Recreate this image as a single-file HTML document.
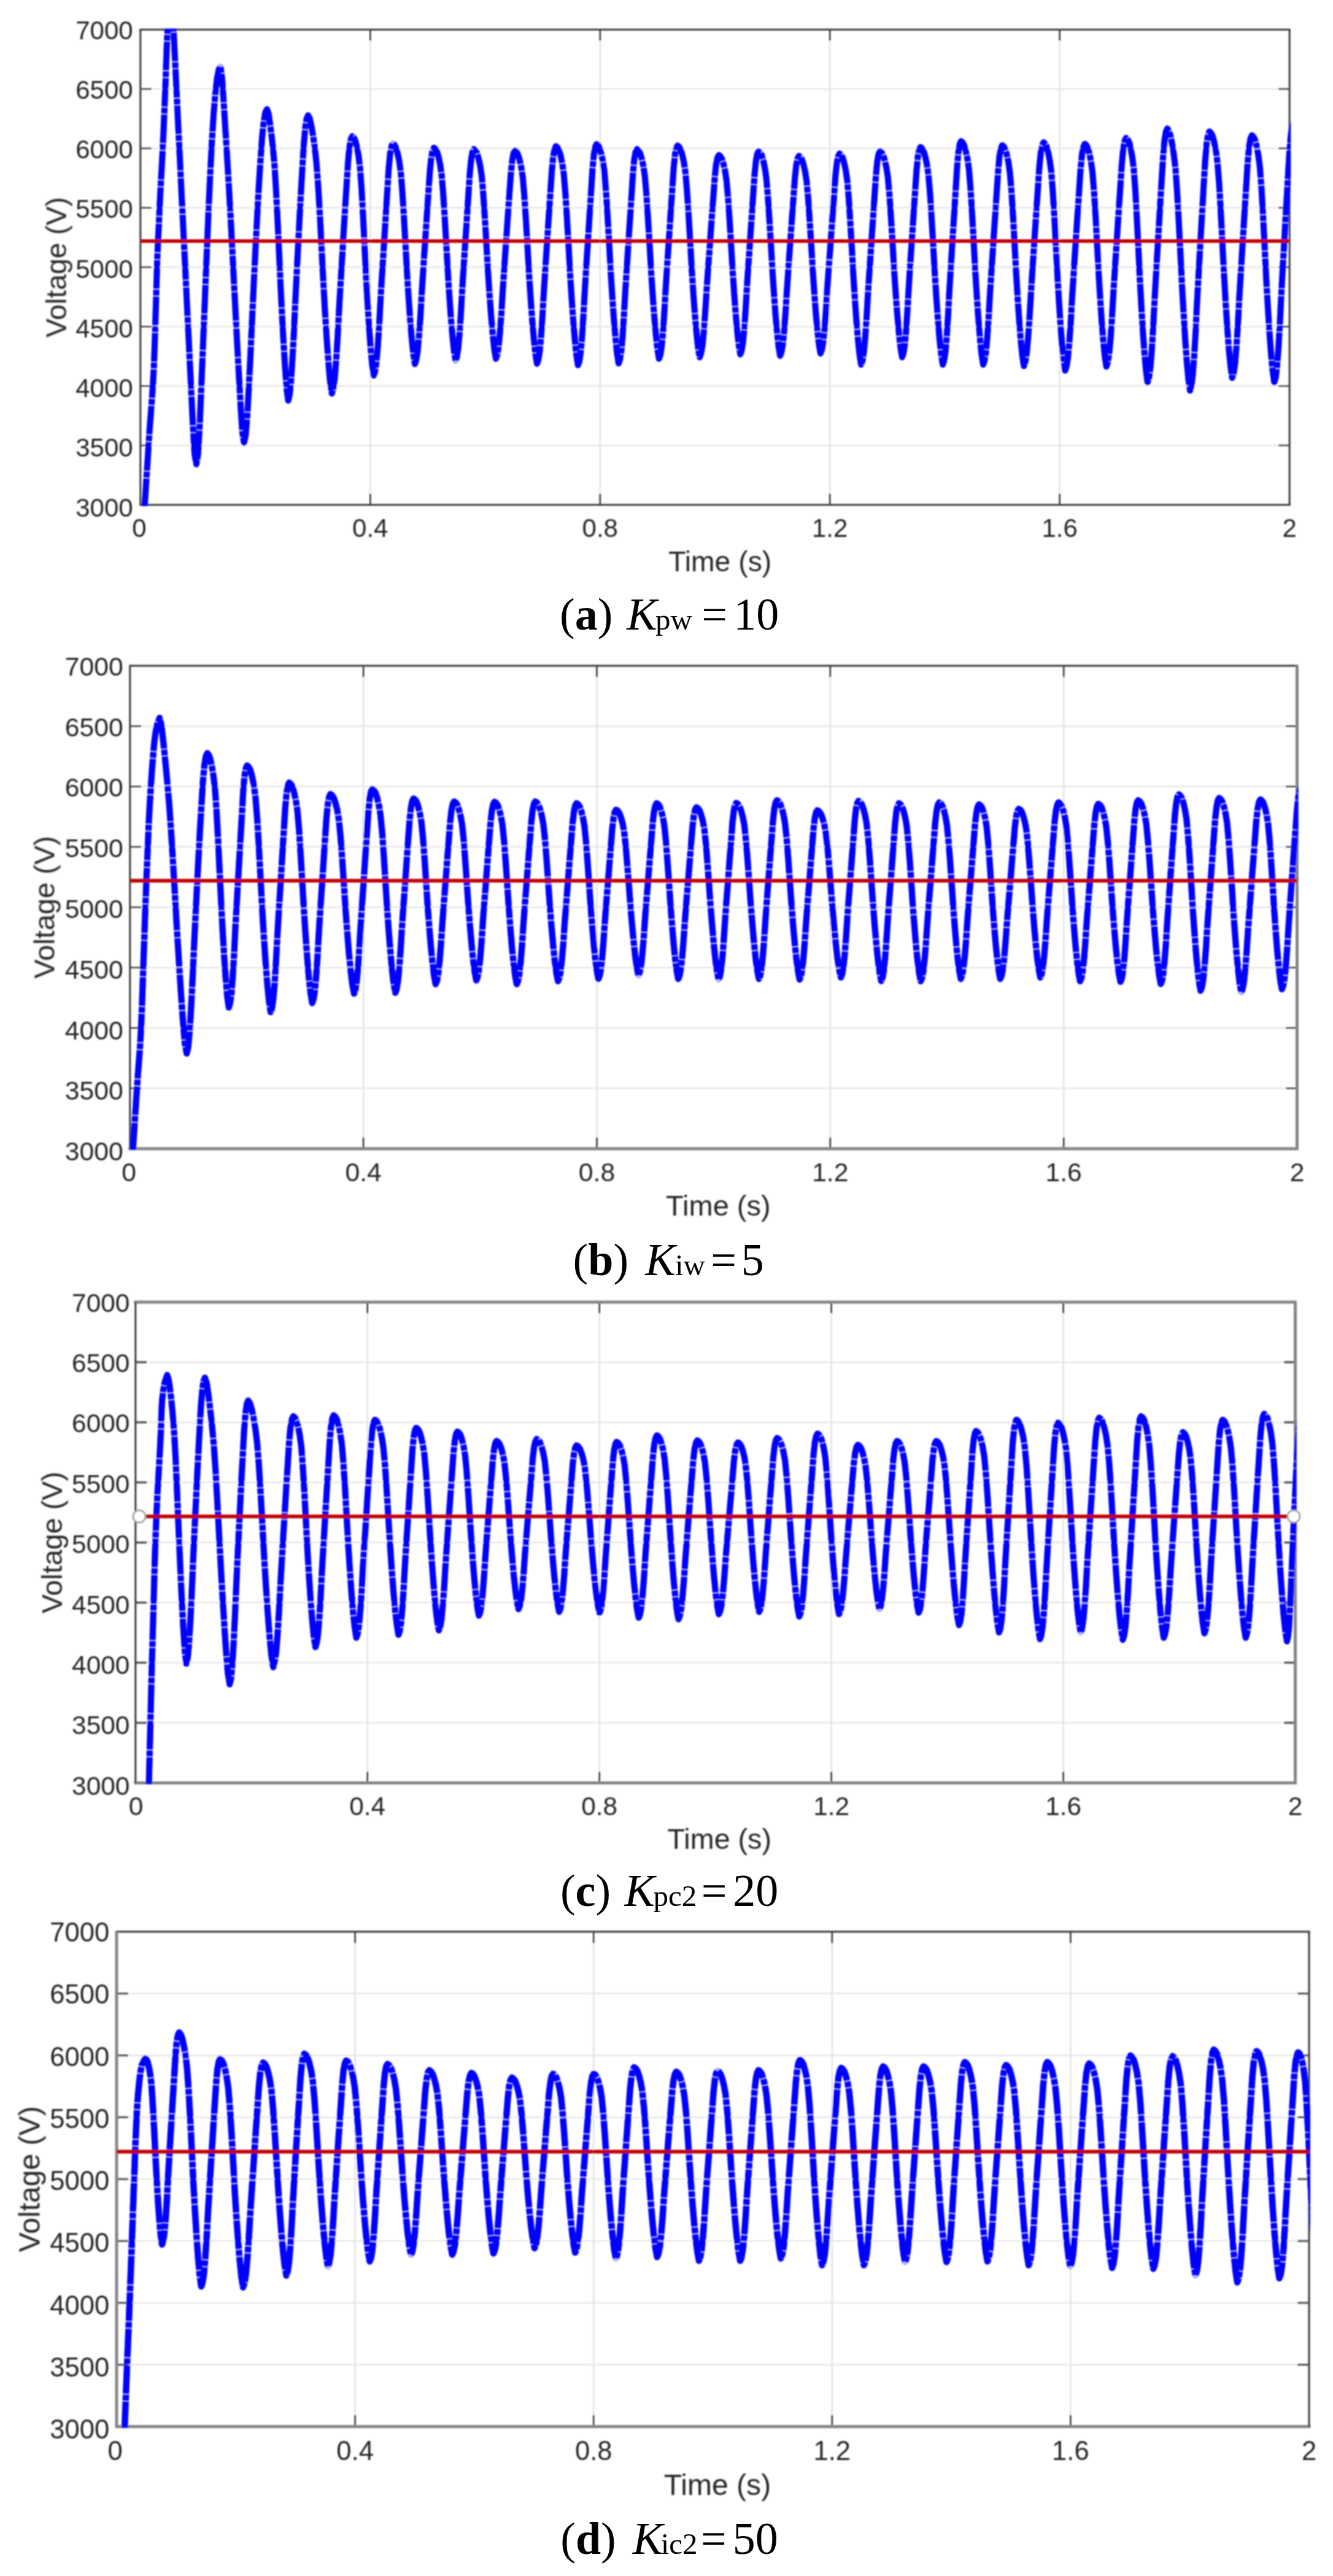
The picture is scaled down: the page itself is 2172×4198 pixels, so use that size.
<!DOCTYPE html>
<html><head><meta charset="utf-8"><title>Figure</title>
<style>
html,body{margin:0;padding:0;background:#fff;}
body{width:2172px;height:4198px;overflow:hidden;}
svg{display:block;}
.sa{font-family:"Liberation Sans",Arial,Helvetica,sans-serif;fill:#262626;}
.se{font-family:"Liberation Serif","Times New Roman",serif;fill:#000;}
</style></head><body>
<svg width="2172" height="4198" viewBox="0 0 2172 4198">
<rect width="2172" height="4198" fill="#fff"/>
<defs><filter id="bl" x="-2%" y="-2%" width="104%" height="104%"><feGaussianBlur stdDeviation="0.85"/></filter></defs>
<g filter="url(#bl)">
<line x1="603.3" y1="48.2" x2="603.3" y2="822.7" stroke="#dcdcdc" stroke-width="2"/>
<line x1="977.8" y1="48.2" x2="977.8" y2="822.7" stroke="#dcdcdc" stroke-width="2"/>
<line x1="1352.2" y1="48.2" x2="1352.2" y2="822.7" stroke="#dcdcdc" stroke-width="2"/>
<line x1="1726.7" y1="48.2" x2="1726.7" y2="822.7" stroke="#dcdcdc" stroke-width="2"/>
<line x1="228.8" y1="145.0" x2="2101.2" y2="145.0" stroke="#e6e6e6" stroke-width="2.5"/>
<line x1="228.8" y1="241.8" x2="2101.2" y2="241.8" stroke="#e6e6e6" stroke-width="2.5"/>
<line x1="228.8" y1="338.6" x2="2101.2" y2="338.6" stroke="#e6e6e6" stroke-width="2.5"/>
<line x1="228.8" y1="435.4" x2="2101.2" y2="435.4" stroke="#e6e6e6" stroke-width="2.5"/>
<line x1="228.8" y1="532.3" x2="2101.2" y2="532.3" stroke="#e6e6e6" stroke-width="2.5"/>
<line x1="228.8" y1="629.1" x2="2101.2" y2="629.1" stroke="#e6e6e6" stroke-width="2.5"/>
<line x1="228.8" y1="725.9" x2="2101.2" y2="725.9" stroke="#e6e6e6" stroke-width="2.5"/>
<line x1="603.3" y1="48.2" x2="603.3" y2="66.2" stroke="#333" stroke-width="2.5"/>
<line x1="603.3" y1="822.7" x2="603.3" y2="804.7" stroke="#333" stroke-width="2.5"/>
<line x1="977.8" y1="48.2" x2="977.8" y2="66.2" stroke="#333" stroke-width="2.5"/>
<line x1="977.8" y1="822.7" x2="977.8" y2="804.7" stroke="#333" stroke-width="2.5"/>
<line x1="1352.2" y1="48.2" x2="1352.2" y2="66.2" stroke="#333" stroke-width="2.5"/>
<line x1="1352.2" y1="822.7" x2="1352.2" y2="804.7" stroke="#333" stroke-width="2.5"/>
<line x1="1726.7" y1="48.2" x2="1726.7" y2="66.2" stroke="#333" stroke-width="2.5"/>
<line x1="1726.7" y1="822.7" x2="1726.7" y2="804.7" stroke="#333" stroke-width="2.5"/>
<line x1="228.8" y1="145.0" x2="246.8" y2="145.0" stroke="#444" stroke-width="2.5"/>
<line x1="2101.2" y1="145.0" x2="2083.2" y2="145.0" stroke="#444" stroke-width="2.5"/>
<line x1="228.8" y1="241.8" x2="246.8" y2="241.8" stroke="#444" stroke-width="2.5"/>
<line x1="2101.2" y1="241.8" x2="2083.2" y2="241.8" stroke="#444" stroke-width="2.5"/>
<line x1="228.8" y1="338.6" x2="246.8" y2="338.6" stroke="#444" stroke-width="2.5"/>
<line x1="2101.2" y1="338.6" x2="2083.2" y2="338.6" stroke="#444" stroke-width="2.5"/>
<line x1="228.8" y1="435.4" x2="246.8" y2="435.4" stroke="#444" stroke-width="2.5"/>
<line x1="2101.2" y1="435.4" x2="2083.2" y2="435.4" stroke="#444" stroke-width="2.5"/>
<line x1="228.8" y1="532.3" x2="246.8" y2="532.3" stroke="#444" stroke-width="2.5"/>
<line x1="2101.2" y1="532.3" x2="2083.2" y2="532.3" stroke="#444" stroke-width="2.5"/>
<line x1="228.8" y1="629.1" x2="246.8" y2="629.1" stroke="#444" stroke-width="2.5"/>
<line x1="2101.2" y1="629.1" x2="2083.2" y2="629.1" stroke="#444" stroke-width="2.5"/>
<line x1="228.8" y1="725.9" x2="246.8" y2="725.9" stroke="#444" stroke-width="2.5"/>
<line x1="2101.2" y1="725.9" x2="2083.2" y2="725.9" stroke="#444" stroke-width="2.5"/>
<line x1="227.3" y1="48.2" x2="2102.7" y2="48.2" stroke="#3a3a3a" stroke-width="3"/>
<line x1="227.3" y1="822.7" x2="2102.7" y2="822.7" stroke="#3a3a3a" stroke-width="3"/>
<line x1="228.8" y1="48.2" x2="228.8" y2="822.7" stroke="#3a3a3a" stroke-width="3"/>
<line x1="2101.2" y1="48.2" x2="2101.2" y2="822.7" stroke="#3a3a3a" stroke-width="3"/>
<clipPath id="cpa"><rect x="227.3" y="46.7" width="1875.8999999999999" height="778.0"/></clipPath>
<g clip-path="url(#cpa)" fill="none" stroke="#0000ff" stroke-linejoin="round" stroke-width="10.0"><path d="M235.6 826.0 L236.7 809.0 L237.8 792.1 L238.9 775.1 L240.0 758.2 L241.1 741.3 L242.2 724.3 L243.3 707.4 L244.5 690.4 L245.8 673.5 L247.1 656.5 L248.3 639.6 L249.4 622.6 L250.3 605.7 L251.1 588.7 L251.7 571.7 L252.3 554.8 L252.8 537.8 L253.3 520.8 L253.8 503.8 L254.3 486.9 L254.8 469.9 L255.3 452.9 L255.8 435.9 L256.4 418.9 L257.1 402.0 L257.9 385.0 L258.7 368.0 L259.5 351.1 L260.3 334.1 L261.1 317.1 L262.0 300.2 L262.9 283.2 L263.9 266.3 L264.8 249.3 L265.6 232.3 L266.4 215.4 L267.1 198.4 L267.8 181.4 L268.5 164.5 L269.2 147.5 L269.9 130.5 L270.4 113.5 L271.0 96.6 L271.6 79.6 L272.3 62.6 L273.1 45.7 L274.4 28.7 L276.0 11.8 L278.5 -5.0 L281.5 22.0 L284.4 82.0 L287.4 142.5 L290.3 202.9 L293.3 263.3 L296.2 323.8 L299.2 384.2 L302.2 444.6 L305.1 505.1 L308.1 565.5 L311.0 626.0 L314.0 686.4 L316.9 738.5 L319.9 756.5 L322.7 740.2 L325.5 691.4 L328.3 623.2 L331.1 554.8 L333.9 486.2 L336.7 417.7 L339.5 349.2 L342.4 285.5 L345.2 231.6 L348.0 187.4 L350.8 152.9 L353.6 128.3 L356.4 113.5 L359.2 108.6 L361.9 127.6 L364.7 169.9 L367.4 213.6 L370.2 258.1 L372.9 304.0 L375.7 353.3 L378.4 405.1 L381.1 458.0 L383.9 511.1 L386.6 562.9 L389.4 613.6 L392.1 662.9 L394.9 704.9 L397.6 721.4 L400.3 709.4 L402.9 676.9 L405.6 628.1 L408.3 574.4 L411.0 515.9 L413.6 460.3 L416.3 405.6 L419.0 353.3 L421.6 305.6 L424.3 263.1 L427.0 224.9 L429.7 198.3 L432.3 183.3 L435.0 178.0 L437.5 185.0 L439.9 200.5 L442.4 220.2 L444.9 242.8 L447.4 270.5 L449.8 310.4 L452.3 359.5 L454.8 413.0 L457.2 467.0 L459.7 516.0 L462.2 561.4 L464.7 601.4 L467.1 634.1 L469.6 652.8 L471.9 643.6 L474.2 621.2 L476.5 584.8 L478.9 541.3 L481.2 490.7 L483.5 444.4 L485.8 399.4 L488.1 355.3 L490.4 312.8 L492.7 273.0 L495.1 234.4 L497.4 207.8 L499.7 193.3 L502.0 188.0 L504.8 193.6 L507.5 205.8 L510.3 222.4 L513.1 242.2 L515.8 267.5 L518.6 305.9 L521.4 354.1 L524.1 407.0 L526.9 460.5 L529.6 508.5 L532.4 552.8 L535.2 591.3 L537.9 622.5 L540.7 641.2 L543.1 633.4 L545.5 616.0 L547.8 586.1 L550.2 548.1 L552.6 502.1 L555.0 461.0 L557.4 421.3 L559.7 382.0 L562.1 342.8 L564.5 305.1 L566.9 267.1 L569.2 241.2 L571.6 227.1 L574.0 222.0 L576.5 224.3 L579.0 229.4 L581.5 239.2 L584.0 252.5 L586.5 271.8 L589.0 305.3 L591.5 349.7 L593.9 399.1 L596.4 449.2 L598.9 493.4 L601.4 533.4 L603.9 567.1 L606.4 594.0 L608.9 612.0 L611.1 605.2 L613.3 590.6 L615.6 564.6 L617.8 530.8 L620.0 489.2 L622.2 452.2 L624.5 416.8 L626.7 381.4 L628.9 345.7 L631.1 310.9 L633.3 275.5 L635.6 251.3 L637.8 238.3 L640.0 233.5 L642.6 235.7 L645.1 240.3 L647.7 249.4 L650.3 261.6 L652.9 279.4 L655.4 310.4 L658.0 351.3 L660.6 396.8 L663.1 443.1 L665.7 483.8 L668.3 520.7 L670.9 551.8 L673.4 576.6 L676.0 593.2 L678.2 586.8 L680.4 573.2 L682.6 549.0 L684.9 517.6 L687.1 478.8 L689.3 444.4 L691.5 411.4 L693.7 378.4 L695.9 345.2 L698.1 312.8 L700.4 279.8 L702.6 257.3 L704.8 245.1 L707.0 240.7 L709.5 242.8 L712.0 247.3 L714.6 256.0 L717.1 267.8 L719.6 285.0 L722.1 314.9 L724.6 354.4 L727.2 398.4 L729.7 443.0 L732.2 482.4 L734.7 518.0 L737.3 548.0 L739.8 572.0 L742.3 588.0 L744.4 581.8 L746.5 568.5 L748.7 544.8 L750.8 514.0 L752.9 476.0 L755.0 442.4 L757.1 410.1 L759.3 377.8 L761.4 345.2 L763.5 313.6 L765.6 281.2 L767.8 259.2 L769.9 247.4 L772.0 243.0 L774.6 245.1 L777.1 249.5 L779.7 258.1 L782.3 269.7 L784.9 286.6 L787.4 316.0 L790.0 354.8 L792.6 398.1 L795.1 442.0 L797.7 480.7 L800.3 515.8 L802.9 545.3 L805.4 568.8 L808.0 584.6 L810.2 578.5 L812.4 565.4 L814.6 542.1 L816.9 511.9 L819.1 474.6 L821.3 441.5 L823.5 409.7 L825.7 378.0 L827.9 346.0 L830.1 314.9 L832.4 283.1 L834.6 261.4 L836.8 249.8 L839.0 245.5 L841.6 247.6 L844.1 252.1 L846.7 260.8 L849.3 272.6 L851.9 289.8 L854.4 319.7 L857.0 359.2 L859.6 403.2 L862.1 447.8 L864.7 487.1 L867.3 522.7 L869.9 552.7 L872.4 576.7 L875.0 592.7 L877.2 586.3 L879.4 572.6 L881.6 548.3 L883.8 516.7 L886.0 477.7 L888.2 443.1 L890.4 409.9 L892.6 376.8 L894.8 343.3 L897.0 310.8 L899.2 277.6 L901.4 254.9 L903.6 242.8 L905.8 238.3 L908.4 240.4 L910.9 245.1 L913.5 254.0 L916.1 266.2 L918.7 283.8 L921.2 314.5 L923.8 355.1 L926.4 400.3 L928.9 446.2 L931.5 486.6 L934.1 523.2 L936.7 554.0 L939.2 578.6 L941.8 595.1 L944.0 588.6 L946.1 574.7 L948.3 550.0 L950.4 517.8 L952.6 478.2 L954.7 443.1 L956.9 409.3 L959.1 375.6 L961.2 341.6 L963.4 308.6 L965.5 274.8 L967.7 251.8 L969.8 239.4 L972.0 234.9 L974.6 237.0 L977.1 241.7 L979.7 250.7 L982.3 262.8 L984.9 280.5 L987.4 311.3 L990.0 351.9 L992.6 397.2 L995.1 443.1 L997.7 483.6 L1000.3 520.3 L1002.9 551.2 L1005.4 575.8 L1008.0 592.3 L1010.1 586.0 L1012.3 572.5 L1014.4 548.5 L1016.5 517.4 L1018.6 478.9 L1020.8 444.9 L1022.9 412.1 L1025.0 379.5 L1027.2 346.5 L1029.3 314.5 L1031.4 281.7 L1033.5 259.4 L1035.7 247.4 L1037.8 243.0 L1040.4 245.1 L1042.9 249.5 L1045.5 258.1 L1048.1 269.7 L1050.7 286.6 L1053.2 316.0 L1055.8 354.8 L1058.4 398.1 L1060.9 442.0 L1063.5 480.7 L1066.1 515.8 L1068.7 545.3 L1071.2 568.8 L1073.8 584.6 L1076.0 578.3 L1078.1 564.9 L1080.3 541.1 L1082.4 510.1 L1084.6 471.9 L1086.7 438.0 L1088.9 405.5 L1091.1 373.0 L1093.2 340.2 L1095.4 308.4 L1097.5 275.8 L1099.7 253.6 L1101.8 241.7 L1104.0 237.3 L1106.6 239.4 L1109.1 243.8 L1111.7 252.5 L1114.3 264.2 L1116.9 281.3 L1119.4 311.0 L1122.0 350.2 L1124.6 393.9 L1127.1 438.2 L1129.7 477.3 L1132.3 512.7 L1134.9 542.5 L1137.4 566.3 L1140.0 582.2 L1142.2 576.3 L1144.5 563.5 L1146.7 540.9 L1148.9 511.5 L1151.2 475.3 L1153.4 443.1 L1155.7 412.3 L1157.9 381.4 L1160.1 350.3 L1162.4 320.1 L1164.6 289.2 L1166.8 268.2 L1169.1 256.9 L1171.3 252.7 L1173.8 254.7 L1176.3 258.9 L1178.8 267.0 L1181.3 278.1 L1183.8 294.1 L1186.3 322.1 L1188.8 359.0 L1191.3 400.2 L1193.8 441.9 L1196.3 478.7 L1198.8 512.0 L1201.3 540.0 L1203.8 562.4 L1206.3 577.4 L1208.4 571.4 L1210.5 558.7 L1212.7 535.9 L1214.8 506.4 L1216.9 470.0 L1219.0 437.7 L1221.2 406.7 L1223.3 375.7 L1225.4 344.5 L1227.5 314.1 L1229.6 283.1 L1231.8 261.9 L1233.9 250.6 L1236.0 246.4 L1238.5 248.4 L1241.0 252.7 L1243.5 261.1 L1246.0 272.4 L1248.5 288.9 L1251.0 317.6 L1253.5 355.5 L1256.1 397.8 L1258.6 440.6 L1261.1 478.4 L1263.6 512.6 L1266.1 541.4 L1268.6 564.4 L1271.1 579.8 L1273.3 573.9 L1275.5 561.4 L1277.7 539.0 L1279.9 509.9 L1282.1 474.1 L1284.3 442.3 L1286.4 411.8 L1288.6 381.4 L1290.8 350.6 L1293.0 320.7 L1295.2 290.2 L1297.4 269.4 L1299.6 258.2 L1301.8 254.1 L1304.3 256.0 L1306.8 260.2 L1309.3 268.3 L1311.8 279.2 L1314.3 295.2 L1316.8 322.9 L1319.3 359.5 L1321.9 400.3 L1324.4 441.6 L1326.9 478.1 L1329.4 511.1 L1331.9 539.0 L1334.4 561.2 L1336.9 576.0 L1339.1 570.1 L1341.3 557.6 L1343.6 535.2 L1345.8 506.1 L1348.0 470.3 L1350.2 438.5 L1352.5 408.0 L1354.7 377.6 L1356.9 346.8 L1359.1 316.9 L1361.3 286.4 L1363.6 265.6 L1365.8 254.4 L1368.0 250.3 L1370.5 252.4 L1373.0 256.8 L1375.5 265.5 L1378.0 277.2 L1380.5 294.2 L1383.0 323.8 L1385.5 362.9 L1388.1 406.5 L1390.6 450.7 L1393.1 489.6 L1395.6 524.9 L1398.1 554.6 L1400.6 578.3 L1403.1 594.2 L1405.3 587.9 L1407.5 574.5 L1409.7 550.6 L1411.9 519.6 L1414.1 481.3 L1416.3 447.4 L1418.5 414.8 L1420.7 382.3 L1422.9 349.5 L1425.1 317.6 L1427.3 285.0 L1429.5 262.7 L1431.7 250.8 L1433.9 246.4 L1436.5 248.4 L1439.0 252.8 L1441.6 261.2 L1444.2 272.6 L1446.8 289.2 L1449.3 318.2 L1451.9 356.3 L1454.5 398.9 L1457.0 442.0 L1459.6 480.1 L1462.2 514.5 L1464.8 543.6 L1467.3 566.7 L1469.9 582.2 L1472.0 576.0 L1474.2 562.8 L1476.3 539.3 L1478.4 508.7 L1480.6 471.0 L1482.7 437.6 L1484.8 405.6 L1487.0 373.5 L1489.1 341.2 L1491.3 309.8 L1493.4 277.7 L1495.5 255.8 L1497.7 244.0 L1499.8 239.7 L1502.4 241.8 L1505.0 246.4 L1507.6 255.3 L1510.2 267.4 L1512.8 284.9 L1515.4 315.5 L1518.0 355.7 L1520.6 400.7 L1523.2 446.2 L1525.8 486.4 L1528.4 522.8 L1531.0 553.4 L1533.6 577.9 L1536.2 594.2 L1538.3 587.6 L1540.5 573.6 L1542.6 548.6 L1544.7 516.1 L1546.8 476.0 L1549.0 440.5 L1551.1 406.4 L1553.2 372.4 L1555.4 338.0 L1557.5 304.6 L1559.6 270.5 L1561.7 247.2 L1563.9 234.7 L1566.0 230.1 L1568.6 232.3 L1571.1 237.0 L1573.7 246.2 L1576.3 258.5 L1578.9 276.5 L1581.4 307.9 L1584.0 349.3 L1586.6 395.4 L1589.1 442.2 L1591.7 483.5 L1594.3 520.8 L1596.9 552.3 L1599.4 577.4 L1602.0 594.2 L1604.2 587.8 L1606.5 574.0 L1608.7 549.4 L1610.9 517.5 L1613.1 478.2 L1615.4 443.3 L1617.6 409.9 L1619.8 376.4 L1622.1 342.7 L1624.3 309.9 L1626.5 276.4 L1628.7 253.6 L1631.0 241.3 L1633.2 236.8 L1635.7 239.0 L1638.2 243.6 L1640.7 252.7 L1643.2 264.9 L1645.7 282.7 L1648.2 313.7 L1650.8 354.6 L1653.3 400.2 L1655.8 446.4 L1658.3 487.2 L1660.8 524.1 L1663.3 555.2 L1665.8 580.0 L1668.3 596.6 L1670.6 590.0 L1672.9 576.0 L1675.2 550.9 L1677.5 518.4 L1679.8 478.3 L1682.1 442.7 L1684.3 408.6 L1686.6 374.5 L1688.9 340.0 L1691.2 306.6 L1693.5 272.4 L1695.8 249.1 L1698.1 236.6 L1700.4 232.0 L1702.9 234.2 L1705.4 239.0 L1707.9 248.4 L1710.4 261.0 L1712.9 279.4 L1715.4 311.4 L1718.0 353.7 L1720.5 400.8 L1723.0 448.6 L1725.5 490.7 L1728.0 528.9 L1730.5 561.0 L1733.0 586.7 L1735.5 603.8 L1737.8 597.1 L1740.1 582.9 L1742.4 557.5 L1744.7 524.6 L1747.0 483.9 L1749.3 447.9 L1751.5 413.3 L1753.8 378.7 L1756.1 343.9 L1758.4 310.0 L1760.7 275.4 L1763.0 251.8 L1765.3 239.1 L1767.6 234.4 L1770.1 236.6 L1772.6 241.3 L1775.1 250.4 L1777.6 262.8 L1780.1 280.7 L1782.6 312.0 L1785.2 353.3 L1787.7 399.3 L1790.2 445.9 L1792.7 487.1 L1795.2 524.3 L1797.7 555.7 L1800.2 580.8 L1802.7 597.5 L1805.0 590.8 L1807.3 576.4 L1809.6 550.8 L1811.9 517.5 L1814.2 476.5 L1816.5 440.2 L1818.8 405.3 L1821.1 370.4 L1823.4 335.2 L1825.7 301.0 L1828.0 266.1 L1830.3 242.3 L1832.6 229.5 L1834.9 224.8 L1837.4 227.2 L1839.9 232.3 L1842.4 242.4 L1844.9 255.9 L1847.4 275.6 L1849.9 309.9 L1852.4 355.2 L1854.9 405.6 L1857.4 456.8 L1859.9 501.9 L1862.4 542.8 L1864.9 577.2 L1867.4 604.6 L1869.9 623.0 L1872.2 615.4 L1874.5 598.6 L1876.8 569.4 L1879.1 532.1 L1881.4 486.7 L1883.7 446.2 L1886.0 407.2 L1888.3 368.4 L1890.6 329.6 L1892.9 292.2 L1895.2 254.4 L1897.5 228.6 L1899.8 214.6 L1902.1 209.5 L1904.7 213.4 L1907.4 222.0 L1910.0 235.2 L1912.6 251.8 L1915.3 274.3 L1917.9 310.7 L1920.5 357.7 L1923.2 409.6 L1925.8 462.2 L1928.5 509.0 L1931.1 551.8 L1933.7 588.3 L1936.4 617.7 L1939.0 636.4 L1941.3 628.5 L1943.5 610.9 L1945.8 580.5 L1948.1 542.2 L1950.3 495.9 L1952.6 454.4 L1954.8 414.4 L1957.1 374.8 L1959.4 335.4 L1961.6 297.5 L1963.9 259.5 L1966.2 233.5 L1968.4 219.4 L1970.7 214.3 L1973.3 216.8 L1976.0 222.1 L1978.6 232.4 L1981.3 246.1 L1983.9 266.1 L1986.6 300.6 L1989.2 346.2 L1991.8 397.0 L1994.5 448.4 L1997.1 493.8 L1999.8 535.0 L2002.4 569.7 L2005.1 597.3 L2007.7 615.8 L2010.0 608.7 L2012.3 593.4 L2014.6 566.3 L2016.9 531.0 L2019.2 487.5 L2021.5 448.9 L2023.8 411.9 L2026.1 374.9 L2028.4 337.6 L2030.7 301.4 L2033.0 264.3 L2035.3 239.1 L2037.6 225.5 L2039.9 220.5 L2042.5 223.0 L2045.1 228.5 L2047.7 238.9 L2050.3 252.7 L2052.9 272.8 L2055.5 307.4 L2058.1 353.0 L2060.7 403.8 L2063.3 455.4 L2065.9 500.8 L2068.5 542.0 L2071.1 576.8 L2073.7 604.5 L2076.3 623.0 L2078.6 615.1 L2080.8 597.3 L2083.1 566.9 L2085.4 528.5 L2087.6 482.1 L2089.9 440.5 L2092.2 400.4 L2094.4 360.7 L2096.7 321.2 L2098.9 283.3 L2101.2 245.2 L2103.5 219.2 L2105.7 205.1 L2108.0 200.0" stroke-opacity="0.3"/><path d="M235.6 826.0 L236.7 809.0 L237.8 792.1 L238.9 775.1 L240.0 758.2 L241.1 741.3 L242.2 724.3 L243.3 707.4 L244.5 690.4 L245.8 673.5 L247.1 656.5 L248.3 639.6 L249.4 622.6 L250.3 605.7 L251.1 588.7 L251.7 571.7 L252.3 554.8 L252.8 537.8 L253.3 520.8 L253.8 503.8 L254.3 486.9 L254.8 469.9 L255.3 452.9 L255.8 435.9 L256.4 418.9 L257.1 402.0 L257.9 385.0 L258.7 368.0 L259.5 351.1 L260.3 334.1 L261.1 317.1 L262.0 300.2 L262.9 283.2 L263.9 266.3 L264.8 249.3 L265.6 232.3 L266.4 215.4 L267.1 198.4 L267.8 181.4 L268.5 164.5 L269.2 147.5 L269.9 130.5 L270.4 113.5 L271.0 96.6 L271.6 79.6 L272.3 62.6 L273.1 45.7 L274.4 28.7 L276.0 11.8 L278.5 -5.0 L281.5 22.0 L284.4 82.0 L287.4 142.5 L290.3 202.9 L293.3 263.3 L296.2 323.8 L299.2 384.2 L302.2 444.6 L305.1 505.1 L308.1 565.5 L311.0 626.0 L314.0 686.4 L316.9 738.5 L319.9 756.5 L322.7 740.2 L325.5 691.4 L328.3 623.2 L331.1 554.8 L333.9 486.2 L336.7 417.7 L339.5 349.2 L342.4 285.5 L345.2 231.6 L348.0 187.4 L350.8 152.9 L353.6 128.3 L356.4 113.5 L359.2 108.6 L361.9 127.6 L364.7 169.9 L367.4 213.6 L370.2 258.1 L372.9 304.0 L375.7 353.3 L378.4 405.1 L381.1 458.0 L383.9 511.1 L386.6 562.9 L389.4 613.6 L392.1 662.9 L394.9 704.9 L397.6 721.4 L400.3 709.4 L402.9 676.9 L405.6 628.1 L408.3 574.4 L411.0 515.9 L413.6 460.3 L416.3 405.6 L419.0 353.3 L421.6 305.6 L424.3 263.1 L427.0 224.9 L429.7 198.3 L432.3 183.3 L435.0 178.0 L437.5 185.0 L439.9 200.5 L442.4 220.2 L444.9 242.8 L447.4 270.5 L449.8 310.4 L452.3 359.5 L454.8 413.0 L457.2 467.0 L459.7 516.0 L462.2 561.4 L464.7 601.4 L467.1 634.1 L469.6 652.8 L471.9 643.6 L474.2 621.2 L476.5 584.8 L478.9 541.3 L481.2 490.7 L483.5 444.4 L485.8 399.4 L488.1 355.3 L490.4 312.8 L492.7 273.0 L495.1 234.4 L497.4 207.8 L499.7 193.3 L502.0 188.0 L504.8 193.6 L507.5 205.8 L510.3 222.4 L513.1 242.2 L515.8 267.5 L518.6 305.9 L521.4 354.1 L524.1 407.0 L526.9 460.5 L529.6 508.5 L532.4 552.8 L535.2 591.3 L537.9 622.5 L540.7 641.2 L543.1 633.4 L545.5 616.0 L547.8 586.1 L550.2 548.1 L552.6 502.1 L555.0 461.0 L557.4 421.3 L559.7 382.0 L562.1 342.8 L564.5 305.1 L566.9 267.1 L569.2 241.2 L571.6 227.1 L574.0 222.0 L576.5 224.3 L579.0 229.4 L581.5 239.2 L584.0 252.5 L586.5 271.8 L589.0 305.3 L591.5 349.7 L593.9 399.1 L596.4 449.2 L598.9 493.4 L601.4 533.4 L603.9 567.1 L606.4 594.0 L608.9 612.0 L611.1 605.2 L613.3 590.6 L615.6 564.6 L617.8 530.8 L620.0 489.2 L622.2 452.2 L624.5 416.8 L626.7 381.4 L628.9 345.7 L631.1 310.9 L633.3 275.5 L635.6 251.3 L637.8 238.3 L640.0 233.5 L642.6 235.7 L645.1 240.3 L647.7 249.4 L650.3 261.6 L652.9 279.4 L655.4 310.4 L658.0 351.3 L660.6 396.8 L663.1 443.1 L665.7 483.8 L668.3 520.7 L670.9 551.8 L673.4 576.6 L676.0 593.2 L678.2 586.8 L680.4 573.2 L682.6 549.0 L684.9 517.6 L687.1 478.8 L689.3 444.4 L691.5 411.4 L693.7 378.4 L695.9 345.2 L698.1 312.8 L700.4 279.8 L702.6 257.3 L704.8 245.1 L707.0 240.7 L709.5 242.8 L712.0 247.3 L714.6 256.0 L717.1 267.8 L719.6 285.0 L722.1 314.9 L724.6 354.4 L727.2 398.4 L729.7 443.0 L732.2 482.4 L734.7 518.0 L737.3 548.0 L739.8 572.0 L742.3 588.0 L744.4 581.8 L746.5 568.5 L748.7 544.8 L750.8 514.0 L752.9 476.0 L755.0 442.4 L757.1 410.1 L759.3 377.8 L761.4 345.2 L763.5 313.6 L765.6 281.2 L767.8 259.2 L769.9 247.4 L772.0 243.0 L774.6 245.1 L777.1 249.5 L779.7 258.1 L782.3 269.7 L784.9 286.6 L787.4 316.0 L790.0 354.8 L792.6 398.1 L795.1 442.0 L797.7 480.7 L800.3 515.8 L802.9 545.3 L805.4 568.8 L808.0 584.6 L810.2 578.5 L812.4 565.4 L814.6 542.1 L816.9 511.9 L819.1 474.6 L821.3 441.5 L823.5 409.7 L825.7 378.0 L827.9 346.0 L830.1 314.9 L832.4 283.1 L834.6 261.4 L836.8 249.8 L839.0 245.5 L841.6 247.6 L844.1 252.1 L846.7 260.8 L849.3 272.6 L851.9 289.8 L854.4 319.7 L857.0 359.2 L859.6 403.2 L862.1 447.8 L864.7 487.1 L867.3 522.7 L869.9 552.7 L872.4 576.7 L875.0 592.7 L877.2 586.3 L879.4 572.6 L881.6 548.3 L883.8 516.7 L886.0 477.7 L888.2 443.1 L890.4 409.9 L892.6 376.8 L894.8 343.3 L897.0 310.8 L899.2 277.6 L901.4 254.9 L903.6 242.8 L905.8 238.3 L908.4 240.4 L910.9 245.1 L913.5 254.0 L916.1 266.2 L918.7 283.8 L921.2 314.5 L923.8 355.1 L926.4 400.3 L928.9 446.2 L931.5 486.6 L934.1 523.2 L936.7 554.0 L939.2 578.6 L941.8 595.1 L944.0 588.6 L946.1 574.7 L948.3 550.0 L950.4 517.8 L952.6 478.2 L954.7 443.1 L956.9 409.3 L959.1 375.6 L961.2 341.6 L963.4 308.6 L965.5 274.8 L967.7 251.8 L969.8 239.4 L972.0 234.9 L974.6 237.0 L977.1 241.7 L979.7 250.7 L982.3 262.8 L984.9 280.5 L987.4 311.3 L990.0 351.9 L992.6 397.2 L995.1 443.1 L997.7 483.6 L1000.3 520.3 L1002.9 551.2 L1005.4 575.8 L1008.0 592.3 L1010.1 586.0 L1012.3 572.5 L1014.4 548.5 L1016.5 517.4 L1018.6 478.9 L1020.8 444.9 L1022.9 412.1 L1025.0 379.5 L1027.2 346.5 L1029.3 314.5 L1031.4 281.7 L1033.5 259.4 L1035.7 247.4 L1037.8 243.0 L1040.4 245.1 L1042.9 249.5 L1045.5 258.1 L1048.1 269.7 L1050.7 286.6 L1053.2 316.0 L1055.8 354.8 L1058.4 398.1 L1060.9 442.0 L1063.5 480.7 L1066.1 515.8 L1068.7 545.3 L1071.2 568.8 L1073.8 584.6 L1076.0 578.3 L1078.1 564.9 L1080.3 541.1 L1082.4 510.1 L1084.6 471.9 L1086.7 438.0 L1088.9 405.5 L1091.1 373.0 L1093.2 340.2 L1095.4 308.4 L1097.5 275.8 L1099.7 253.6 L1101.8 241.7 L1104.0 237.3 L1106.6 239.4 L1109.1 243.8 L1111.7 252.5 L1114.3 264.2 L1116.9 281.3 L1119.4 311.0 L1122.0 350.2 L1124.6 393.9 L1127.1 438.2 L1129.7 477.3 L1132.3 512.7 L1134.9 542.5 L1137.4 566.3 L1140.0 582.2 L1142.2 576.3 L1144.5 563.5 L1146.7 540.9 L1148.9 511.5 L1151.2 475.3 L1153.4 443.1 L1155.7 412.3 L1157.9 381.4 L1160.1 350.3 L1162.4 320.1 L1164.6 289.2 L1166.8 268.2 L1169.1 256.9 L1171.3 252.7 L1173.8 254.7 L1176.3 258.9 L1178.8 267.0 L1181.3 278.1 L1183.8 294.1 L1186.3 322.1 L1188.8 359.0 L1191.3 400.2 L1193.8 441.9 L1196.3 478.7 L1198.8 512.0 L1201.3 540.0 L1203.8 562.4 L1206.3 577.4 L1208.4 571.4 L1210.5 558.7 L1212.7 535.9 L1214.8 506.4 L1216.9 470.0 L1219.0 437.7 L1221.2 406.7 L1223.3 375.7 L1225.4 344.5 L1227.5 314.1 L1229.6 283.1 L1231.8 261.9 L1233.9 250.6 L1236.0 246.4 L1238.5 248.4 L1241.0 252.7 L1243.5 261.1 L1246.0 272.4 L1248.5 288.9 L1251.0 317.6 L1253.5 355.5 L1256.1 397.8 L1258.6 440.6 L1261.1 478.4 L1263.6 512.6 L1266.1 541.4 L1268.6 564.4 L1271.1 579.8 L1273.3 573.9 L1275.5 561.4 L1277.7 539.0 L1279.9 509.9 L1282.1 474.1 L1284.3 442.3 L1286.4 411.8 L1288.6 381.4 L1290.8 350.6 L1293.0 320.7 L1295.2 290.2 L1297.4 269.4 L1299.6 258.2 L1301.8 254.1 L1304.3 256.0 L1306.8 260.2 L1309.3 268.3 L1311.8 279.2 L1314.3 295.2 L1316.8 322.9 L1319.3 359.5 L1321.9 400.3 L1324.4 441.6 L1326.9 478.1 L1329.4 511.1 L1331.9 539.0 L1334.4 561.2 L1336.9 576.0 L1339.1 570.1 L1341.3 557.6 L1343.6 535.2 L1345.8 506.1 L1348.0 470.3 L1350.2 438.5 L1352.5 408.0 L1354.7 377.6 L1356.9 346.8 L1359.1 316.9 L1361.3 286.4 L1363.6 265.6 L1365.8 254.4 L1368.0 250.3 L1370.5 252.4 L1373.0 256.8 L1375.5 265.5 L1378.0 277.2 L1380.5 294.2 L1383.0 323.8 L1385.5 362.9 L1388.1 406.5 L1390.6 450.7 L1393.1 489.6 L1395.6 524.9 L1398.1 554.6 L1400.6 578.3 L1403.1 594.2 L1405.3 587.9 L1407.5 574.5 L1409.7 550.6 L1411.9 519.6 L1414.1 481.3 L1416.3 447.4 L1418.5 414.8 L1420.7 382.3 L1422.9 349.5 L1425.1 317.6 L1427.3 285.0 L1429.5 262.7 L1431.7 250.8 L1433.9 246.4 L1436.5 248.4 L1439.0 252.8 L1441.6 261.2 L1444.2 272.6 L1446.8 289.2 L1449.3 318.2 L1451.9 356.3 L1454.5 398.9 L1457.0 442.0 L1459.6 480.1 L1462.2 514.5 L1464.8 543.6 L1467.3 566.7 L1469.9 582.2 L1472.0 576.0 L1474.2 562.8 L1476.3 539.3 L1478.4 508.7 L1480.6 471.0 L1482.7 437.6 L1484.8 405.6 L1487.0 373.5 L1489.1 341.2 L1491.3 309.8 L1493.4 277.7 L1495.5 255.8 L1497.7 244.0 L1499.8 239.7 L1502.4 241.8 L1505.0 246.4 L1507.6 255.3 L1510.2 267.4 L1512.8 284.9 L1515.4 315.5 L1518.0 355.7 L1520.6 400.7 L1523.2 446.2 L1525.8 486.4 L1528.4 522.8 L1531.0 553.4 L1533.6 577.9 L1536.2 594.2 L1538.3 587.6 L1540.5 573.6 L1542.6 548.6 L1544.7 516.1 L1546.8 476.0 L1549.0 440.5 L1551.1 406.4 L1553.2 372.4 L1555.4 338.0 L1557.5 304.6 L1559.6 270.5 L1561.7 247.2 L1563.9 234.7 L1566.0 230.1 L1568.6 232.3 L1571.1 237.0 L1573.7 246.2 L1576.3 258.5 L1578.9 276.5 L1581.4 307.9 L1584.0 349.3 L1586.6 395.4 L1589.1 442.2 L1591.7 483.5 L1594.3 520.8 L1596.9 552.3 L1599.4 577.4 L1602.0 594.2 L1604.2 587.8 L1606.5 574.0 L1608.7 549.4 L1610.9 517.5 L1613.1 478.2 L1615.4 443.3 L1617.6 409.9 L1619.8 376.4 L1622.1 342.7 L1624.3 309.9 L1626.5 276.4 L1628.7 253.6 L1631.0 241.3 L1633.2 236.8 L1635.7 239.0 L1638.2 243.6 L1640.7 252.7 L1643.2 264.9 L1645.7 282.7 L1648.2 313.7 L1650.8 354.6 L1653.3 400.2 L1655.8 446.4 L1658.3 487.2 L1660.8 524.1 L1663.3 555.2 L1665.8 580.0 L1668.3 596.6 L1670.6 590.0 L1672.9 576.0 L1675.2 550.9 L1677.5 518.4 L1679.8 478.3 L1682.1 442.7 L1684.3 408.6 L1686.6 374.5 L1688.9 340.0 L1691.2 306.6 L1693.5 272.4 L1695.8 249.1 L1698.1 236.6 L1700.4 232.0 L1702.9 234.2 L1705.4 239.0 L1707.9 248.4 L1710.4 261.0 L1712.9 279.4 L1715.4 311.4 L1718.0 353.7 L1720.5 400.8 L1723.0 448.6 L1725.5 490.7 L1728.0 528.9 L1730.5 561.0 L1733.0 586.7 L1735.5 603.8 L1737.8 597.1 L1740.1 582.9 L1742.4 557.5 L1744.7 524.6 L1747.0 483.9 L1749.3 447.9 L1751.5 413.3 L1753.8 378.7 L1756.1 343.9 L1758.4 310.0 L1760.7 275.4 L1763.0 251.8 L1765.3 239.1 L1767.6 234.4 L1770.1 236.6 L1772.6 241.3 L1775.1 250.4 L1777.6 262.8 L1780.1 280.7 L1782.6 312.0 L1785.2 353.3 L1787.7 399.3 L1790.2 445.9 L1792.7 487.1 L1795.2 524.3 L1797.7 555.7 L1800.2 580.8 L1802.7 597.5 L1805.0 590.8 L1807.3 576.4 L1809.6 550.8 L1811.9 517.5 L1814.2 476.5 L1816.5 440.2 L1818.8 405.3 L1821.1 370.4 L1823.4 335.2 L1825.7 301.0 L1828.0 266.1 L1830.3 242.3 L1832.6 229.5 L1834.9 224.8 L1837.4 227.2 L1839.9 232.3 L1842.4 242.4 L1844.9 255.9 L1847.4 275.6 L1849.9 309.9 L1852.4 355.2 L1854.9 405.6 L1857.4 456.8 L1859.9 501.9 L1862.4 542.8 L1864.9 577.2 L1867.4 604.6 L1869.9 623.0 L1872.2 615.4 L1874.5 598.6 L1876.8 569.4 L1879.1 532.1 L1881.4 486.7 L1883.7 446.2 L1886.0 407.2 L1888.3 368.4 L1890.6 329.6 L1892.9 292.2 L1895.2 254.4 L1897.5 228.6 L1899.8 214.6 L1902.1 209.5 L1904.7 213.4 L1907.4 222.0 L1910.0 235.2 L1912.6 251.8 L1915.3 274.3 L1917.9 310.7 L1920.5 357.7 L1923.2 409.6 L1925.8 462.2 L1928.5 509.0 L1931.1 551.8 L1933.7 588.3 L1936.4 617.7 L1939.0 636.4 L1941.3 628.5 L1943.5 610.9 L1945.8 580.5 L1948.1 542.2 L1950.3 495.9 L1952.6 454.4 L1954.8 414.4 L1957.1 374.8 L1959.4 335.4 L1961.6 297.5 L1963.9 259.5 L1966.2 233.5 L1968.4 219.4 L1970.7 214.3 L1973.3 216.8 L1976.0 222.1 L1978.6 232.4 L1981.3 246.1 L1983.9 266.1 L1986.6 300.6 L1989.2 346.2 L1991.8 397.0 L1994.5 448.4 L1997.1 493.8 L1999.8 535.0 L2002.4 569.7 L2005.1 597.3 L2007.7 615.8 L2010.0 608.7 L2012.3 593.4 L2014.6 566.3 L2016.9 531.0 L2019.2 487.5 L2021.5 448.9 L2023.8 411.9 L2026.1 374.9 L2028.4 337.6 L2030.7 301.4 L2033.0 264.3 L2035.3 239.1 L2037.6 225.5 L2039.9 220.5 L2042.5 223.0 L2045.1 228.5 L2047.7 238.9 L2050.3 252.7 L2052.9 272.8 L2055.5 307.4 L2058.1 353.0 L2060.7 403.8 L2063.3 455.4 L2065.9 500.8 L2068.5 542.0 L2071.1 576.8 L2073.7 604.5 L2076.3 623.0 L2078.6 615.1 L2080.8 597.3 L2083.1 566.9 L2085.4 528.5 L2087.6 482.1 L2089.9 440.5 L2092.2 400.4 L2094.4 360.7 L2096.7 321.2 L2098.9 283.3 L2101.2 245.2 L2103.5 219.2 L2105.7 205.1 L2108.0 200.0" stroke-dasharray="46 2.2 9 2.2"/></g>
<line x1="228.8" y1="392.9" x2="2101.2" y2="392.9" stroke="#c00000" stroke-width="5.8"/>
<text x="216.7" y="63.8" font-size="42.0" text-anchor="end" class="sa">7000</text>
<text x="216.7" y="161.0" font-size="42.0" text-anchor="end" class="sa">6500</text>
<text x="216.7" y="258.2" font-size="42.0" text-anchor="end" class="sa">6000</text>
<text x="216.7" y="355.4" font-size="42.0" text-anchor="end" class="sa">5500</text>
<text x="216.7" y="452.6" font-size="42.0" text-anchor="end" class="sa">5000</text>
<text x="216.7" y="549.9" font-size="42.0" text-anchor="end" class="sa">4500</text>
<text x="216.7" y="647.1" font-size="42.0" text-anchor="end" class="sa">4000</text>
<text x="216.7" y="744.3" font-size="42.0" text-anchor="end" class="sa">3500</text>
<text x="216.7" y="841.5" font-size="42.0" text-anchor="end" class="sa">3000</text>
<text x="227.0" y="874.7" font-size="42.0" text-anchor="middle" class="sa">0</text>
<text x="603.3" y="874.7" font-size="42.0" text-anchor="middle" class="sa">0.4</text>
<text x="977.8" y="874.7" font-size="42.0" text-anchor="middle" class="sa">0.8</text>
<text x="1352.2" y="874.7" font-size="42.0" text-anchor="middle" class="sa">1.2</text>
<text x="1726.7" y="874.7" font-size="42.0" text-anchor="middle" class="sa">1.6</text>
<text x="2101.2" y="874.7" font-size="42.0" text-anchor="middle" class="sa">2</text>
<text x="1173.2" y="931.3" font-size="46.3" text-anchor="middle" class="sa">Time (s)</text>
<text transform="translate(107.7 435.5) rotate(-90)" font-size="46.3" text-anchor="middle" class="sa">Voltage (V)</text>
</g>
<text y="1026.2" class="se" font-size="74"><tspan x="912">(</tspan><tspan font-weight="bold">a</tspan><tspan>)</tspan><tspan x="1021.3" font-style="italic">K</tspan><tspan x="1068" font-size="49">pw</tspan><tspan x="1143.3">=</tspan><tspan x="1195.3">10</tspan></text>
<g filter="url(#bl)">
<line x1="592.1" y1="1085" x2="592.1" y2="1872" stroke="#dcdcdc" stroke-width="2"/>
<line x1="972.5" y1="1085" x2="972.5" y2="1872" stroke="#dcdcdc" stroke-width="2"/>
<line x1="1352.8" y1="1085" x2="1352.8" y2="1872" stroke="#dcdcdc" stroke-width="2"/>
<line x1="1733.2" y1="1085" x2="1733.2" y2="1872" stroke="#dcdcdc" stroke-width="2"/>
<line x1="211.8" y1="1183.4" x2="2113.5" y2="1183.4" stroke="#e6e6e6" stroke-width="2.5"/>
<line x1="211.8" y1="1281.8" x2="2113.5" y2="1281.8" stroke="#e6e6e6" stroke-width="2.5"/>
<line x1="211.8" y1="1380.1" x2="2113.5" y2="1380.1" stroke="#e6e6e6" stroke-width="2.5"/>
<line x1="211.8" y1="1478.5" x2="2113.5" y2="1478.5" stroke="#e6e6e6" stroke-width="2.5"/>
<line x1="211.8" y1="1576.9" x2="2113.5" y2="1576.9" stroke="#e6e6e6" stroke-width="2.5"/>
<line x1="211.8" y1="1675.2" x2="2113.5" y2="1675.2" stroke="#e6e6e6" stroke-width="2.5"/>
<line x1="211.8" y1="1773.6" x2="2113.5" y2="1773.6" stroke="#e6e6e6" stroke-width="2.5"/>
<line x1="592.1" y1="1085" x2="592.1" y2="1103.3" stroke="#333" stroke-width="2.5"/>
<line x1="592.1" y1="1872" x2="592.1" y2="1853.7" stroke="#333" stroke-width="2.5"/>
<line x1="972.5" y1="1085" x2="972.5" y2="1103.3" stroke="#333" stroke-width="2.5"/>
<line x1="972.5" y1="1872" x2="972.5" y2="1853.7" stroke="#333" stroke-width="2.5"/>
<line x1="1352.8" y1="1085" x2="1352.8" y2="1103.3" stroke="#333" stroke-width="2.5"/>
<line x1="1352.8" y1="1872" x2="1352.8" y2="1853.7" stroke="#333" stroke-width="2.5"/>
<line x1="1733.2" y1="1085" x2="1733.2" y2="1103.3" stroke="#333" stroke-width="2.5"/>
<line x1="1733.2" y1="1872" x2="1733.2" y2="1853.7" stroke="#333" stroke-width="2.5"/>
<line x1="211.8" y1="1183.4" x2="230.1" y2="1183.4" stroke="#444" stroke-width="2.5"/>
<line x1="2113.5" y1="1183.4" x2="2095.2" y2="1183.4" stroke="#444" stroke-width="2.5"/>
<line x1="211.8" y1="1281.8" x2="230.1" y2="1281.8" stroke="#444" stroke-width="2.5"/>
<line x1="2113.5" y1="1281.8" x2="2095.2" y2="1281.8" stroke="#444" stroke-width="2.5"/>
<line x1="211.8" y1="1380.1" x2="230.1" y2="1380.1" stroke="#444" stroke-width="2.5"/>
<line x1="2113.5" y1="1380.1" x2="2095.2" y2="1380.1" stroke="#444" stroke-width="2.5"/>
<line x1="211.8" y1="1478.5" x2="230.1" y2="1478.5" stroke="#444" stroke-width="2.5"/>
<line x1="2113.5" y1="1478.5" x2="2095.2" y2="1478.5" stroke="#444" stroke-width="2.5"/>
<line x1="211.8" y1="1576.9" x2="230.1" y2="1576.9" stroke="#444" stroke-width="2.5"/>
<line x1="2113.5" y1="1576.9" x2="2095.2" y2="1576.9" stroke="#444" stroke-width="2.5"/>
<line x1="211.8" y1="1675.2" x2="230.1" y2="1675.2" stroke="#444" stroke-width="2.5"/>
<line x1="2113.5" y1="1675.2" x2="2095.2" y2="1675.2" stroke="#444" stroke-width="2.5"/>
<line x1="211.8" y1="1773.6" x2="230.1" y2="1773.6" stroke="#444" stroke-width="2.5"/>
<line x1="2113.5" y1="1773.6" x2="2095.2" y2="1773.6" stroke="#444" stroke-width="2.5"/>
<line x1="210.3" y1="1085" x2="2115.0" y2="1085" stroke="#3a3a3a" stroke-width="3"/>
<line x1="209.3" y1="1872" x2="2116.0" y2="1872" stroke="#858585" stroke-width="5"/>
<line x1="211.8" y1="1085" x2="211.8" y2="1872" stroke="#3a3a3a" stroke-width="3"/>
<line x1="2113.5" y1="1085" x2="2113.5" y2="1872" stroke="#858585" stroke-width="5"/>
<clipPath id="cpb"><rect x="210.3" y="1083.5" width="1905.2" height="790.5"/></clipPath>
<g clip-path="url(#cpb)" fill="none" stroke="#0000ff" stroke-linejoin="round" stroke-width="10.2"><path d="M216.5 1876.0 L217.4 1861.6 L218.3 1847.1 L219.3 1832.7 L220.2 1818.3 L221.2 1803.9 L222.1 1789.5 L223.1 1775.0 L224.1 1760.6 L225.1 1746.2 L226.2 1731.8 L227.3 1717.4 L228.3 1702.9 L229.1 1688.5 L229.9 1674.1 L230.5 1659.6 L231.1 1645.2 L231.6 1630.7 L232.1 1616.3 L232.6 1601.8 L233.1 1587.4 L233.6 1573.0 L234.1 1558.5 L234.6 1544.1 L235.1 1529.6 L235.6 1515.2 L236.1 1500.7 L236.6 1486.3 L237.1 1471.8 L237.7 1457.4 L238.2 1442.9 L238.8 1428.5 L239.4 1414.1 L240.0 1399.6 L240.6 1385.2 L241.2 1370.7 L241.8 1356.3 L242.4 1341.8 L243.1 1327.4 L243.9 1313.0 L244.7 1298.5 L245.6 1284.1 L246.6 1269.7 L247.6 1255.3 L248.7 1240.8 L249.9 1226.4 L251.2 1212.0 L252.9 1197.7 L255.2 1183.4 L260.0 1169.8 L263.2 1182.6 L266.3 1210.8 L269.5 1242.0 L272.6 1275.2 L275.8 1311.9 L278.9 1356.8 L282.1 1408.0 L285.3 1462.1 L288.4 1516.5 L291.6 1567.6 L294.7 1616.2 L297.9 1661.3 L301.0 1698.8 L304.2 1716.8 L306.6 1706.7 L309.0 1681.4 L311.4 1641.3 L313.8 1594.7 L316.2 1541.6 L318.6 1492.4 L321.0 1444.5 L323.4 1397.9 L325.8 1353.6 L328.2 1312.9 L330.6 1274.2 L333.0 1247.5 L335.4 1232.7 L337.8 1227.4 L340.3 1230.6 L342.8 1237.5 L345.3 1249.3 L347.8 1264.5 L350.3 1285.7 L352.8 1321.2 L355.3 1367.5 L357.8 1418.9 L360.3 1471.0 L362.8 1517.1 L365.3 1559.1 L367.8 1594.8 L370.3 1623.3 L372.8 1641.9 L374.9 1634.8 L377.1 1619.6 L379.2 1592.5 L381.3 1557.3 L383.4 1513.9 L385.6 1475.4 L387.7 1438.5 L389.8 1401.6 L392.0 1364.4 L394.1 1328.2 L396.2 1291.2 L398.3 1266.0 L400.5 1252.5 L402.6 1247.5 L405.3 1250.0 L408.1 1255.4 L410.8 1265.7 L413.6 1279.5 L416.3 1299.5 L419.1 1334.1 L421.8 1379.7 L424.5 1430.5 L427.3 1482.0 L430.0 1527.4 L432.8 1568.6 L435.5 1603.3 L438.3 1631.0 L441.0 1649.5 L443.2 1642.8 L445.3 1628.3 L447.5 1602.6 L449.6 1569.2 L451.8 1528.1 L453.9 1491.6 L456.1 1456.6 L458.3 1421.6 L460.4 1386.3 L462.6 1351.9 L464.7 1316.9 L466.9 1293.0 L469.0 1280.1 L471.2 1275.4 L473.9 1277.6 L476.6 1282.2 L479.2 1291.3 L481.9 1303.5 L484.6 1321.2 L487.3 1352.2 L489.9 1393.0 L492.6 1438.6 L495.3 1484.7 L498.0 1525.4 L500.7 1562.3 L503.3 1593.4 L506.0 1618.1 L508.7 1634.7 L510.8 1628.6 L512.9 1615.4 L515.1 1592.0 L517.2 1561.6 L519.3 1524.2 L521.4 1490.9 L523.5 1459.0 L525.7 1427.2 L527.8 1395.0 L529.9 1363.8 L532.0 1331.9 L534.2 1310.1 L536.3 1298.4 L538.4 1294.1 L541.1 1296.1 L543.9 1300.3 L546.6 1308.4 L549.4 1319.5 L552.1 1335.6 L554.9 1363.6 L557.6 1400.6 L560.4 1441.8 L563.1 1483.6 L565.9 1520.4 L568.6 1553.8 L571.4 1581.9 L574.1 1604.3 L576.9 1619.3 L579.0 1613.3 L581.1 1600.4 L583.3 1577.5 L585.4 1547.8 L587.5 1511.1 L589.6 1478.6 L591.8 1447.3 L593.9 1416.2 L596.0 1384.7 L598.1 1354.1 L600.2 1322.9 L602.4 1301.6 L604.5 1290.1 L606.6 1285.9 L609.3 1287.9 L612.0 1292.2 L614.6 1300.5 L617.3 1311.8 L620.0 1328.3 L622.7 1356.8 L625.4 1394.6 L628.0 1436.7 L630.7 1479.3 L633.4 1516.9 L636.1 1551.0 L638.7 1579.7 L641.4 1602.6 L644.1 1617.9 L646.2 1612.2 L648.3 1600.0 L650.5 1578.2 L652.6 1550.0 L654.7 1515.2 L656.8 1484.3 L659.0 1454.6 L661.1 1425.0 L663.2 1395.1 L665.3 1366.1 L667.4 1336.4 L669.6 1316.2 L671.7 1305.3 L673.8 1301.3 L676.4 1303.1 L678.9 1307.0 L681.5 1314.7 L684.1 1324.9 L686.7 1339.9 L689.2 1366.0 L691.8 1400.4 L694.4 1438.7 L696.9 1477.6 L699.5 1511.9 L702.1 1542.9 L704.7 1569.1 L707.2 1589.9 L709.8 1603.9 L712.0 1598.5 L714.1 1587.0 L716.3 1566.6 L718.4 1540.0 L720.6 1507.3 L722.7 1478.2 L724.9 1450.3 L727.1 1422.5 L729.2 1394.3 L731.4 1367.0 L733.5 1339.1 L735.7 1320.1 L737.8 1309.9 L740.0 1306.1 L742.6 1307.9 L745.2 1311.6 L747.7 1319.0 L750.3 1328.9 L752.9 1343.3 L755.5 1368.4 L758.0 1401.6 L760.6 1438.5 L763.2 1476.0 L765.8 1509.0 L768.4 1538.9 L770.9 1564.1 L773.5 1584.3 L776.1 1597.7 L778.2 1592.5 L780.3 1581.2 L782.5 1561.2 L784.6 1535.3 L786.7 1503.2 L788.8 1474.8 L791.0 1447.6 L793.1 1420.3 L795.2 1392.9 L797.3 1366.2 L799.4 1338.9 L801.6 1320.3 L803.7 1310.3 L805.8 1306.6 L808.4 1308.4 L811.0 1312.2 L813.6 1319.7 L816.1 1329.8 L818.7 1344.5 L821.3 1370.1 L823.9 1403.9 L826.5 1441.6 L829.1 1479.8 L831.7 1513.5 L834.2 1544.0 L836.8 1569.7 L839.4 1590.2 L842.0 1603.9 L844.2 1598.5 L846.3 1587.0 L848.5 1566.6 L850.6 1540.0 L852.8 1507.3 L854.9 1478.2 L857.1 1450.3 L859.3 1422.5 L861.4 1394.3 L863.6 1367.0 L865.7 1339.1 L867.9 1320.1 L870.0 1309.9 L872.2 1306.1 L874.8 1307.9 L877.5 1311.7 L880.1 1319.0 L882.8 1329.0 L885.4 1343.5 L888.1 1368.7 L890.7 1402.0 L893.3 1439.2 L896.0 1476.8 L898.6 1510.0 L901.3 1540.1 L903.9 1565.4 L906.6 1585.6 L909.2 1599.1 L911.4 1593.9 L913.5 1582.7 L915.7 1562.8 L917.9 1536.9 L920.0 1505.0 L922.2 1476.7 L924.4 1449.5 L926.5 1422.3 L928.7 1395.0 L930.8 1368.3 L933.0 1341.2 L935.2 1322.6 L937.3 1312.7 L939.5 1309.0 L942.0 1310.7 L944.6 1314.4 L947.1 1321.6 L949.6 1331.4 L952.2 1345.5 L954.7 1370.2 L957.2 1402.7 L959.8 1439.0 L962.3 1475.8 L964.9 1508.2 L967.4 1537.6 L969.9 1562.4 L972.5 1582.1 L975.0 1595.3 L977.1 1590.3 L979.1 1579.7 L981.2 1560.8 L983.2 1536.2 L985.3 1505.8 L987.3 1478.9 L989.4 1453.1 L991.5 1427.3 L993.5 1401.3 L995.6 1376.0 L997.6 1350.2 L999.7 1332.6 L1001.7 1323.1 L1003.8 1319.6 L1006.4 1321.2 L1009.0 1324.7 L1011.6 1331.5 L1014.2 1340.7 L1016.8 1354.0 L1019.4 1377.3 L1022.0 1408.0 L1024.7 1442.2 L1027.3 1476.8 L1029.9 1507.4 L1032.5 1535.1 L1035.1 1558.4 L1037.7 1577.1 L1040.3 1589.5 L1042.4 1584.4 L1044.5 1573.6 L1046.7 1554.4 L1048.8 1529.3 L1050.9 1498.5 L1053.0 1471.1 L1055.2 1444.8 L1057.3 1418.6 L1059.4 1392.1 L1061.5 1366.4 L1063.6 1340.1 L1065.8 1322.2 L1067.9 1312.5 L1070.0 1309.0 L1072.5 1310.7 L1075.0 1314.4 L1077.5 1321.6 L1080.0 1331.4 L1082.5 1345.5 L1085.0 1370.2 L1087.5 1402.7 L1090.1 1439.0 L1092.6 1475.8 L1095.1 1508.2 L1097.6 1537.6 L1100.1 1562.4 L1102.6 1582.1 L1105.1 1595.3 L1107.2 1590.3 L1109.3 1579.5 L1111.5 1560.3 L1113.6 1535.3 L1115.7 1504.6 L1117.8 1477.3 L1119.9 1451.1 L1122.1 1424.9 L1124.2 1398.6 L1126.3 1372.9 L1128.4 1346.7 L1130.6 1328.8 L1132.7 1319.2 L1134.8 1315.7 L1137.4 1317.4 L1140.0 1321.0 L1142.5 1328.1 L1145.1 1337.6 L1147.7 1351.5 L1150.3 1375.7 L1152.8 1407.6 L1155.4 1443.1 L1158.0 1479.2 L1160.6 1511.0 L1163.2 1539.8 L1165.7 1564.0 L1168.3 1583.4 L1170.9 1596.3 L1173.0 1591.1 L1175.0 1580.0 L1177.1 1560.2 L1179.1 1534.6 L1181.2 1502.9 L1183.2 1474.8 L1185.3 1447.9 L1187.4 1420.9 L1189.4 1393.8 L1191.5 1367.4 L1193.5 1340.4 L1195.6 1322.0 L1197.6 1312.1 L1199.7 1308.5 L1202.3 1310.2 L1205.0 1313.9 L1207.6 1321.2 L1210.2 1330.9 L1212.9 1345.1 L1215.5 1369.8 L1218.2 1402.4 L1220.8 1438.7 L1223.4 1475.6 L1226.1 1508.1 L1228.7 1537.5 L1231.3 1562.3 L1234.0 1582.1 L1236.6 1595.3 L1238.7 1590.1 L1240.8 1578.8 L1242.9 1558.8 L1245.0 1532.9 L1247.1 1500.8 L1249.2 1472.4 L1251.2 1445.2 L1253.3 1417.9 L1255.4 1390.5 L1257.5 1363.8 L1259.6 1336.5 L1261.7 1317.9 L1263.8 1307.9 L1265.9 1304.2 L1268.5 1306.0 L1271.2 1309.7 L1273.8 1317.1 L1276.5 1327.0 L1279.1 1341.5 L1281.8 1366.6 L1284.4 1399.8 L1287.0 1436.8 L1289.7 1474.4 L1292.3 1507.5 L1295.0 1537.4 L1297.6 1562.7 L1300.3 1582.8 L1302.9 1596.3 L1305.0 1591.3 L1307.0 1580.7 L1309.1 1561.8 L1311.1 1537.1 L1313.2 1506.8 L1315.2 1479.9 L1317.3 1454.1 L1319.4 1428.3 L1321.4 1402.2 L1323.5 1376.9 L1325.5 1351.1 L1327.6 1333.5 L1329.6 1324.0 L1331.7 1320.5 L1334.4 1322.1 L1337.2 1325.7 L1339.9 1332.5 L1342.7 1341.8 L1345.4 1355.2 L1348.2 1378.7 L1350.9 1409.7 L1353.6 1444.2 L1356.4 1479.2 L1359.1 1510.1 L1361.9 1538.0 L1364.6 1561.6 L1367.4 1580.3 L1370.1 1592.9 L1372.2 1587.7 L1374.2 1576.6 L1376.3 1556.9 L1378.3 1531.2 L1380.4 1499.5 L1382.4 1471.5 L1384.5 1444.5 L1386.6 1417.6 L1388.6 1390.5 L1390.7 1364.1 L1392.7 1337.1 L1394.8 1318.7 L1396.8 1308.8 L1398.9 1305.2 L1401.5 1307.0 L1404.2 1310.8 L1406.8 1318.1 L1409.5 1328.1 L1412.1 1342.6 L1414.8 1367.9 L1417.4 1401.3 L1420.0 1438.5 L1422.7 1476.2 L1425.3 1509.4 L1428.0 1539.6 L1430.6 1564.9 L1433.3 1585.2 L1435.9 1598.7 L1438.0 1593.5 L1440.0 1582.3 L1442.1 1562.4 L1444.1 1536.6 L1446.2 1504.7 L1448.2 1476.4 L1450.3 1449.3 L1452.4 1422.2 L1454.4 1394.8 L1456.5 1368.3 L1458.5 1341.1 L1460.6 1322.6 L1462.6 1312.7 L1464.7 1309.0 L1467.2 1310.7 L1469.8 1314.5 L1472.3 1321.8 L1474.8 1331.7 L1477.4 1346.0 L1479.9 1371.0 L1482.5 1404.0 L1485.0 1440.7 L1487.5 1478.0 L1490.1 1510.9 L1492.6 1540.6 L1495.1 1565.7 L1497.7 1585.7 L1500.2 1599.1 L1502.4 1593.8 L1504.5 1582.6 L1506.7 1562.6 L1508.8 1536.6 L1511.0 1504.5 L1513.1 1476.1 L1515.3 1448.8 L1517.5 1421.5 L1519.6 1394.0 L1521.8 1367.2 L1523.9 1339.9 L1526.1 1321.3 L1528.2 1311.3 L1530.4 1307.6 L1532.9 1309.3 L1535.4 1313.1 L1537.9 1320.3 L1540.4 1330.1 L1542.9 1344.3 L1545.4 1369.1 L1548.0 1401.8 L1550.5 1438.3 L1553.0 1475.2 L1555.5 1507.8 L1558.0 1537.3 L1560.5 1562.2 L1563.0 1582.0 L1565.5 1595.3 L1567.6 1590.2 L1569.7 1579.2 L1571.9 1559.7 L1574.0 1534.3 L1576.1 1503.0 L1578.2 1475.3 L1580.3 1448.6 L1582.5 1422.0 L1584.6 1395.2 L1586.7 1369.1 L1588.8 1342.4 L1591.0 1324.3 L1593.1 1314.5 L1595.2 1310.9 L1597.7 1312.6 L1600.1 1316.3 L1602.6 1323.4 L1605.1 1333.1 L1607.6 1347.2 L1610.0 1371.7 L1612.5 1404.0 L1615.0 1440.1 L1617.4 1476.6 L1619.9 1508.8 L1622.4 1538.0 L1624.9 1562.6 L1627.3 1582.2 L1629.8 1595.3 L1632.0 1590.3 L1634.1 1579.6 L1636.3 1560.6 L1638.4 1535.8 L1640.6 1505.3 L1642.7 1478.3 L1644.9 1452.3 L1647.1 1426.4 L1649.2 1400.2 L1651.4 1374.8 L1653.5 1348.8 L1655.7 1331.1 L1657.8 1321.6 L1660.0 1318.1 L1662.5 1319.8 L1665.0 1323.3 L1667.5 1330.2 L1670.0 1339.6 L1672.5 1353.2 L1675.0 1376.8 L1677.5 1408.1 L1680.1 1442.9 L1682.6 1478.2 L1685.1 1509.3 L1687.6 1537.5 L1690.1 1561.3 L1692.6 1580.2 L1695.1 1592.9 L1697.2 1587.8 L1699.3 1576.7 L1701.5 1557.2 L1703.6 1531.7 L1705.7 1500.3 L1707.8 1472.5 L1709.9 1445.8 L1712.1 1419.1 L1714.2 1392.1 L1716.3 1366.0 L1718.4 1339.2 L1720.6 1321.0 L1722.7 1311.2 L1724.8 1307.6 L1727.3 1309.4 L1729.8 1313.1 L1732.3 1320.5 L1734.8 1330.4 L1737.3 1344.8 L1739.8 1369.9 L1742.3 1403.0 L1744.9 1440.0 L1747.4 1477.4 L1749.9 1510.5 L1752.4 1540.4 L1754.9 1565.6 L1757.4 1585.7 L1759.9 1599.1 L1762.0 1593.9 L1764.1 1582.7 L1766.3 1562.9 L1768.4 1537.1 L1770.5 1505.3 L1772.6 1477.1 L1774.8 1450.0 L1776.9 1423.0 L1779.0 1395.7 L1781.1 1369.1 L1783.2 1342.0 L1785.4 1323.6 L1787.5 1313.6 L1789.6 1310.0 L1792.2 1311.7 L1794.8 1315.5 L1797.3 1322.8 L1799.9 1332.7 L1802.5 1347.0 L1805.1 1372.0 L1807.7 1405.0 L1810.2 1441.7 L1812.8 1479.0 L1815.4 1511.9 L1818.0 1541.6 L1820.5 1566.7 L1823.1 1586.7 L1825.7 1600.1 L1827.8 1594.8 L1829.8 1583.3 L1831.9 1563.0 L1833.9 1536.6 L1836.0 1504.1 L1838.0 1475.2 L1840.1 1447.5 L1842.2 1419.8 L1844.2 1391.9 L1846.3 1364.7 L1848.3 1337.0 L1850.4 1318.1 L1852.4 1307.9 L1854.5 1304.2 L1857.1 1306.0 L1859.8 1309.9 L1862.4 1317.4 L1865.0 1327.6 L1867.7 1342.4 L1870.3 1368.2 L1873.0 1402.2 L1875.6 1440.1 L1878.2 1478.6 L1880.9 1512.5 L1883.5 1543.2 L1886.1 1569.1 L1888.8 1589.7 L1891.4 1603.5 L1893.5 1597.9 L1895.6 1586.0 L1897.7 1564.8 L1899.8 1537.2 L1901.9 1503.3 L1904.0 1473.1 L1906.1 1444.2 L1908.1 1415.3 L1910.2 1386.1 L1912.3 1357.8 L1914.4 1328.8 L1916.5 1309.1 L1918.6 1298.5 L1920.7 1294.6 L1923.2 1296.5 L1925.8 1300.7 L1928.3 1308.7 L1930.8 1319.6 L1933.4 1335.4 L1935.9 1363.0 L1938.5 1399.3 L1941.0 1439.9 L1943.5 1481.0 L1946.1 1517.2 L1948.6 1550.0 L1951.1 1577.7 L1953.7 1599.7 L1956.2 1614.5 L1958.4 1608.8 L1960.5 1596.7 L1962.7 1575.2 L1964.9 1547.1 L1967.0 1512.6 L1969.2 1481.9 L1971.3 1452.5 L1973.5 1423.1 L1975.7 1393.5 L1977.8 1364.7 L1980.0 1335.2 L1982.2 1315.2 L1984.3 1304.4 L1986.5 1300.4 L1989.1 1302.3 L1991.6 1306.4 L1994.2 1314.4 L1996.8 1325.1 L1999.4 1340.8 L2001.9 1368.0 L2004.5 1404.0 L2007.1 1444.1 L2009.6 1484.8 L2012.2 1520.7 L2014.8 1553.1 L2017.4 1580.5 L2019.9 1602.3 L2022.5 1616.9 L2024.7 1611.2 L2027.0 1599.1 L2029.2 1577.6 L2031.4 1549.5 L2033.6 1515.0 L2035.9 1484.3 L2038.1 1454.9 L2040.3 1425.5 L2042.6 1395.9 L2044.8 1367.1 L2047.0 1337.6 L2049.2 1317.6 L2051.5 1306.8 L2053.7 1302.8 L2056.2 1304.7 L2058.7 1308.7 L2061.2 1316.4 L2063.7 1327.0 L2066.2 1342.3 L2068.7 1368.9 L2071.2 1404.1 L2073.7 1443.3 L2076.2 1483.0 L2078.7 1518.0 L2081.2 1549.8 L2083.7 1576.5 L2086.2 1597.8 L2088.7 1612.1 L2090.9 1606.2 L2093.2 1593.5 L2095.4 1570.9 L2097.6 1541.5 L2099.9 1505.3 L2102.1 1473.2 L2104.3 1442.4 L2106.6 1411.6 L2108.8 1380.5 L2111.1 1350.3 L2113.3 1319.5 L2115.5 1298.5 L2117.8 1287.1 L2120.0 1283.0" stroke-opacity="0.3"/><path d="M216.5 1876.0 L217.4 1861.6 L218.3 1847.1 L219.3 1832.7 L220.2 1818.3 L221.2 1803.9 L222.1 1789.5 L223.1 1775.0 L224.1 1760.6 L225.1 1746.2 L226.2 1731.8 L227.3 1717.4 L228.3 1702.9 L229.1 1688.5 L229.9 1674.1 L230.5 1659.6 L231.1 1645.2 L231.6 1630.7 L232.1 1616.3 L232.6 1601.8 L233.1 1587.4 L233.6 1573.0 L234.1 1558.5 L234.6 1544.1 L235.1 1529.6 L235.6 1515.2 L236.1 1500.7 L236.6 1486.3 L237.1 1471.8 L237.7 1457.4 L238.2 1442.9 L238.8 1428.5 L239.4 1414.1 L240.0 1399.6 L240.6 1385.2 L241.2 1370.7 L241.8 1356.3 L242.4 1341.8 L243.1 1327.4 L243.9 1313.0 L244.7 1298.5 L245.6 1284.1 L246.6 1269.7 L247.6 1255.3 L248.7 1240.8 L249.9 1226.4 L251.2 1212.0 L252.9 1197.7 L255.2 1183.4 L260.0 1169.8 L263.2 1182.6 L266.3 1210.8 L269.5 1242.0 L272.6 1275.2 L275.8 1311.9 L278.9 1356.8 L282.1 1408.0 L285.3 1462.1 L288.4 1516.5 L291.6 1567.6 L294.7 1616.2 L297.9 1661.3 L301.0 1698.8 L304.2 1716.8 L306.6 1706.7 L309.0 1681.4 L311.4 1641.3 L313.8 1594.7 L316.2 1541.6 L318.6 1492.4 L321.0 1444.5 L323.4 1397.9 L325.8 1353.6 L328.2 1312.9 L330.6 1274.2 L333.0 1247.5 L335.4 1232.7 L337.8 1227.4 L340.3 1230.6 L342.8 1237.5 L345.3 1249.3 L347.8 1264.5 L350.3 1285.7 L352.8 1321.2 L355.3 1367.5 L357.8 1418.9 L360.3 1471.0 L362.8 1517.1 L365.3 1559.1 L367.8 1594.8 L370.3 1623.3 L372.8 1641.9 L374.9 1634.8 L377.1 1619.6 L379.2 1592.5 L381.3 1557.3 L383.4 1513.9 L385.6 1475.4 L387.7 1438.5 L389.8 1401.6 L392.0 1364.4 L394.1 1328.2 L396.2 1291.2 L398.3 1266.0 L400.5 1252.5 L402.6 1247.5 L405.3 1250.0 L408.1 1255.4 L410.8 1265.7 L413.6 1279.5 L416.3 1299.5 L419.1 1334.1 L421.8 1379.7 L424.5 1430.5 L427.3 1482.0 L430.0 1527.4 L432.8 1568.6 L435.5 1603.3 L438.3 1631.0 L441.0 1649.5 L443.2 1642.8 L445.3 1628.3 L447.5 1602.6 L449.6 1569.2 L451.8 1528.1 L453.9 1491.6 L456.1 1456.6 L458.3 1421.6 L460.4 1386.3 L462.6 1351.9 L464.7 1316.9 L466.9 1293.0 L469.0 1280.1 L471.2 1275.4 L473.9 1277.6 L476.6 1282.2 L479.2 1291.3 L481.9 1303.5 L484.6 1321.2 L487.3 1352.2 L489.9 1393.0 L492.6 1438.6 L495.3 1484.7 L498.0 1525.4 L500.7 1562.3 L503.3 1593.4 L506.0 1618.1 L508.7 1634.7 L510.8 1628.6 L512.9 1615.4 L515.1 1592.0 L517.2 1561.6 L519.3 1524.2 L521.4 1490.9 L523.5 1459.0 L525.7 1427.2 L527.8 1395.0 L529.9 1363.8 L532.0 1331.9 L534.2 1310.1 L536.3 1298.4 L538.4 1294.1 L541.1 1296.1 L543.9 1300.3 L546.6 1308.4 L549.4 1319.5 L552.1 1335.6 L554.9 1363.6 L557.6 1400.6 L560.4 1441.8 L563.1 1483.6 L565.9 1520.4 L568.6 1553.8 L571.4 1581.9 L574.1 1604.3 L576.9 1619.3 L579.0 1613.3 L581.1 1600.4 L583.3 1577.5 L585.4 1547.8 L587.5 1511.1 L589.6 1478.6 L591.8 1447.3 L593.9 1416.2 L596.0 1384.7 L598.1 1354.1 L600.2 1322.9 L602.4 1301.6 L604.5 1290.1 L606.6 1285.9 L609.3 1287.9 L612.0 1292.2 L614.6 1300.5 L617.3 1311.8 L620.0 1328.3 L622.7 1356.8 L625.4 1394.6 L628.0 1436.7 L630.7 1479.3 L633.4 1516.9 L636.1 1551.0 L638.7 1579.7 L641.4 1602.6 L644.1 1617.9 L646.2 1612.2 L648.3 1600.0 L650.5 1578.2 L652.6 1550.0 L654.7 1515.2 L656.8 1484.3 L659.0 1454.6 L661.1 1425.0 L663.2 1395.1 L665.3 1366.1 L667.4 1336.4 L669.6 1316.2 L671.7 1305.3 L673.8 1301.3 L676.4 1303.1 L678.9 1307.0 L681.5 1314.7 L684.1 1324.9 L686.7 1339.9 L689.2 1366.0 L691.8 1400.4 L694.4 1438.7 L696.9 1477.6 L699.5 1511.9 L702.1 1542.9 L704.7 1569.1 L707.2 1589.9 L709.8 1603.9 L712.0 1598.5 L714.1 1587.0 L716.3 1566.6 L718.4 1540.0 L720.6 1507.3 L722.7 1478.2 L724.9 1450.3 L727.1 1422.5 L729.2 1394.3 L731.4 1367.0 L733.5 1339.1 L735.7 1320.1 L737.8 1309.9 L740.0 1306.1 L742.6 1307.9 L745.2 1311.6 L747.7 1319.0 L750.3 1328.9 L752.9 1343.3 L755.5 1368.4 L758.0 1401.6 L760.6 1438.5 L763.2 1476.0 L765.8 1509.0 L768.4 1538.9 L770.9 1564.1 L773.5 1584.3 L776.1 1597.7 L778.2 1592.5 L780.3 1581.2 L782.5 1561.2 L784.6 1535.3 L786.7 1503.2 L788.8 1474.8 L791.0 1447.6 L793.1 1420.3 L795.2 1392.9 L797.3 1366.2 L799.4 1338.9 L801.6 1320.3 L803.7 1310.3 L805.8 1306.6 L808.4 1308.4 L811.0 1312.2 L813.6 1319.7 L816.1 1329.8 L818.7 1344.5 L821.3 1370.1 L823.9 1403.9 L826.5 1441.6 L829.1 1479.8 L831.7 1513.5 L834.2 1544.0 L836.8 1569.7 L839.4 1590.2 L842.0 1603.9 L844.2 1598.5 L846.3 1587.0 L848.5 1566.6 L850.6 1540.0 L852.8 1507.3 L854.9 1478.2 L857.1 1450.3 L859.3 1422.5 L861.4 1394.3 L863.6 1367.0 L865.7 1339.1 L867.9 1320.1 L870.0 1309.9 L872.2 1306.1 L874.8 1307.9 L877.5 1311.7 L880.1 1319.0 L882.8 1329.0 L885.4 1343.5 L888.1 1368.7 L890.7 1402.0 L893.3 1439.2 L896.0 1476.8 L898.6 1510.0 L901.3 1540.1 L903.9 1565.4 L906.6 1585.6 L909.2 1599.1 L911.4 1593.9 L913.5 1582.7 L915.7 1562.8 L917.9 1536.9 L920.0 1505.0 L922.2 1476.7 L924.4 1449.5 L926.5 1422.3 L928.7 1395.0 L930.8 1368.3 L933.0 1341.2 L935.2 1322.6 L937.3 1312.7 L939.5 1309.0 L942.0 1310.7 L944.6 1314.4 L947.1 1321.6 L949.6 1331.4 L952.2 1345.5 L954.7 1370.2 L957.2 1402.7 L959.8 1439.0 L962.3 1475.8 L964.9 1508.2 L967.4 1537.6 L969.9 1562.4 L972.5 1582.1 L975.0 1595.3 L977.1 1590.3 L979.1 1579.7 L981.2 1560.8 L983.2 1536.2 L985.3 1505.8 L987.3 1478.9 L989.4 1453.1 L991.5 1427.3 L993.5 1401.3 L995.6 1376.0 L997.6 1350.2 L999.7 1332.6 L1001.7 1323.1 L1003.8 1319.6 L1006.4 1321.2 L1009.0 1324.7 L1011.6 1331.5 L1014.2 1340.7 L1016.8 1354.0 L1019.4 1377.3 L1022.0 1408.0 L1024.7 1442.2 L1027.3 1476.8 L1029.9 1507.4 L1032.5 1535.1 L1035.1 1558.4 L1037.7 1577.1 L1040.3 1589.5 L1042.4 1584.4 L1044.5 1573.6 L1046.7 1554.4 L1048.8 1529.3 L1050.9 1498.5 L1053.0 1471.1 L1055.2 1444.8 L1057.3 1418.6 L1059.4 1392.1 L1061.5 1366.4 L1063.6 1340.1 L1065.8 1322.2 L1067.9 1312.5 L1070.0 1309.0 L1072.5 1310.7 L1075.0 1314.4 L1077.5 1321.6 L1080.0 1331.4 L1082.5 1345.5 L1085.0 1370.2 L1087.5 1402.7 L1090.1 1439.0 L1092.6 1475.8 L1095.1 1508.2 L1097.6 1537.6 L1100.1 1562.4 L1102.6 1582.1 L1105.1 1595.3 L1107.2 1590.3 L1109.3 1579.5 L1111.5 1560.3 L1113.6 1535.3 L1115.7 1504.6 L1117.8 1477.3 L1119.9 1451.1 L1122.1 1424.9 L1124.2 1398.6 L1126.3 1372.9 L1128.4 1346.7 L1130.6 1328.8 L1132.7 1319.2 L1134.8 1315.7 L1137.4 1317.4 L1140.0 1321.0 L1142.5 1328.1 L1145.1 1337.6 L1147.7 1351.5 L1150.3 1375.7 L1152.8 1407.6 L1155.4 1443.1 L1158.0 1479.2 L1160.6 1511.0 L1163.2 1539.8 L1165.7 1564.0 L1168.3 1583.4 L1170.9 1596.3 L1173.0 1591.1 L1175.0 1580.0 L1177.1 1560.2 L1179.1 1534.6 L1181.2 1502.9 L1183.2 1474.8 L1185.3 1447.9 L1187.4 1420.9 L1189.4 1393.8 L1191.5 1367.4 L1193.5 1340.4 L1195.6 1322.0 L1197.6 1312.1 L1199.7 1308.5 L1202.3 1310.2 L1205.0 1313.9 L1207.6 1321.2 L1210.2 1330.9 L1212.9 1345.1 L1215.5 1369.8 L1218.2 1402.4 L1220.8 1438.7 L1223.4 1475.6 L1226.1 1508.1 L1228.7 1537.5 L1231.3 1562.3 L1234.0 1582.1 L1236.6 1595.3 L1238.7 1590.1 L1240.8 1578.8 L1242.9 1558.8 L1245.0 1532.9 L1247.1 1500.8 L1249.2 1472.4 L1251.2 1445.2 L1253.3 1417.9 L1255.4 1390.5 L1257.5 1363.8 L1259.6 1336.5 L1261.7 1317.9 L1263.8 1307.9 L1265.9 1304.2 L1268.5 1306.0 L1271.2 1309.7 L1273.8 1317.1 L1276.5 1327.0 L1279.1 1341.5 L1281.8 1366.6 L1284.4 1399.8 L1287.0 1436.8 L1289.7 1474.4 L1292.3 1507.5 L1295.0 1537.4 L1297.6 1562.7 L1300.3 1582.8 L1302.9 1596.3 L1305.0 1591.3 L1307.0 1580.7 L1309.1 1561.8 L1311.1 1537.1 L1313.2 1506.8 L1315.2 1479.9 L1317.3 1454.1 L1319.4 1428.3 L1321.4 1402.2 L1323.5 1376.9 L1325.5 1351.1 L1327.6 1333.5 L1329.6 1324.0 L1331.7 1320.5 L1334.4 1322.1 L1337.2 1325.7 L1339.9 1332.5 L1342.7 1341.8 L1345.4 1355.2 L1348.2 1378.7 L1350.9 1409.7 L1353.6 1444.2 L1356.4 1479.2 L1359.1 1510.1 L1361.9 1538.0 L1364.6 1561.6 L1367.4 1580.3 L1370.1 1592.9 L1372.2 1587.7 L1374.2 1576.6 L1376.3 1556.9 L1378.3 1531.2 L1380.4 1499.5 L1382.4 1471.5 L1384.5 1444.5 L1386.6 1417.6 L1388.6 1390.5 L1390.7 1364.1 L1392.7 1337.1 L1394.8 1318.7 L1396.8 1308.8 L1398.9 1305.2 L1401.5 1307.0 L1404.2 1310.8 L1406.8 1318.1 L1409.5 1328.1 L1412.1 1342.6 L1414.8 1367.9 L1417.4 1401.3 L1420.0 1438.5 L1422.7 1476.2 L1425.3 1509.4 L1428.0 1539.6 L1430.6 1564.9 L1433.3 1585.2 L1435.9 1598.7 L1438.0 1593.5 L1440.0 1582.3 L1442.1 1562.4 L1444.1 1536.6 L1446.2 1504.7 L1448.2 1476.4 L1450.3 1449.3 L1452.4 1422.2 L1454.4 1394.8 L1456.5 1368.3 L1458.5 1341.1 L1460.6 1322.6 L1462.6 1312.7 L1464.7 1309.0 L1467.2 1310.7 L1469.8 1314.5 L1472.3 1321.8 L1474.8 1331.7 L1477.4 1346.0 L1479.9 1371.0 L1482.5 1404.0 L1485.0 1440.7 L1487.5 1478.0 L1490.1 1510.9 L1492.6 1540.6 L1495.1 1565.7 L1497.7 1585.7 L1500.2 1599.1 L1502.4 1593.8 L1504.5 1582.6 L1506.7 1562.6 L1508.8 1536.6 L1511.0 1504.5 L1513.1 1476.1 L1515.3 1448.8 L1517.5 1421.5 L1519.6 1394.0 L1521.8 1367.2 L1523.9 1339.9 L1526.1 1321.3 L1528.2 1311.3 L1530.4 1307.6 L1532.9 1309.3 L1535.4 1313.1 L1537.9 1320.3 L1540.4 1330.1 L1542.9 1344.3 L1545.4 1369.1 L1548.0 1401.8 L1550.5 1438.3 L1553.0 1475.2 L1555.5 1507.8 L1558.0 1537.3 L1560.5 1562.2 L1563.0 1582.0 L1565.5 1595.3 L1567.6 1590.2 L1569.7 1579.2 L1571.9 1559.7 L1574.0 1534.3 L1576.1 1503.0 L1578.2 1475.3 L1580.3 1448.6 L1582.5 1422.0 L1584.6 1395.2 L1586.7 1369.1 L1588.8 1342.4 L1591.0 1324.3 L1593.1 1314.5 L1595.2 1310.9 L1597.7 1312.6 L1600.1 1316.3 L1602.6 1323.4 L1605.1 1333.1 L1607.6 1347.2 L1610.0 1371.7 L1612.5 1404.0 L1615.0 1440.1 L1617.4 1476.6 L1619.9 1508.8 L1622.4 1538.0 L1624.9 1562.6 L1627.3 1582.2 L1629.8 1595.3 L1632.0 1590.3 L1634.1 1579.6 L1636.3 1560.6 L1638.4 1535.8 L1640.6 1505.3 L1642.7 1478.3 L1644.9 1452.3 L1647.1 1426.4 L1649.2 1400.2 L1651.4 1374.8 L1653.5 1348.8 L1655.7 1331.1 L1657.8 1321.6 L1660.0 1318.1 L1662.5 1319.8 L1665.0 1323.3 L1667.5 1330.2 L1670.0 1339.6 L1672.5 1353.2 L1675.0 1376.8 L1677.5 1408.1 L1680.1 1442.9 L1682.6 1478.2 L1685.1 1509.3 L1687.6 1537.5 L1690.1 1561.3 L1692.6 1580.2 L1695.1 1592.9 L1697.2 1587.8 L1699.3 1576.7 L1701.5 1557.2 L1703.6 1531.7 L1705.7 1500.3 L1707.8 1472.5 L1709.9 1445.8 L1712.1 1419.1 L1714.2 1392.1 L1716.3 1366.0 L1718.4 1339.2 L1720.6 1321.0 L1722.7 1311.2 L1724.8 1307.6 L1727.3 1309.4 L1729.8 1313.1 L1732.3 1320.5 L1734.8 1330.4 L1737.3 1344.8 L1739.8 1369.9 L1742.3 1403.0 L1744.9 1440.0 L1747.4 1477.4 L1749.9 1510.5 L1752.4 1540.4 L1754.9 1565.6 L1757.4 1585.7 L1759.9 1599.1 L1762.0 1593.9 L1764.1 1582.7 L1766.3 1562.9 L1768.4 1537.1 L1770.5 1505.3 L1772.6 1477.1 L1774.8 1450.0 L1776.9 1423.0 L1779.0 1395.7 L1781.1 1369.1 L1783.2 1342.0 L1785.4 1323.6 L1787.5 1313.6 L1789.6 1310.0 L1792.2 1311.7 L1794.8 1315.5 L1797.3 1322.8 L1799.9 1332.7 L1802.5 1347.0 L1805.1 1372.0 L1807.7 1405.0 L1810.2 1441.7 L1812.8 1479.0 L1815.4 1511.9 L1818.0 1541.6 L1820.5 1566.7 L1823.1 1586.7 L1825.7 1600.1 L1827.8 1594.8 L1829.8 1583.3 L1831.9 1563.0 L1833.9 1536.6 L1836.0 1504.1 L1838.0 1475.2 L1840.1 1447.5 L1842.2 1419.8 L1844.2 1391.9 L1846.3 1364.7 L1848.3 1337.0 L1850.4 1318.1 L1852.4 1307.9 L1854.5 1304.2 L1857.1 1306.0 L1859.8 1309.9 L1862.4 1317.4 L1865.0 1327.6 L1867.7 1342.4 L1870.3 1368.2 L1873.0 1402.2 L1875.6 1440.1 L1878.2 1478.6 L1880.9 1512.5 L1883.5 1543.2 L1886.1 1569.1 L1888.8 1589.7 L1891.4 1603.5 L1893.5 1597.9 L1895.6 1586.0 L1897.7 1564.8 L1899.8 1537.2 L1901.9 1503.3 L1904.0 1473.1 L1906.1 1444.2 L1908.1 1415.3 L1910.2 1386.1 L1912.3 1357.8 L1914.4 1328.8 L1916.5 1309.1 L1918.6 1298.5 L1920.7 1294.6 L1923.2 1296.5 L1925.8 1300.7 L1928.3 1308.7 L1930.8 1319.6 L1933.4 1335.4 L1935.9 1363.0 L1938.5 1399.3 L1941.0 1439.9 L1943.5 1481.0 L1946.1 1517.2 L1948.6 1550.0 L1951.1 1577.7 L1953.7 1599.7 L1956.2 1614.5 L1958.4 1608.8 L1960.5 1596.7 L1962.7 1575.2 L1964.9 1547.1 L1967.0 1512.6 L1969.2 1481.9 L1971.3 1452.5 L1973.5 1423.1 L1975.7 1393.5 L1977.8 1364.7 L1980.0 1335.2 L1982.2 1315.2 L1984.3 1304.4 L1986.5 1300.4 L1989.1 1302.3 L1991.6 1306.4 L1994.2 1314.4 L1996.8 1325.1 L1999.4 1340.8 L2001.9 1368.0 L2004.5 1404.0 L2007.1 1444.1 L2009.6 1484.8 L2012.2 1520.7 L2014.8 1553.1 L2017.4 1580.5 L2019.9 1602.3 L2022.5 1616.9 L2024.7 1611.2 L2027.0 1599.1 L2029.2 1577.6 L2031.4 1549.5 L2033.6 1515.0 L2035.9 1484.3 L2038.1 1454.9 L2040.3 1425.5 L2042.6 1395.9 L2044.8 1367.1 L2047.0 1337.6 L2049.2 1317.6 L2051.5 1306.8 L2053.7 1302.8 L2056.2 1304.7 L2058.7 1308.7 L2061.2 1316.4 L2063.7 1327.0 L2066.2 1342.3 L2068.7 1368.9 L2071.2 1404.1 L2073.7 1443.3 L2076.2 1483.0 L2078.7 1518.0 L2081.2 1549.8 L2083.7 1576.5 L2086.2 1597.8 L2088.7 1612.1 L2090.9 1606.2 L2093.2 1593.5 L2095.4 1570.9 L2097.6 1541.5 L2099.9 1505.3 L2102.1 1473.2 L2104.3 1442.4 L2106.6 1411.6 L2108.8 1380.5 L2111.1 1350.3 L2113.3 1319.5 L2115.5 1298.5 L2117.8 1287.1 L2120.0 1283.0" stroke-dasharray="46 2.2 9 2.2"/></g>
<line x1="211.8" y1="1435.3" x2="2113.5" y2="1435.3" stroke="#c00000" stroke-width="5.9"/>
<text x="200.7" y="1100.8" font-size="42.7" text-anchor="end" class="sa">7000</text>
<text x="200.7" y="1199.6" font-size="42.7" text-anchor="end" class="sa">6500</text>
<text x="200.7" y="1298.4" font-size="42.7" text-anchor="end" class="sa">6000</text>
<text x="200.7" y="1397.2" font-size="42.7" text-anchor="end" class="sa">5500</text>
<text x="200.7" y="1496.0" font-size="42.7" text-anchor="end" class="sa">5000</text>
<text x="200.7" y="1594.8" font-size="42.7" text-anchor="end" class="sa">4500</text>
<text x="200.7" y="1693.5" font-size="42.7" text-anchor="end" class="sa">4000</text>
<text x="200.7" y="1792.3" font-size="42.7" text-anchor="end" class="sa">3500</text>
<text x="200.7" y="1891.1" font-size="42.7" text-anchor="end" class="sa">3000</text>
<text x="210.0" y="1924.8" font-size="42.7" text-anchor="middle" class="sa">0</text>
<text x="592.1" y="1924.8" font-size="42.7" text-anchor="middle" class="sa">0.4</text>
<text x="972.5" y="1924.8" font-size="42.7" text-anchor="middle" class="sa">0.8</text>
<text x="1352.8" y="1924.8" font-size="42.7" text-anchor="middle" class="sa">1.2</text>
<text x="1733.2" y="1924.8" font-size="42.7" text-anchor="middle" class="sa">1.6</text>
<text x="2113.5" y="1924.8" font-size="42.7" text-anchor="middle" class="sa">2</text>
<text x="1170.4" y="1981.3" font-size="47.0" text-anchor="middle" class="sa">Time (s)</text>
<text transform="translate(88.5 1478.5) rotate(-90)" font-size="47.0" text-anchor="middle" class="sa">Voltage (V)</text>
</g>
<text y="2078" class="se" font-size="74"><tspan x="933.6">(</tspan><tspan font-weight="bold">b</tspan><tspan>)</tspan><tspan x="1051.3" font-style="italic">K</tspan><tspan x="1100" font-size="49">iw</tspan><tspan x="1158.2">=</tspan><tspan x="1207.7">5</tspan></text>
<g filter="url(#bl)">
<line x1="598.7" y1="2122" x2="598.7" y2="2905.5" stroke="#dcdcdc" stroke-width="2"/>
<line x1="976.7" y1="2122" x2="976.7" y2="2905.5" stroke="#dcdcdc" stroke-width="2"/>
<line x1="1354.6" y1="2122" x2="1354.6" y2="2905.5" stroke="#dcdcdc" stroke-width="2"/>
<line x1="1732.6" y1="2122" x2="1732.6" y2="2905.5" stroke="#dcdcdc" stroke-width="2"/>
<line x1="220.8" y1="2219.9" x2="2110.5" y2="2219.9" stroke="#e6e6e6" stroke-width="2.5"/>
<line x1="220.8" y1="2317.9" x2="2110.5" y2="2317.9" stroke="#e6e6e6" stroke-width="2.5"/>
<line x1="220.8" y1="2415.8" x2="2110.5" y2="2415.8" stroke="#e6e6e6" stroke-width="2.5"/>
<line x1="220.8" y1="2513.8" x2="2110.5" y2="2513.8" stroke="#e6e6e6" stroke-width="2.5"/>
<line x1="220.8" y1="2611.7" x2="2110.5" y2="2611.7" stroke="#e6e6e6" stroke-width="2.5"/>
<line x1="220.8" y1="2709.6" x2="2110.5" y2="2709.6" stroke="#e6e6e6" stroke-width="2.5"/>
<line x1="220.8" y1="2807.6" x2="2110.5" y2="2807.6" stroke="#e6e6e6" stroke-width="2.5"/>
<line x1="598.7" y1="2122" x2="598.7" y2="2140.2" stroke="#333" stroke-width="2.5"/>
<line x1="598.7" y1="2905.5" x2="598.7" y2="2887.3" stroke="#333" stroke-width="2.5"/>
<line x1="976.7" y1="2122" x2="976.7" y2="2140.2" stroke="#333" stroke-width="2.5"/>
<line x1="976.7" y1="2905.5" x2="976.7" y2="2887.3" stroke="#333" stroke-width="2.5"/>
<line x1="1354.6" y1="2122" x2="1354.6" y2="2140.2" stroke="#333" stroke-width="2.5"/>
<line x1="1354.6" y1="2905.5" x2="1354.6" y2="2887.3" stroke="#333" stroke-width="2.5"/>
<line x1="1732.6" y1="2122" x2="1732.6" y2="2140.2" stroke="#333" stroke-width="2.5"/>
<line x1="1732.6" y1="2905.5" x2="1732.6" y2="2887.3" stroke="#333" stroke-width="2.5"/>
<line x1="220.8" y1="2219.9" x2="239.0" y2="2219.9" stroke="#5c5c5c" stroke-width="3.6"/>
<line x1="2110.5" y1="2219.9" x2="2092.3" y2="2219.9" stroke="#5c5c5c" stroke-width="3.6"/>
<line x1="220.8" y1="2317.9" x2="239.0" y2="2317.9" stroke="#5c5c5c" stroke-width="3.6"/>
<line x1="2110.5" y1="2317.9" x2="2092.3" y2="2317.9" stroke="#5c5c5c" stroke-width="3.6"/>
<line x1="220.8" y1="2415.8" x2="239.0" y2="2415.8" stroke="#5c5c5c" stroke-width="3.6"/>
<line x1="2110.5" y1="2415.8" x2="2092.3" y2="2415.8" stroke="#5c5c5c" stroke-width="3.6"/>
<line x1="220.8" y1="2513.8" x2="239.0" y2="2513.8" stroke="#5c5c5c" stroke-width="3.6"/>
<line x1="2110.5" y1="2513.8" x2="2092.3" y2="2513.8" stroke="#5c5c5c" stroke-width="3.6"/>
<line x1="220.8" y1="2611.7" x2="239.0" y2="2611.7" stroke="#5c5c5c" stroke-width="3.6"/>
<line x1="2110.5" y1="2611.7" x2="2092.3" y2="2611.7" stroke="#5c5c5c" stroke-width="3.6"/>
<line x1="220.8" y1="2709.6" x2="239.0" y2="2709.6" stroke="#5c5c5c" stroke-width="3.6"/>
<line x1="2110.5" y1="2709.6" x2="2092.3" y2="2709.6" stroke="#5c5c5c" stroke-width="3.6"/>
<line x1="220.8" y1="2807.6" x2="239.0" y2="2807.6" stroke="#5c5c5c" stroke-width="3.6"/>
<line x1="2110.5" y1="2807.6" x2="2092.3" y2="2807.6" stroke="#5c5c5c" stroke-width="3.6"/>
<line x1="218.3" y1="2122" x2="2113.0" y2="2122" stroke="#858585" stroke-width="5"/>
<line x1="218.3" y1="2905.5" x2="2113.0" y2="2905.5" stroke="#858585" stroke-width="5"/>
<line x1="220.8" y1="2122" x2="220.8" y2="2905.5" stroke="#3a3a3a" stroke-width="3"/>
<line x1="2110.5" y1="2122" x2="2110.5" y2="2905.5" stroke="#858585" stroke-width="5"/>
<clipPath id="cpc"><rect x="219.3" y="2120.5" width="1893.2" height="787.0"/></clipPath>
<g clip-path="url(#cpc)" fill="none" stroke="#0000ff" stroke-linejoin="round" stroke-width="10.1"><path d="M242.6 2910.0 L242.9 2896.3 L243.2 2882.6 L243.6 2869.0 L243.9 2855.3 L244.2 2841.6 L244.6 2827.9 L244.9 2814.2 L245.2 2800.5 L245.6 2786.9 L245.9 2773.2 L246.3 2759.5 L246.6 2745.8 L247.0 2732.1 L247.3 2718.5 L247.7 2704.8 L248.1 2691.1 L248.5 2677.4 L248.8 2663.7 L249.2 2650.1 L249.6 2636.4 L250.0 2622.7 L250.4 2609.0 L250.8 2595.3 L251.1 2581.7 L251.5 2568.0 L251.9 2554.3 L252.3 2540.6 L252.7 2526.9 L253.2 2513.3 L253.7 2499.6 L254.2 2485.9 L254.8 2472.2 L255.4 2458.6 L256.1 2444.9 L256.7 2431.2 L257.5 2417.5 L258.3 2403.9 L259.1 2390.2 L259.9 2376.6 L260.6 2362.9 L261.3 2349.2 L262.0 2335.6 L262.5 2321.9 L262.9 2308.2 L263.4 2294.5 L264.3 2280.9 L265.8 2267.2 L268.1 2253.8 L272.4 2240.8 L274.6 2247.5 L276.9 2262.3 L279.1 2281.4 L281.3 2303.4 L283.5 2330.6 L285.8 2370.2 L288.0 2419.1 L290.2 2472.5 L292.5 2526.4 L294.7 2575.2 L296.9 2620.4 L299.1 2660.1 L301.4 2692.5 L303.6 2711.2 L305.8 2701.9 L307.9 2679.4 L310.1 2642.8 L312.3 2599.2 L314.4 2548.4 L316.6 2501.9 L318.8 2456.8 L320.9 2412.6 L323.1 2370.0 L325.2 2330.1 L327.4 2291.5 L329.6 2264.9 L331.7 2250.4 L333.9 2245.1 L336.8 2254.0 L339.7 2273.6 L342.5 2296.9 L345.4 2323.0 L348.3 2353.6 L351.2 2395.3 L354.0 2445.3 L356.9 2499.2 L359.8 2553.6 L362.7 2603.5 L365.6 2650.1 L368.4 2691.9 L371.3 2726.2 L374.2 2744.8 L376.4 2735.6 L378.5 2713.5 L380.7 2677.5 L382.8 2634.4 L385.0 2584.0 L387.1 2537.9 L389.3 2493.2 L391.5 2449.5 L393.6 2407.1 L395.8 2367.4 L397.9 2328.8 L400.1 2302.3 L402.2 2287.7 L404.4 2282.5 L407.3 2286.9 L410.2 2296.4 L413.1 2310.6 L416.1 2328.1 L419.0 2351.4 L421.9 2388.4 L424.8 2435.7 L427.7 2487.9 L430.6 2540.8 L433.5 2588.0 L436.5 2631.2 L439.4 2668.3 L442.3 2698.2 L445.2 2716.9 L447.5 2709.4 L449.9 2693.1 L452.2 2664.5 L454.5 2627.8 L456.9 2582.8 L459.2 2542.8 L461.5 2504.3 L463.9 2466.0 L466.2 2427.6 L468.6 2390.4 L470.9 2352.7 L473.2 2327.0 L475.6 2313.1 L477.9 2308.0 L480.5 2310.3 L483.0 2315.1 L485.6 2324.6 L488.2 2337.4 L490.8 2356.0 L493.3 2388.4 L495.9 2431.2 L498.5 2478.9 L501.0 2527.2 L503.6 2569.9 L506.2 2608.5 L508.8 2641.0 L511.3 2666.9 L513.9 2684.3 L516.0 2677.5 L518.2 2662.9 L520.3 2637.0 L522.4 2603.3 L524.5 2561.7 L526.7 2524.8 L528.8 2489.4 L530.9 2454.1 L533.1 2418.5 L535.2 2383.8 L537.3 2348.4 L539.4 2324.2 L541.6 2311.3 L543.7 2306.5 L546.3 2308.7 L549.0 2313.4 L551.6 2322.5 L554.2 2334.8 L556.9 2352.7 L559.5 2383.9 L562.2 2425.1 L564.8 2471.1 L567.4 2517.6 L570.1 2558.7 L572.7 2595.9 L575.3 2627.2 L578.0 2652.2 L580.6 2668.9 L582.8 2662.5 L584.9 2648.8 L587.1 2624.4 L589.3 2592.7 L591.4 2553.6 L593.6 2519.0 L595.8 2485.7 L597.9 2452.5 L600.1 2419.0 L602.2 2386.4 L604.4 2353.1 L606.6 2330.4 L608.7 2318.2 L610.9 2313.7 L613.6 2315.8 L616.4 2320.3 L619.1 2329.2 L621.9 2341.1 L624.6 2358.4 L627.4 2388.6 L630.1 2428.4 L632.8 2472.8 L635.6 2517.8 L638.3 2557.5 L641.1 2593.5 L643.8 2623.8 L646.6 2647.9 L649.3 2664.1 L651.4 2658.0 L653.4 2645.0 L655.5 2621.8 L657.5 2591.7 L659.6 2554.6 L661.6 2521.7 L663.7 2490.1 L665.8 2458.5 L667.8 2426.7 L669.9 2395.7 L671.9 2364.1 L674.0 2342.6 L676.0 2331.0 L678.1 2326.7 L680.7 2328.7 L683.4 2333.0 L686.0 2341.3 L688.6 2352.5 L691.3 2368.8 L693.9 2397.3 L696.5 2434.8 L699.2 2476.7 L701.8 2519.1 L704.5 2556.5 L707.1 2590.4 L709.7 2618.9 L712.4 2641.7 L715.0 2656.9 L717.2 2651.1 L719.3 2638.6 L721.5 2616.3 L723.7 2587.4 L725.8 2551.8 L728.0 2520.2 L730.1 2489.8 L732.3 2459.5 L734.5 2429.0 L736.6 2399.3 L738.8 2368.9 L741.0 2348.2 L743.1 2337.1 L745.3 2333.0 L747.8 2334.8 L750.3 2338.7 L752.8 2346.2 L755.3 2356.4 L757.8 2371.3 L760.3 2397.1 L762.8 2431.2 L765.3 2469.2 L767.8 2507.7 L770.3 2541.7 L772.8 2572.5 L775.3 2598.4 L777.8 2619.1 L780.3 2632.9 L782.4 2627.8 L784.4 2616.8 L786.5 2597.2 L788.5 2571.8 L790.6 2540.5 L792.6 2512.8 L794.7 2486.1 L796.8 2459.5 L798.8 2432.6 L800.9 2406.5 L802.9 2379.9 L805.0 2361.7 L807.0 2351.9 L809.1 2348.3 L811.6 2349.9 L814.2 2353.5 L816.8 2360.4 L819.3 2369.7 L821.9 2383.3 L824.4 2406.9 L827.0 2438.0 L829.5 2472.7 L832.0 2507.9 L834.6 2539.0 L837.1 2567.1 L839.7 2590.8 L842.2 2609.7 L844.8 2622.3 L846.9 2617.3 L849.1 2606.6 L851.2 2587.6 L853.3 2562.8 L855.4 2532.3 L857.6 2505.3 L859.7 2479.3 L861.8 2453.3 L864.0 2427.2 L866.1 2401.7 L868.2 2375.7 L870.3 2358.0 L872.5 2348.5 L874.6 2345.0 L877.2 2346.7 L879.8 2350.3 L882.4 2357.4 L885.0 2367.0 L887.6 2380.9 L890.2 2405.2 L892.9 2437.2 L895.5 2472.9 L898.1 2509.1 L900.7 2541.0 L903.3 2569.9 L905.9 2594.3 L908.5 2613.7 L911.1 2626.7 L913.1 2621.8 L915.1 2611.3 L917.2 2592.7 L919.2 2568.5 L921.2 2538.7 L923.2 2512.2 L925.2 2486.8 L927.3 2461.5 L929.3 2435.9 L931.3 2411.0 L933.3 2385.6 L935.4 2368.2 L937.4 2358.9 L939.4 2355.5 L942.1 2357.1 L944.7 2360.7 L947.4 2367.5 L950.1 2376.8 L952.8 2390.3 L955.4 2413.8 L958.1 2444.7 L960.8 2479.3 L963.4 2514.3 L966.1 2545.2 L968.8 2573.2 L971.5 2596.7 L974.1 2615.5 L976.8 2628.1 L978.8 2623.1 L980.8 2612.3 L982.8 2593.2 L984.8 2568.4 L986.8 2537.8 L988.8 2510.6 L990.8 2484.6 L992.7 2458.5 L994.7 2432.3 L996.7 2406.7 L998.7 2380.7 L1000.7 2362.9 L1002.7 2353.3 L1004.7 2349.8 L1007.3 2351.5 L1009.8 2355.2 L1012.4 2362.4 L1015.0 2372.2 L1017.6 2386.3 L1020.1 2411.0 L1022.7 2443.6 L1025.3 2479.9 L1027.8 2516.7 L1030.4 2549.2 L1033.0 2578.6 L1035.6 2603.3 L1038.1 2623.1 L1040.7 2636.3 L1042.8 2630.9 L1044.9 2619.5 L1047.1 2599.1 L1049.2 2572.6 L1051.3 2539.9 L1053.4 2510.9 L1055.6 2483.1 L1057.7 2455.3 L1059.8 2427.2 L1061.9 2400.0 L1064.0 2372.1 L1066.2 2353.2 L1068.3 2342.9 L1070.4 2339.2 L1072.9 2341.0 L1075.4 2344.9 L1077.9 2352.4 L1080.4 2362.6 L1082.9 2377.4 L1085.4 2403.2 L1088.0 2437.2 L1090.5 2475.2 L1093.0 2513.7 L1095.5 2547.6 L1098.0 2578.3 L1100.5 2604.2 L1103.0 2624.9 L1105.5 2638.7 L1107.7 2633.4 L1109.9 2622.2 L1112.1 2602.2 L1114.3 2576.2 L1116.5 2544.2 L1118.7 2515.7 L1120.8 2488.5 L1123.0 2461.2 L1125.2 2433.7 L1127.4 2407.0 L1129.6 2379.7 L1131.8 2361.1 L1134.0 2351.1 L1136.2 2347.4 L1138.7 2349.1 L1141.2 2352.8 L1143.7 2359.9 L1146.2 2369.5 L1148.7 2383.5 L1151.2 2407.9 L1153.8 2440.1 L1156.3 2476.0 L1158.8 2512.3 L1161.3 2544.4 L1163.8 2573.5 L1166.3 2597.9 L1168.8 2617.4 L1171.3 2630.5 L1173.5 2625.5 L1175.8 2614.7 L1178.0 2595.4 L1180.2 2570.5 L1182.4 2539.7 L1184.7 2512.4 L1186.9 2486.2 L1189.1 2460.0 L1191.4 2433.6 L1193.6 2407.9 L1195.8 2381.7 L1198.0 2363.8 L1200.3 2354.2 L1202.5 2350.7 L1205.0 2352.4 L1207.4 2355.9 L1209.9 2362.9 L1212.4 2372.3 L1214.8 2385.9 L1217.3 2409.7 L1219.8 2441.1 L1222.2 2476.0 L1224.7 2511.5 L1227.1 2542.8 L1229.6 2571.1 L1232.1 2594.9 L1234.5 2614.0 L1237.0 2626.7 L1239.1 2621.6 L1241.2 2610.7 L1243.3 2591.2 L1245.4 2565.9 L1247.5 2534.8 L1249.6 2507.2 L1251.7 2480.6 L1253.7 2454.1 L1255.8 2427.4 L1257.9 2401.4 L1260.0 2374.9 L1262.1 2356.8 L1264.2 2347.1 L1266.3 2343.5 L1268.9 2345.2 L1271.4 2349.0 L1274.0 2356.3 L1276.6 2366.2 L1279.2 2380.6 L1281.7 2405.6 L1284.3 2438.7 L1286.9 2475.6 L1289.4 2512.9 L1292.0 2545.9 L1294.6 2575.7 L1297.2 2600.8 L1299.7 2620.9 L1302.3 2634.3 L1304.4 2628.9 L1306.6 2617.4 L1308.7 2597.0 L1310.8 2570.4 L1312.9 2537.6 L1315.1 2508.5 L1317.2 2480.6 L1319.3 2452.7 L1321.5 2424.6 L1323.6 2397.3 L1325.7 2369.3 L1327.8 2350.3 L1330.0 2340.1 L1332.1 2336.3 L1334.6 2338.1 L1337.1 2341.9 L1339.6 2349.3 L1342.1 2359.3 L1344.6 2373.8 L1347.1 2399.2 L1349.6 2432.6 L1352.1 2469.9 L1354.6 2507.7 L1357.1 2541.0 L1359.6 2571.2 L1362.1 2596.6 L1364.6 2616.9 L1367.1 2630.5 L1369.3 2625.5 L1371.5 2614.9 L1373.7 2595.9 L1375.9 2571.3 L1378.1 2541.0 L1380.3 2514.0 L1382.4 2488.2 L1384.6 2462.4 L1386.8 2436.4 L1389.0 2411.0 L1391.2 2385.2 L1393.4 2367.6 L1395.6 2358.1 L1397.8 2354.6 L1400.3 2356.2 L1402.8 2359.7 L1405.3 2366.4 L1407.8 2375.5 L1410.3 2388.7 L1412.8 2411.8 L1415.3 2442.2 L1417.9 2476.2 L1420.4 2510.6 L1422.9 2540.9 L1425.4 2568.4 L1427.9 2591.5 L1430.4 2610.0 L1432.9 2622.3 L1435.0 2617.4 L1437.0 2606.8 L1439.1 2588.0 L1441.1 2563.5 L1443.2 2533.4 L1445.2 2506.6 L1447.3 2481.0 L1449.4 2455.4 L1451.4 2429.5 L1453.5 2404.4 L1455.5 2378.7 L1457.6 2361.2 L1459.6 2351.8 L1461.7 2348.3 L1464.2 2350.0 L1466.7 2353.6 L1469.2 2360.6 L1471.7 2370.2 L1474.2 2384.0 L1476.7 2408.1 L1479.2 2439.9 L1481.8 2475.4 L1484.3 2511.3 L1486.8 2543.0 L1489.3 2571.7 L1491.8 2595.9 L1494.3 2615.2 L1496.8 2628.1 L1498.9 2623.1 L1500.9 2612.3 L1503.0 2593.0 L1505.0 2568.1 L1507.1 2537.3 L1509.1 2510.0 L1511.2 2483.8 L1513.3 2457.6 L1515.3 2431.2 L1517.4 2405.5 L1519.4 2379.3 L1521.5 2361.4 L1523.5 2351.8 L1525.6 2348.3 L1528.2 2350.1 L1530.9 2354.0 L1533.5 2361.5 L1536.2 2371.7 L1538.8 2386.6 L1541.5 2412.4 L1544.1 2446.5 L1546.7 2484.5 L1549.4 2523.1 L1552.0 2557.1 L1554.7 2587.8 L1557.3 2613.8 L1560.0 2634.5 L1562.6 2648.3 L1564.6 2642.6 L1566.6 2630.4 L1568.6 2608.7 L1570.5 2580.4 L1572.5 2545.7 L1574.5 2514.8 L1576.5 2485.2 L1578.5 2455.6 L1580.5 2425.7 L1582.5 2396.7 L1584.4 2367.1 L1586.4 2346.9 L1588.4 2336.0 L1590.4 2332.0 L1593.1 2334.0 L1595.8 2338.2 L1598.4 2346.5 L1601.1 2357.6 L1603.8 2373.9 L1606.5 2402.2 L1609.2 2439.5 L1611.8 2481.1 L1614.5 2523.3 L1617.2 2560.5 L1619.9 2594.1 L1622.5 2622.5 L1625.2 2645.2 L1627.9 2660.3 L1629.9 2654.1 L1631.9 2640.7 L1634.0 2616.9 L1636.0 2585.9 L1638.0 2547.8 L1640.0 2514.0 L1642.1 2481.5 L1644.1 2449.1 L1646.1 2416.4 L1648.1 2384.6 L1650.1 2352.1 L1652.2 2330.0 L1654.2 2318.1 L1656.2 2313.7 L1658.9 2315.8 L1661.7 2320.5 L1664.4 2329.5 L1667.2 2341.6 L1669.9 2359.3 L1672.7 2390.1 L1675.4 2430.8 L1678.1 2476.1 L1680.9 2522.0 L1683.6 2562.6 L1686.4 2599.2 L1689.1 2630.1 L1691.9 2654.8 L1694.6 2671.3 L1696.7 2664.9 L1698.8 2651.3 L1700.9 2627.1 L1703.0 2595.6 L1705.1 2556.8 L1707.2 2522.4 L1709.2 2489.3 L1711.3 2456.3 L1713.4 2423.0 L1715.5 2390.7 L1717.6 2357.6 L1719.7 2335.1 L1721.8 2322.9 L1723.9 2318.5 L1726.5 2320.6 L1729.2 2325.0 L1731.8 2333.6 L1734.4 2345.2 L1737.1 2362.1 L1739.7 2391.5 L1742.3 2430.4 L1745.0 2473.7 L1747.6 2517.6 L1750.3 2556.4 L1752.9 2591.4 L1755.5 2621.0 L1758.2 2644.5 L1760.8 2660.3 L1763.0 2654.0 L1765.1 2640.5 L1767.3 2616.5 L1769.5 2585.2 L1771.6 2546.7 L1773.8 2512.6 L1775.9 2479.8 L1778.1 2447.1 L1780.3 2414.1 L1782.4 2382.0 L1784.6 2349.2 L1786.8 2326.8 L1788.9 2314.8 L1791.1 2310.4 L1793.8 2312.6 L1796.6 2317.3 L1799.3 2326.4 L1802.1 2338.7 L1804.8 2356.6 L1807.6 2387.7 L1810.3 2428.9 L1813.0 2474.7 L1815.8 2521.2 L1818.5 2562.2 L1821.3 2599.4 L1824.0 2630.7 L1826.8 2655.6 L1829.5 2672.3 L1831.6 2665.7 L1833.8 2651.7 L1835.9 2626.7 L1838.0 2594.2 L1840.1 2554.1 L1842.3 2518.5 L1844.4 2484.4 L1846.5 2450.3 L1848.7 2416.0 L1850.8 2382.5 L1852.9 2348.4 L1855.0 2325.1 L1857.2 2312.6 L1859.3 2308.0 L1861.9 2310.2 L1864.6 2314.8 L1867.2 2323.9 L1869.8 2336.2 L1872.5 2354.0 L1875.1 2385.1 L1877.8 2426.1 L1880.4 2471.9 L1883.0 2518.3 L1885.7 2559.1 L1888.3 2596.2 L1890.9 2627.4 L1893.6 2652.3 L1896.2 2668.9 L1898.4 2662.9 L1900.7 2649.9 L1902.9 2626.9 L1905.1 2597.0 L1907.3 2560.2 L1909.6 2527.5 L1911.8 2496.1 L1914.0 2464.8 L1916.3 2433.2 L1918.5 2402.4 L1920.7 2371.0 L1922.9 2349.6 L1925.2 2338.1 L1927.4 2333.9 L1929.9 2335.9 L1932.4 2340.1 L1934.9 2348.4 L1937.4 2359.5 L1939.9 2375.7 L1942.4 2403.9 L1945.0 2441.2 L1947.5 2482.8 L1950.0 2524.9 L1952.5 2562.0 L1955.0 2595.6 L1957.5 2624.0 L1960.0 2646.6 L1962.5 2661.7 L1964.6 2655.4 L1966.7 2642.0 L1968.9 2618.1 L1971.0 2587.0 L1973.1 2548.8 L1975.2 2514.8 L1977.3 2482.2 L1979.5 2449.7 L1981.6 2416.8 L1983.7 2384.9 L1985.8 2352.3 L1988.0 2330.0 L1990.1 2318.1 L1992.2 2313.7 L1994.9 2315.8 L1997.6 2320.4 L2000.2 2329.4 L2002.9 2341.4 L2005.6 2359.0 L2008.3 2389.6 L2011.0 2430.0 L2013.6 2475.0 L2016.3 2520.6 L2019.0 2560.9 L2021.7 2597.3 L2024.3 2628.0 L2027.0 2652.5 L2029.7 2668.9 L2031.9 2662.3 L2034.0 2648.2 L2036.2 2623.2 L2038.3 2590.6 L2040.5 2550.5 L2042.6 2514.9 L2044.8 2480.8 L2047.0 2446.6 L2049.1 2412.2 L2051.3 2378.7 L2053.4 2344.5 L2055.6 2321.2 L2057.7 2308.7 L2059.9 2304.1 L2062.5 2306.3 L2065.2 2311.1 L2067.8 2320.5 L2070.5 2333.0 L2073.1 2351.4 L2075.8 2383.3 L2078.4 2425.4 L2081.0 2472.4 L2083.7 2520.0 L2086.3 2562.0 L2089.0 2600.0 L2091.6 2632.1 L2094.3 2657.6 L2096.9 2674.7 L2098.5 2668.1 L2100.1 2654.1 L2101.6 2629.0 L2103.2 2596.5 L2104.8 2556.3 L2106.4 2520.8 L2107.9 2486.6 L2109.5 2452.5 L2111.1 2418.1 L2112.7 2384.6 L2114.3 2350.4 L2115.8 2327.1 L2117.4 2314.6 L2119.0 2310.0" stroke-opacity="0.3"/><path d="M242.6 2910.0 L242.9 2896.3 L243.2 2882.6 L243.6 2869.0 L243.9 2855.3 L244.2 2841.6 L244.6 2827.9 L244.9 2814.2 L245.2 2800.5 L245.6 2786.9 L245.9 2773.2 L246.3 2759.5 L246.6 2745.8 L247.0 2732.1 L247.3 2718.5 L247.7 2704.8 L248.1 2691.1 L248.5 2677.4 L248.8 2663.7 L249.2 2650.1 L249.6 2636.4 L250.0 2622.7 L250.4 2609.0 L250.8 2595.3 L251.1 2581.7 L251.5 2568.0 L251.9 2554.3 L252.3 2540.6 L252.7 2526.9 L253.2 2513.3 L253.7 2499.6 L254.2 2485.9 L254.8 2472.2 L255.4 2458.6 L256.1 2444.9 L256.7 2431.2 L257.5 2417.5 L258.3 2403.9 L259.1 2390.2 L259.9 2376.6 L260.6 2362.9 L261.3 2349.2 L262.0 2335.6 L262.5 2321.9 L262.9 2308.2 L263.4 2294.5 L264.3 2280.9 L265.8 2267.2 L268.1 2253.8 L272.4 2240.8 L274.6 2247.5 L276.9 2262.3 L279.1 2281.4 L281.3 2303.4 L283.5 2330.6 L285.8 2370.2 L288.0 2419.1 L290.2 2472.5 L292.5 2526.4 L294.7 2575.2 L296.9 2620.4 L299.1 2660.1 L301.4 2692.5 L303.6 2711.2 L305.8 2701.9 L307.9 2679.4 L310.1 2642.8 L312.3 2599.2 L314.4 2548.4 L316.6 2501.9 L318.8 2456.8 L320.9 2412.6 L323.1 2370.0 L325.2 2330.1 L327.4 2291.5 L329.6 2264.9 L331.7 2250.4 L333.9 2245.1 L336.8 2254.0 L339.7 2273.6 L342.5 2296.9 L345.4 2323.0 L348.3 2353.6 L351.2 2395.3 L354.0 2445.3 L356.9 2499.2 L359.8 2553.6 L362.7 2603.5 L365.6 2650.1 L368.4 2691.9 L371.3 2726.2 L374.2 2744.8 L376.4 2735.6 L378.5 2713.5 L380.7 2677.5 L382.8 2634.4 L385.0 2584.0 L387.1 2537.9 L389.3 2493.2 L391.5 2449.5 L393.6 2407.1 L395.8 2367.4 L397.9 2328.8 L400.1 2302.3 L402.2 2287.7 L404.4 2282.5 L407.3 2286.9 L410.2 2296.4 L413.1 2310.6 L416.1 2328.1 L419.0 2351.4 L421.9 2388.4 L424.8 2435.7 L427.7 2487.9 L430.6 2540.8 L433.5 2588.0 L436.5 2631.2 L439.4 2668.3 L442.3 2698.2 L445.2 2716.9 L447.5 2709.4 L449.9 2693.1 L452.2 2664.5 L454.5 2627.8 L456.9 2582.8 L459.2 2542.8 L461.5 2504.3 L463.9 2466.0 L466.2 2427.6 L468.6 2390.4 L470.9 2352.7 L473.2 2327.0 L475.6 2313.1 L477.9 2308.0 L480.5 2310.3 L483.0 2315.1 L485.6 2324.6 L488.2 2337.4 L490.8 2356.0 L493.3 2388.4 L495.9 2431.2 L498.5 2478.9 L501.0 2527.2 L503.6 2569.9 L506.2 2608.5 L508.8 2641.0 L511.3 2666.9 L513.9 2684.3 L516.0 2677.5 L518.2 2662.9 L520.3 2637.0 L522.4 2603.3 L524.5 2561.7 L526.7 2524.8 L528.8 2489.4 L530.9 2454.1 L533.1 2418.5 L535.2 2383.8 L537.3 2348.4 L539.4 2324.2 L541.6 2311.3 L543.7 2306.5 L546.3 2308.7 L549.0 2313.4 L551.6 2322.5 L554.2 2334.8 L556.9 2352.7 L559.5 2383.9 L562.2 2425.1 L564.8 2471.1 L567.4 2517.6 L570.1 2558.7 L572.7 2595.9 L575.3 2627.2 L578.0 2652.2 L580.6 2668.9 L582.8 2662.5 L584.9 2648.8 L587.1 2624.4 L589.3 2592.7 L591.4 2553.6 L593.6 2519.0 L595.8 2485.7 L597.9 2452.5 L600.1 2419.0 L602.2 2386.4 L604.4 2353.1 L606.6 2330.4 L608.7 2318.2 L610.9 2313.7 L613.6 2315.8 L616.4 2320.3 L619.1 2329.2 L621.9 2341.1 L624.6 2358.4 L627.4 2388.6 L630.1 2428.4 L632.8 2472.8 L635.6 2517.8 L638.3 2557.5 L641.1 2593.5 L643.8 2623.8 L646.6 2647.9 L649.3 2664.1 L651.4 2658.0 L653.4 2645.0 L655.5 2621.8 L657.5 2591.7 L659.6 2554.6 L661.6 2521.7 L663.7 2490.1 L665.8 2458.5 L667.8 2426.7 L669.9 2395.7 L671.9 2364.1 L674.0 2342.6 L676.0 2331.0 L678.1 2326.7 L680.7 2328.7 L683.4 2333.0 L686.0 2341.3 L688.6 2352.5 L691.3 2368.8 L693.9 2397.3 L696.5 2434.8 L699.2 2476.7 L701.8 2519.1 L704.5 2556.5 L707.1 2590.4 L709.7 2618.9 L712.4 2641.7 L715.0 2656.9 L717.2 2651.1 L719.3 2638.6 L721.5 2616.3 L723.7 2587.4 L725.8 2551.8 L728.0 2520.2 L730.1 2489.8 L732.3 2459.5 L734.5 2429.0 L736.6 2399.3 L738.8 2368.9 L741.0 2348.2 L743.1 2337.1 L745.3 2333.0 L747.8 2334.8 L750.3 2338.7 L752.8 2346.2 L755.3 2356.4 L757.8 2371.3 L760.3 2397.1 L762.8 2431.2 L765.3 2469.2 L767.8 2507.7 L770.3 2541.7 L772.8 2572.5 L775.3 2598.4 L777.8 2619.1 L780.3 2632.9 L782.4 2627.8 L784.4 2616.8 L786.5 2597.2 L788.5 2571.8 L790.6 2540.5 L792.6 2512.8 L794.7 2486.1 L796.8 2459.5 L798.8 2432.6 L800.9 2406.5 L802.9 2379.9 L805.0 2361.7 L807.0 2351.9 L809.1 2348.3 L811.6 2349.9 L814.2 2353.5 L816.8 2360.4 L819.3 2369.7 L821.9 2383.3 L824.4 2406.9 L827.0 2438.0 L829.5 2472.7 L832.0 2507.9 L834.6 2539.0 L837.1 2567.1 L839.7 2590.8 L842.2 2609.7 L844.8 2622.3 L846.9 2617.3 L849.1 2606.6 L851.2 2587.6 L853.3 2562.8 L855.4 2532.3 L857.6 2505.3 L859.7 2479.3 L861.8 2453.3 L864.0 2427.2 L866.1 2401.7 L868.2 2375.7 L870.3 2358.0 L872.5 2348.5 L874.6 2345.0 L877.2 2346.7 L879.8 2350.3 L882.4 2357.4 L885.0 2367.0 L887.6 2380.9 L890.2 2405.2 L892.9 2437.2 L895.5 2472.9 L898.1 2509.1 L900.7 2541.0 L903.3 2569.9 L905.9 2594.3 L908.5 2613.7 L911.1 2626.7 L913.1 2621.8 L915.1 2611.3 L917.2 2592.7 L919.2 2568.5 L921.2 2538.7 L923.2 2512.2 L925.2 2486.8 L927.3 2461.5 L929.3 2435.9 L931.3 2411.0 L933.3 2385.6 L935.4 2368.2 L937.4 2358.9 L939.4 2355.5 L942.1 2357.1 L944.7 2360.7 L947.4 2367.5 L950.1 2376.8 L952.8 2390.3 L955.4 2413.8 L958.1 2444.7 L960.8 2479.3 L963.4 2514.3 L966.1 2545.2 L968.8 2573.2 L971.5 2596.7 L974.1 2615.5 L976.8 2628.1 L978.8 2623.1 L980.8 2612.3 L982.8 2593.2 L984.8 2568.4 L986.8 2537.8 L988.8 2510.6 L990.8 2484.6 L992.7 2458.5 L994.7 2432.3 L996.7 2406.7 L998.7 2380.7 L1000.7 2362.9 L1002.7 2353.3 L1004.7 2349.8 L1007.3 2351.5 L1009.8 2355.2 L1012.4 2362.4 L1015.0 2372.2 L1017.6 2386.3 L1020.1 2411.0 L1022.7 2443.6 L1025.3 2479.9 L1027.8 2516.7 L1030.4 2549.2 L1033.0 2578.6 L1035.6 2603.3 L1038.1 2623.1 L1040.7 2636.3 L1042.8 2630.9 L1044.9 2619.5 L1047.1 2599.1 L1049.2 2572.6 L1051.3 2539.9 L1053.4 2510.9 L1055.6 2483.1 L1057.7 2455.3 L1059.8 2427.2 L1061.9 2400.0 L1064.0 2372.1 L1066.2 2353.2 L1068.3 2342.9 L1070.4 2339.2 L1072.9 2341.0 L1075.4 2344.9 L1077.9 2352.4 L1080.4 2362.6 L1082.9 2377.4 L1085.4 2403.2 L1088.0 2437.2 L1090.5 2475.2 L1093.0 2513.7 L1095.5 2547.6 L1098.0 2578.3 L1100.5 2604.2 L1103.0 2624.9 L1105.5 2638.7 L1107.7 2633.4 L1109.9 2622.2 L1112.1 2602.2 L1114.3 2576.2 L1116.5 2544.2 L1118.7 2515.7 L1120.8 2488.5 L1123.0 2461.2 L1125.2 2433.7 L1127.4 2407.0 L1129.6 2379.7 L1131.8 2361.1 L1134.0 2351.1 L1136.2 2347.4 L1138.7 2349.1 L1141.2 2352.8 L1143.7 2359.9 L1146.2 2369.5 L1148.7 2383.5 L1151.2 2407.9 L1153.8 2440.1 L1156.3 2476.0 L1158.8 2512.3 L1161.3 2544.4 L1163.8 2573.5 L1166.3 2597.9 L1168.8 2617.4 L1171.3 2630.5 L1173.5 2625.5 L1175.8 2614.7 L1178.0 2595.4 L1180.2 2570.5 L1182.4 2539.7 L1184.7 2512.4 L1186.9 2486.2 L1189.1 2460.0 L1191.4 2433.6 L1193.6 2407.9 L1195.8 2381.7 L1198.0 2363.8 L1200.3 2354.2 L1202.5 2350.7 L1205.0 2352.4 L1207.4 2355.9 L1209.9 2362.9 L1212.4 2372.3 L1214.8 2385.9 L1217.3 2409.7 L1219.8 2441.1 L1222.2 2476.0 L1224.7 2511.5 L1227.1 2542.8 L1229.6 2571.1 L1232.1 2594.9 L1234.5 2614.0 L1237.0 2626.7 L1239.1 2621.6 L1241.2 2610.7 L1243.3 2591.2 L1245.4 2565.9 L1247.5 2534.8 L1249.6 2507.2 L1251.7 2480.6 L1253.7 2454.1 L1255.8 2427.4 L1257.9 2401.4 L1260.0 2374.9 L1262.1 2356.8 L1264.2 2347.1 L1266.3 2343.5 L1268.9 2345.2 L1271.4 2349.0 L1274.0 2356.3 L1276.6 2366.2 L1279.2 2380.6 L1281.7 2405.6 L1284.3 2438.7 L1286.9 2475.6 L1289.4 2512.9 L1292.0 2545.9 L1294.6 2575.7 L1297.2 2600.8 L1299.7 2620.9 L1302.3 2634.3 L1304.4 2628.9 L1306.6 2617.4 L1308.7 2597.0 L1310.8 2570.4 L1312.9 2537.6 L1315.1 2508.5 L1317.2 2480.6 L1319.3 2452.7 L1321.5 2424.6 L1323.6 2397.3 L1325.7 2369.3 L1327.8 2350.3 L1330.0 2340.1 L1332.1 2336.3 L1334.6 2338.1 L1337.1 2341.9 L1339.6 2349.3 L1342.1 2359.3 L1344.6 2373.8 L1347.1 2399.2 L1349.6 2432.6 L1352.1 2469.9 L1354.6 2507.7 L1357.1 2541.0 L1359.6 2571.2 L1362.1 2596.6 L1364.6 2616.9 L1367.1 2630.5 L1369.3 2625.5 L1371.5 2614.9 L1373.7 2595.9 L1375.9 2571.3 L1378.1 2541.0 L1380.3 2514.0 L1382.4 2488.2 L1384.6 2462.4 L1386.8 2436.4 L1389.0 2411.0 L1391.2 2385.2 L1393.4 2367.6 L1395.6 2358.1 L1397.8 2354.6 L1400.3 2356.2 L1402.8 2359.7 L1405.3 2366.4 L1407.8 2375.5 L1410.3 2388.7 L1412.8 2411.8 L1415.3 2442.2 L1417.9 2476.2 L1420.4 2510.6 L1422.9 2540.9 L1425.4 2568.4 L1427.9 2591.5 L1430.4 2610.0 L1432.9 2622.3 L1435.0 2617.4 L1437.0 2606.8 L1439.1 2588.0 L1441.1 2563.5 L1443.2 2533.4 L1445.2 2506.6 L1447.3 2481.0 L1449.4 2455.4 L1451.4 2429.5 L1453.5 2404.4 L1455.5 2378.7 L1457.6 2361.2 L1459.6 2351.8 L1461.7 2348.3 L1464.2 2350.0 L1466.7 2353.6 L1469.2 2360.6 L1471.7 2370.2 L1474.2 2384.0 L1476.7 2408.1 L1479.2 2439.9 L1481.8 2475.4 L1484.3 2511.3 L1486.8 2543.0 L1489.3 2571.7 L1491.8 2595.9 L1494.3 2615.2 L1496.8 2628.1 L1498.9 2623.1 L1500.9 2612.3 L1503.0 2593.0 L1505.0 2568.1 L1507.1 2537.3 L1509.1 2510.0 L1511.2 2483.8 L1513.3 2457.6 L1515.3 2431.2 L1517.4 2405.5 L1519.4 2379.3 L1521.5 2361.4 L1523.5 2351.8 L1525.6 2348.3 L1528.2 2350.1 L1530.9 2354.0 L1533.5 2361.5 L1536.2 2371.7 L1538.8 2386.6 L1541.5 2412.4 L1544.1 2446.5 L1546.7 2484.5 L1549.4 2523.1 L1552.0 2557.1 L1554.7 2587.8 L1557.3 2613.8 L1560.0 2634.5 L1562.6 2648.3 L1564.6 2642.6 L1566.6 2630.4 L1568.6 2608.7 L1570.5 2580.4 L1572.5 2545.7 L1574.5 2514.8 L1576.5 2485.2 L1578.5 2455.6 L1580.5 2425.7 L1582.5 2396.7 L1584.4 2367.1 L1586.4 2346.9 L1588.4 2336.0 L1590.4 2332.0 L1593.1 2334.0 L1595.8 2338.2 L1598.4 2346.5 L1601.1 2357.6 L1603.8 2373.9 L1606.5 2402.2 L1609.2 2439.5 L1611.8 2481.1 L1614.5 2523.3 L1617.2 2560.5 L1619.9 2594.1 L1622.5 2622.5 L1625.2 2645.2 L1627.9 2660.3 L1629.9 2654.1 L1631.9 2640.7 L1634.0 2616.9 L1636.0 2585.9 L1638.0 2547.8 L1640.0 2514.0 L1642.1 2481.5 L1644.1 2449.1 L1646.1 2416.4 L1648.1 2384.6 L1650.1 2352.1 L1652.2 2330.0 L1654.2 2318.1 L1656.2 2313.7 L1658.9 2315.8 L1661.7 2320.5 L1664.4 2329.5 L1667.2 2341.6 L1669.9 2359.3 L1672.7 2390.1 L1675.4 2430.8 L1678.1 2476.1 L1680.9 2522.0 L1683.6 2562.6 L1686.4 2599.2 L1689.1 2630.1 L1691.9 2654.8 L1694.6 2671.3 L1696.7 2664.9 L1698.8 2651.3 L1700.9 2627.1 L1703.0 2595.6 L1705.1 2556.8 L1707.2 2522.4 L1709.2 2489.3 L1711.3 2456.3 L1713.4 2423.0 L1715.5 2390.7 L1717.6 2357.6 L1719.7 2335.1 L1721.8 2322.9 L1723.9 2318.5 L1726.5 2320.6 L1729.2 2325.0 L1731.8 2333.6 L1734.4 2345.2 L1737.1 2362.1 L1739.7 2391.5 L1742.3 2430.4 L1745.0 2473.7 L1747.6 2517.6 L1750.3 2556.4 L1752.9 2591.4 L1755.5 2621.0 L1758.2 2644.5 L1760.8 2660.3 L1763.0 2654.0 L1765.1 2640.5 L1767.3 2616.5 L1769.5 2585.2 L1771.6 2546.7 L1773.8 2512.6 L1775.9 2479.8 L1778.1 2447.1 L1780.3 2414.1 L1782.4 2382.0 L1784.6 2349.2 L1786.8 2326.8 L1788.9 2314.8 L1791.1 2310.4 L1793.8 2312.6 L1796.6 2317.3 L1799.3 2326.4 L1802.1 2338.7 L1804.8 2356.6 L1807.6 2387.7 L1810.3 2428.9 L1813.0 2474.7 L1815.8 2521.2 L1818.5 2562.2 L1821.3 2599.4 L1824.0 2630.7 L1826.8 2655.6 L1829.5 2672.3 L1831.6 2665.7 L1833.8 2651.7 L1835.9 2626.7 L1838.0 2594.2 L1840.1 2554.1 L1842.3 2518.5 L1844.4 2484.4 L1846.5 2450.3 L1848.7 2416.0 L1850.8 2382.5 L1852.9 2348.4 L1855.0 2325.1 L1857.2 2312.6 L1859.3 2308.0 L1861.9 2310.2 L1864.6 2314.8 L1867.2 2323.9 L1869.8 2336.2 L1872.5 2354.0 L1875.1 2385.1 L1877.8 2426.1 L1880.4 2471.9 L1883.0 2518.3 L1885.7 2559.1 L1888.3 2596.2 L1890.9 2627.4 L1893.6 2652.3 L1896.2 2668.9 L1898.4 2662.9 L1900.7 2649.9 L1902.9 2626.9 L1905.1 2597.0 L1907.3 2560.2 L1909.6 2527.5 L1911.8 2496.1 L1914.0 2464.8 L1916.3 2433.2 L1918.5 2402.4 L1920.7 2371.0 L1922.9 2349.6 L1925.2 2338.1 L1927.4 2333.9 L1929.9 2335.9 L1932.4 2340.1 L1934.9 2348.4 L1937.4 2359.5 L1939.9 2375.7 L1942.4 2403.9 L1945.0 2441.2 L1947.5 2482.8 L1950.0 2524.9 L1952.5 2562.0 L1955.0 2595.6 L1957.5 2624.0 L1960.0 2646.6 L1962.5 2661.7 L1964.6 2655.4 L1966.7 2642.0 L1968.9 2618.1 L1971.0 2587.0 L1973.1 2548.8 L1975.2 2514.8 L1977.3 2482.2 L1979.5 2449.7 L1981.6 2416.8 L1983.7 2384.9 L1985.8 2352.3 L1988.0 2330.0 L1990.1 2318.1 L1992.2 2313.7 L1994.9 2315.8 L1997.6 2320.4 L2000.2 2329.4 L2002.9 2341.4 L2005.6 2359.0 L2008.3 2389.6 L2011.0 2430.0 L2013.6 2475.0 L2016.3 2520.6 L2019.0 2560.9 L2021.7 2597.3 L2024.3 2628.0 L2027.0 2652.5 L2029.7 2668.9 L2031.9 2662.3 L2034.0 2648.2 L2036.2 2623.2 L2038.3 2590.6 L2040.5 2550.5 L2042.6 2514.9 L2044.8 2480.8 L2047.0 2446.6 L2049.1 2412.2 L2051.3 2378.7 L2053.4 2344.5 L2055.6 2321.2 L2057.7 2308.7 L2059.9 2304.1 L2062.5 2306.3 L2065.2 2311.1 L2067.8 2320.5 L2070.5 2333.0 L2073.1 2351.4 L2075.8 2383.3 L2078.4 2425.4 L2081.0 2472.4 L2083.7 2520.0 L2086.3 2562.0 L2089.0 2600.0 L2091.6 2632.1 L2094.3 2657.6 L2096.9 2674.7 L2098.5 2668.1 L2100.1 2654.1 L2101.6 2629.0 L2103.2 2596.5 L2104.8 2556.3 L2106.4 2520.8 L2107.9 2486.6 L2109.5 2452.5 L2111.1 2418.1 L2112.7 2384.6 L2114.3 2350.4 L2115.8 2327.1 L2117.4 2314.6 L2119.0 2310.0" stroke-dasharray="46 2.2 9 2.2"/></g>
<line x1="236" y1="2471.2" x2="2099" y2="2471.2" stroke="#c00000" stroke-width="5.9"/>
<circle cx="226.8" cy="2471.2" r="10" fill="#fff" stroke="#9a9a9a" stroke-width="2.5"/>
<circle cx="2108" cy="2471.2" r="10" fill="#fff" stroke="#9a9a9a" stroke-width="2.5"/>
<text x="211.4" y="2137.7" font-size="42.4" text-anchor="end" class="sa">7000</text>
<text x="211.4" y="2236.1" font-size="42.4" text-anchor="end" class="sa">6500</text>
<text x="211.4" y="2334.4" font-size="42.4" text-anchor="end" class="sa">6000</text>
<text x="211.4" y="2432.8" font-size="42.4" text-anchor="end" class="sa">5500</text>
<text x="211.4" y="2531.1" font-size="42.4" text-anchor="end" class="sa">5000</text>
<text x="211.4" y="2629.5" font-size="42.4" text-anchor="end" class="sa">4500</text>
<text x="211.4" y="2727.8" font-size="42.4" text-anchor="end" class="sa">4000</text>
<text x="211.4" y="2826.1" font-size="42.4" text-anchor="end" class="sa">3500</text>
<text x="211.4" y="2924.5" font-size="42.4" text-anchor="end" class="sa">3000</text>
<text x="221.5" y="2958.0" font-size="42.4" text-anchor="middle" class="sa">0</text>
<text x="598.7" y="2958.0" font-size="42.4" text-anchor="middle" class="sa">0.4</text>
<text x="976.7" y="2958.0" font-size="42.4" text-anchor="middle" class="sa">0.8</text>
<text x="1354.6" y="2958.0" font-size="42.4" text-anchor="middle" class="sa">1.2</text>
<text x="1732.6" y="2958.0" font-size="42.4" text-anchor="middle" class="sa">1.6</text>
<text x="2110.5" y="2958.0" font-size="42.4" text-anchor="middle" class="sa">2</text>
<text x="1172.3" y="3013.1" font-size="46.7" text-anchor="middle" class="sa">Time (s)</text>
<text transform="translate(100.9 2513.8) rotate(-90)" font-size="46.7" text-anchor="middle" class="sa">Voltage (V)</text>
</g>
<text y="3106.2" class="se" font-size="74"><tspan x="912.9">(</tspan><tspan font-weight="bold">c</tspan><tspan>)</tspan><tspan x="1017.5" font-style="italic">K</tspan><tspan x="1064.4" font-size="49">pc2</tspan><tspan x="1142.8">=</tspan><tspan x="1194.2">20</tspan></text>
<g filter="url(#bl)">
<line x1="578.6" y1="3148" x2="578.6" y2="3954.5" stroke="#dcdcdc" stroke-width="2"/>
<line x1="967.2" y1="3148" x2="967.2" y2="3954.5" stroke="#dcdcdc" stroke-width="2"/>
<line x1="1355.8" y1="3148" x2="1355.8" y2="3954.5" stroke="#dcdcdc" stroke-width="2"/>
<line x1="1744.4" y1="3148" x2="1744.4" y2="3954.5" stroke="#dcdcdc" stroke-width="2"/>
<line x1="190" y1="3248.8" x2="2133" y2="3248.8" stroke="#e6e6e6" stroke-width="2.5"/>
<line x1="190" y1="3349.6" x2="2133" y2="3349.6" stroke="#e6e6e6" stroke-width="2.5"/>
<line x1="190" y1="3450.4" x2="2133" y2="3450.4" stroke="#e6e6e6" stroke-width="2.5"/>
<line x1="190" y1="3551.2" x2="2133" y2="3551.2" stroke="#e6e6e6" stroke-width="2.5"/>
<line x1="190" y1="3652.1" x2="2133" y2="3652.1" stroke="#e6e6e6" stroke-width="2.5"/>
<line x1="190" y1="3752.9" x2="2133" y2="3752.9" stroke="#e6e6e6" stroke-width="2.5"/>
<line x1="190" y1="3853.7" x2="2133" y2="3853.7" stroke="#e6e6e6" stroke-width="2.5"/>
<line x1="578.6" y1="3148" x2="578.6" y2="3166.7" stroke="#333" stroke-width="2.5"/>
<line x1="578.6" y1="3954.5" x2="578.6" y2="3935.8" stroke="#333" stroke-width="2.5"/>
<line x1="967.2" y1="3148" x2="967.2" y2="3166.7" stroke="#333" stroke-width="2.5"/>
<line x1="967.2" y1="3954.5" x2="967.2" y2="3935.8" stroke="#333" stroke-width="2.5"/>
<line x1="1355.8" y1="3148" x2="1355.8" y2="3166.7" stroke="#333" stroke-width="2.5"/>
<line x1="1355.8" y1="3954.5" x2="1355.8" y2="3935.8" stroke="#333" stroke-width="2.5"/>
<line x1="1744.4" y1="3148" x2="1744.4" y2="3166.7" stroke="#333" stroke-width="2.5"/>
<line x1="1744.4" y1="3954.5" x2="1744.4" y2="3935.8" stroke="#333" stroke-width="2.5"/>
<line x1="190" y1="3248.8" x2="208.7" y2="3248.8" stroke="#5c5c5c" stroke-width="3.2"/>
<line x1="2133" y1="3248.8" x2="2114.3" y2="3248.8" stroke="#5c5c5c" stroke-width="3.2"/>
<line x1="190" y1="3349.6" x2="208.7" y2="3349.6" stroke="#5c5c5c" stroke-width="3.2"/>
<line x1="2133" y1="3349.6" x2="2114.3" y2="3349.6" stroke="#5c5c5c" stroke-width="3.2"/>
<line x1="190" y1="3450.4" x2="208.7" y2="3450.4" stroke="#5c5c5c" stroke-width="3.2"/>
<line x1="2133" y1="3450.4" x2="2114.3" y2="3450.4" stroke="#5c5c5c" stroke-width="3.2"/>
<line x1="190" y1="3551.2" x2="208.7" y2="3551.2" stroke="#5c5c5c" stroke-width="3.2"/>
<line x1="2133" y1="3551.2" x2="2114.3" y2="3551.2" stroke="#5c5c5c" stroke-width="3.2"/>
<line x1="190" y1="3652.1" x2="208.7" y2="3652.1" stroke="#5c5c5c" stroke-width="3.2"/>
<line x1="2133" y1="3652.1" x2="2114.3" y2="3652.1" stroke="#5c5c5c" stroke-width="3.2"/>
<line x1="190" y1="3752.9" x2="208.7" y2="3752.9" stroke="#5c5c5c" stroke-width="3.2"/>
<line x1="2133" y1="3752.9" x2="2114.3" y2="3752.9" stroke="#5c5c5c" stroke-width="3.2"/>
<line x1="190" y1="3853.7" x2="208.7" y2="3853.7" stroke="#5c5c5c" stroke-width="3.2"/>
<line x1="2133" y1="3853.7" x2="2114.3" y2="3853.7" stroke="#5c5c5c" stroke-width="3.2"/>
<line x1="188.5" y1="3148" x2="2134.5" y2="3148" stroke="#3a3a3a" stroke-width="3"/>
<line x1="187.5" y1="3954.5" x2="2135.5" y2="3954.5" stroke="#858585" stroke-width="5"/>
<line x1="190" y1="3148" x2="190" y2="3954.5" stroke="#858585" stroke-width="5"/>
<line x1="2133" y1="3148" x2="2133" y2="3954.5" stroke="#3a3a3a" stroke-width="3"/>
<clipPath id="cpd"><rect x="188.5" y="3146.5" width="1946.5" height="810.0"/></clipPath>
<g clip-path="url(#cpd)" fill="none" stroke="#0000ff" stroke-linejoin="round" stroke-width="10.4"><path d="M203.0 3960.0 L203.5 3947.6 L203.9 3935.2 L204.4 3922.8 L204.9 3910.4 L205.3 3898.0 L205.8 3885.6 L206.3 3873.2 L206.8 3860.8 L207.3 3848.4 L207.8 3836.0 L208.3 3823.6 L208.8 3811.2 L209.3 3798.9 L209.8 3786.5 L210.3 3774.1 L210.8 3761.7 L211.3 3749.3 L211.8 3736.9 L212.2 3724.5 L212.7 3712.1 L213.2 3699.7 L213.6 3687.3 L214.1 3674.9 L214.5 3662.5 L215.0 3650.1 L215.4 3637.7 L215.9 3625.3 L216.3 3612.9 L216.7 3600.5 L217.2 3588.1 L217.6 3575.7 L218.1 3563.3 L218.6 3550.9 L219.0 3538.5 L219.5 3526.1 L219.9 3513.7 L220.4 3501.3 L220.9 3488.9 L221.4 3476.5 L222.0 3464.1 L222.5 3451.7 L223.1 3439.4 L223.9 3427.0 L224.8 3414.6 L226.0 3402.3 L227.2 3389.9 L228.8 3377.6 L231.0 3365.4 L236.6 3354.6 L238.6 3356.4 L240.5 3360.3 L242.5 3368.0 L244.4 3378.3 L246.4 3393.3 L248.3 3419.4 L250.3 3453.9 L252.3 3492.3 L254.2 3531.3 L256.2 3565.7 L258.1 3596.8 L260.1 3623.0 L262.0 3643.9 L264.0 3657.9 L266.0 3651.7 L268.0 3638.3 L270.0 3614.6 L272.0 3583.8 L274.0 3545.7 L276.0 3512.0 L277.9 3479.7 L279.9 3447.3 L281.9 3414.7 L283.9 3383.0 L285.9 3350.6 L287.9 3328.5 L289.9 3316.7 L291.9 3312.3 L294.5 3315.5 L297.0 3322.3 L299.6 3334.0 L302.2 3349.1 L304.8 3370.2 L307.3 3405.7 L309.9 3452.0 L312.5 3503.3 L315.0 3555.4 L317.6 3601.5 L320.2 3643.4 L322.8 3679.0 L325.3 3707.5 L327.9 3726.1 L330.1 3719.4 L332.3 3705.1 L334.5 3679.7 L336.7 3646.6 L338.9 3605.8 L341.1 3569.7 L343.2 3535.0 L345.4 3500.3 L347.6 3465.3 L349.8 3431.3 L352.0 3396.6 L354.2 3372.9 L356.4 3360.2 L358.6 3355.5 L361.3 3357.7 L363.9 3362.6 L366.6 3371.9 L369.3 3384.6 L372.0 3403.0 L374.6 3435.0 L377.3 3477.3 L380.0 3524.4 L382.6 3572.2 L385.3 3614.4 L388.0 3652.5 L390.7 3684.7 L393.3 3710.3 L396.0 3727.5 L398.3 3720.9 L400.7 3706.8 L403.0 3681.6 L405.3 3648.9 L407.7 3608.7 L410.0 3572.9 L412.4 3538.6 L414.7 3504.4 L417.0 3469.8 L419.4 3436.2 L421.7 3401.9 L424.0 3378.5 L426.4 3365.9 L428.7 3361.3 L431.4 3363.4 L434.1 3367.9 L436.8 3376.6 L439.5 3388.4 L442.2 3405.6 L444.9 3435.4 L447.6 3474.9 L450.4 3518.9 L453.1 3563.5 L455.8 3602.8 L458.5 3638.4 L461.2 3668.4 L463.9 3692.3 L466.6 3708.3 L468.7 3701.8 L470.8 3687.8 L472.9 3663.0 L475.0 3630.8 L477.1 3591.0 L479.2 3555.8 L481.2 3521.9 L483.3 3488.1 L485.4 3454.0 L487.5 3420.8 L489.6 3387.0 L491.7 3363.9 L493.8 3351.5 L495.9 3346.9 L498.6 3349.0 L501.4 3353.5 L504.1 3362.2 L506.9 3374.0 L509.6 3391.1 L512.4 3421.0 L515.1 3460.4 L517.8 3504.3 L520.6 3548.8 L523.3 3588.1 L526.1 3623.7 L528.8 3653.6 L531.6 3677.5 L534.3 3693.5 L536.4 3687.5 L538.6 3674.5 L540.7 3651.5 L542.8 3621.5 L544.9 3584.6 L547.1 3551.9 L549.2 3520.5 L551.3 3489.1 L553.5 3457.4 L555.6 3426.6 L557.7 3395.2 L559.8 3373.8 L562.0 3362.2 L564.1 3358.0 L566.8 3360.0 L569.6 3364.2 L572.3 3372.4 L575.1 3383.6 L577.8 3399.8 L580.6 3427.9 L583.3 3465.1 L586.0 3506.6 L588.8 3548.7 L591.5 3585.8 L594.3 3619.3 L597.0 3647.6 L599.8 3670.2 L602.5 3685.3 L604.6 3679.5 L606.6 3667.1 L608.7 3645.0 L610.7 3616.3 L612.8 3580.9 L614.8 3549.6 L616.9 3519.4 L619.0 3489.4 L621.0 3459.0 L623.1 3429.5 L625.1 3399.4 L627.2 3378.8 L629.2 3367.8 L631.3 3363.7 L634.0 3365.6 L636.8 3369.6 L639.5 3377.4 L642.3 3388.0 L645.0 3403.4 L647.8 3430.2 L650.5 3465.5 L653.2 3504.9 L656.0 3544.9 L658.7 3580.1 L661.5 3612.0 L664.2 3638.9 L667.0 3660.4 L669.7 3674.7 L671.8 3669.3 L673.9 3657.7 L676.1 3637.0 L678.2 3610.2 L680.3 3577.0 L682.4 3547.7 L684.5 3519.5 L686.7 3491.4 L688.8 3463.0 L690.9 3435.4 L693.0 3407.2 L695.2 3387.9 L697.3 3377.6 L699.4 3373.8 L702.1 3375.6 L704.8 3379.5 L707.4 3387.1 L710.1 3397.3 L712.8 3412.1 L715.5 3438.0 L718.1 3472.2 L720.8 3510.3 L723.5 3548.9 L726.2 3582.9 L728.9 3613.7 L731.5 3639.7 L734.2 3660.4 L736.9 3674.3 L739.1 3669.0 L741.4 3657.5 L743.6 3637.2 L745.8 3610.8 L748.0 3578.2 L750.3 3549.3 L752.5 3521.5 L754.7 3493.8 L757.0 3465.9 L759.2 3438.7 L761.4 3410.9 L763.6 3392.0 L765.9 3381.8 L768.1 3378.1 L770.7 3379.9 L773.2 3383.7 L775.8 3391.1 L778.4 3401.1 L781.0 3415.6 L783.5 3441.0 L786.1 3474.4 L788.7 3511.7 L791.2 3549.5 L793.8 3582.8 L796.4 3613.0 L799.0 3638.4 L801.5 3658.7 L804.1 3672.3 L806.2 3667.1 L808.4 3656.1 L810.5 3636.4 L812.6 3610.8 L814.8 3579.3 L816.9 3551.4 L819.0 3524.5 L821.2 3497.7 L823.3 3470.7 L825.5 3444.4 L827.6 3417.6 L829.7 3399.3 L831.9 3389.4 L834.0 3385.8 L836.6 3387.5 L839.3 3391.1 L841.9 3398.1 L844.6 3407.5 L847.2 3421.3 L849.9 3445.2 L852.5 3476.8 L855.1 3512.0 L857.8 3547.7 L860.4 3579.2 L863.1 3607.7 L865.7 3631.7 L868.4 3650.9 L871.0 3663.7 L873.2 3658.6 L875.3 3647.6 L877.5 3628.1 L879.6 3602.8 L881.8 3571.5 L883.9 3543.8 L886.1 3517.2 L888.3 3490.6 L890.4 3463.8 L892.6 3437.7 L894.7 3411.1 L896.9 3392.9 L899.0 3383.2 L901.2 3379.6 L903.8 3381.4 L906.3 3385.1 L908.9 3392.5 L911.5 3402.3 L914.1 3416.8 L916.6 3441.8 L919.2 3475.0 L921.8 3511.9 L924.3 3549.3 L926.9 3582.3 L929.5 3612.2 L932.1 3637.4 L934.6 3657.5 L937.2 3670.9 L939.4 3665.6 L941.5 3654.4 L943.7 3634.4 L945.9 3608.4 L948.0 3576.4 L950.2 3547.9 L952.4 3520.7 L954.5 3493.4 L956.7 3465.9 L958.8 3439.2 L961.0 3411.9 L963.2 3393.3 L965.3 3383.3 L967.5 3379.6 L970.1 3381.4 L972.6 3385.3 L975.2 3392.9 L977.8 3403.1 L980.4 3418.0 L982.9 3443.9 L985.5 3478.1 L988.1 3516.2 L990.6 3554.9 L993.2 3589.0 L995.8 3619.9 L998.4 3645.9 L1000.9 3666.6 L1003.5 3680.5 L1005.6 3674.9 L1007.7 3662.9 L1009.9 3641.5 L1012.0 3613.7 L1014.1 3579.4 L1016.2 3549.0 L1018.4 3519.8 L1020.5 3490.7 L1022.6 3461.3 L1024.7 3432.7 L1026.8 3403.5 L1029.0 3383.6 L1031.1 3372.9 L1033.2 3369.0 L1035.9 3370.9 L1038.6 3374.9 L1041.2 3382.6 L1043.9 3393.1 L1046.6 3408.4 L1049.3 3435.1 L1052.0 3470.2 L1054.6 3509.4 L1057.3 3549.1 L1060.0 3584.1 L1062.7 3615.8 L1065.3 3642.5 L1068.0 3663.8 L1070.7 3678.1 L1072.9 3672.7 L1075.2 3661.0 L1077.4 3640.3 L1079.6 3613.3 L1081.8 3580.1 L1084.1 3550.7 L1086.3 3522.4 L1088.5 3494.2 L1090.8 3465.7 L1093.0 3438.0 L1095.2 3409.7 L1097.4 3390.4 L1099.7 3380.0 L1101.9 3376.2 L1104.5 3378.1 L1107.2 3382.0 L1109.8 3389.8 L1112.5 3400.3 L1115.1 3415.5 L1117.8 3442.0 L1120.4 3477.1 L1123.0 3516.1 L1125.7 3555.7 L1128.3 3590.6 L1131.0 3622.2 L1133.6 3648.8 L1136.3 3670.1 L1138.9 3684.3 L1141.1 3678.7 L1143.2 3666.8 L1145.4 3645.5 L1147.5 3617.9 L1149.7 3583.9 L1151.8 3553.7 L1154.0 3524.7 L1156.2 3495.7 L1158.3 3466.5 L1160.5 3438.1 L1162.6 3409.1 L1164.8 3389.3 L1166.9 3378.7 L1169.1 3374.8 L1171.7 3376.7 L1174.4 3380.7 L1177.0 3388.5 L1179.7 3399.0 L1182.3 3414.3 L1185.0 3440.9 L1187.6 3476.1 L1190.2 3515.3 L1192.9 3555.1 L1195.5 3590.2 L1198.2 3621.9 L1200.8 3648.7 L1203.5 3670.0 L1206.1 3684.3 L1208.2 3678.7 L1210.3 3666.7 L1212.5 3645.4 L1214.6 3617.7 L1216.7 3583.5 L1218.8 3553.2 L1220.9 3524.2 L1223.1 3495.1 L1225.2 3465.8 L1227.3 3437.3 L1229.4 3408.2 L1231.6 3388.4 L1233.7 3377.7 L1235.8 3373.8 L1238.4 3375.6 L1241.0 3379.6 L1243.6 3387.3 L1246.2 3397.8 L1248.8 3412.9 L1251.4 3439.3 L1254.0 3474.2 L1256.7 3513.1 L1259.3 3552.5 L1261.9 3587.2 L1264.5 3618.7 L1267.1 3645.2 L1269.7 3666.4 L1272.3 3680.5 L1274.5 3674.7 L1276.8 3662.2 L1279.0 3640.0 L1281.2 3611.1 L1283.4 3575.5 L1285.7 3544.0 L1287.9 3513.7 L1290.1 3483.4 L1292.4 3452.9 L1294.6 3423.2 L1296.8 3392.9 L1299.0 3372.2 L1301.3 3361.1 L1303.5 3357.0 L1306.1 3359.0 L1308.6 3363.3 L1311.2 3371.8 L1313.8 3383.1 L1316.4 3399.7 L1318.9 3428.5 L1321.5 3466.5 L1324.1 3508.9 L1326.6 3551.9 L1329.2 3589.8 L1331.8 3624.1 L1334.4 3653.0 L1336.9 3676.1 L1339.5 3691.5 L1341.7 3685.7 L1344.0 3673.3 L1346.2 3651.2 L1348.4 3622.5 L1350.6 3587.2 L1352.9 3555.8 L1355.1 3525.7 L1357.3 3495.6 L1359.6 3465.3 L1361.8 3435.8 L1364.0 3405.6 L1366.2 3385.1 L1368.5 3374.1 L1370.7 3370.0 L1373.3 3371.9 L1376.0 3376.1 L1378.6 3384.2 L1381.3 3395.1 L1383.9 3411.0 L1386.6 3438.7 L1389.2 3475.2 L1391.8 3516.0 L1394.5 3557.3 L1397.1 3593.7 L1399.8 3626.7 L1402.4 3654.5 L1405.1 3676.7 L1407.7 3691.5 L1409.9 3685.7 L1412.2 3673.2 L1414.4 3650.9 L1416.6 3622.0 L1418.8 3586.4 L1421.1 3554.8 L1423.3 3524.4 L1425.5 3494.1 L1427.8 3463.6 L1430.0 3433.9 L1432.2 3403.5 L1434.4 3382.8 L1436.7 3371.7 L1438.9 3367.6 L1441.5 3369.5 L1444.0 3373.6 L1446.5 3381.7 L1449.1 3392.5 L1451.7 3408.3 L1454.2 3435.7 L1456.8 3471.9 L1459.3 3512.3 L1461.8 3553.3 L1464.4 3589.4 L1467.0 3622.1 L1469.5 3649.6 L1472.0 3671.6 L1474.6 3686.3 L1476.8 3680.6 L1478.9 3668.3 L1481.1 3646.4 L1483.2 3617.9 L1485.4 3582.9 L1487.5 3551.8 L1489.7 3521.9 L1491.9 3492.1 L1494.0 3462.0 L1496.2 3432.8 L1498.3 3402.9 L1500.5 3382.6 L1502.6 3371.6 L1504.8 3367.6 L1507.5 3369.5 L1510.2 3373.6 L1512.8 3381.7 L1515.5 3392.5 L1518.2 3408.3 L1520.9 3435.7 L1523.5 3471.9 L1526.2 3512.3 L1528.9 3553.3 L1531.6 3589.4 L1534.3 3622.1 L1536.9 3649.6 L1539.6 3671.6 L1542.3 3686.3 L1544.4 3680.4 L1546.5 3667.8 L1548.7 3645.5 L1550.8 3616.4 L1552.9 3580.5 L1555.0 3548.7 L1557.2 3518.2 L1559.3 3487.7 L1561.4 3457.0 L1563.5 3427.1 L1565.6 3396.5 L1567.8 3375.7 L1569.9 3364.5 L1572.0 3360.4 L1574.6 3362.4 L1577.3 3366.6 L1579.9 3374.7 L1582.6 3385.8 L1585.2 3401.8 L1587.9 3429.8 L1590.5 3466.8 L1593.1 3507.9 L1595.8 3549.7 L1598.4 3586.5 L1601.1 3619.8 L1603.7 3647.9 L1606.4 3670.3 L1609.0 3685.3 L1611.2 3679.5 L1613.3 3667.2 L1615.5 3645.2 L1617.6 3616.6 L1619.8 3581.4 L1621.9 3550.2 L1624.1 3520.2 L1626.3 3490.3 L1628.4 3460.1 L1630.6 3430.7 L1632.7 3400.7 L1634.9 3380.2 L1637.0 3369.2 L1639.2 3365.2 L1641.8 3367.2 L1644.5 3371.4 L1647.1 3379.6 L1649.8 3390.7 L1652.4 3406.8 L1655.1 3434.9 L1657.7 3472.0 L1660.3 3513.4 L1663.0 3555.3 L1665.6 3592.3 L1668.3 3625.7 L1670.9 3654.0 L1673.6 3676.5 L1676.2 3691.5 L1678.4 3685.5 L1680.5 3672.8 L1682.7 3650.0 L1684.8 3620.5 L1687.0 3584.0 L1689.1 3551.7 L1691.3 3520.7 L1693.5 3489.8 L1695.6 3458.5 L1697.8 3428.1 L1699.9 3397.1 L1702.1 3376.0 L1704.2 3364.6 L1706.4 3360.4 L1709.1 3362.4 L1711.8 3366.7 L1714.4 3375.1 L1717.1 3386.4 L1719.8 3402.9 L1722.5 3431.6 L1725.2 3469.4 L1727.8 3511.7 L1730.5 3554.5 L1733.2 3592.2 L1735.9 3626.4 L1738.5 3655.2 L1741.2 3678.1 L1743.9 3693.5 L1746.1 3687.5 L1748.3 3674.8 L1750.5 3652.1 L1752.7 3622.6 L1754.9 3586.2 L1757.1 3553.9 L1759.2 3522.9 L1761.4 3492.0 L1763.6 3460.8 L1765.8 3430.5 L1768.0 3399.5 L1770.2 3378.3 L1772.4 3367.0 L1774.6 3362.8 L1777.3 3364.8 L1780.0 3369.1 L1782.6 3377.5 L1785.3 3388.8 L1788.0 3405.3 L1790.7 3434.0 L1793.3 3471.8 L1796.0 3514.1 L1798.7 3556.9 L1801.4 3594.6 L1804.1 3628.8 L1806.7 3657.6 L1809.4 3680.5 L1812.1 3695.9 L1814.2 3689.7 L1816.3 3676.3 L1818.5 3652.5 L1820.6 3621.7 L1822.7 3583.6 L1824.8 3549.8 L1826.9 3517.4 L1829.1 3485.0 L1831.2 3452.4 L1833.3 3420.6 L1835.4 3388.2 L1837.6 3366.1 L1839.7 3354.2 L1841.8 3349.8 L1844.5 3351.9 L1847.2 3356.4 L1849.8 3365.1 L1852.5 3376.9 L1855.2 3394.1 L1857.9 3424.1 L1860.5 3463.6 L1863.2 3507.6 L1865.9 3552.3 L1868.6 3591.6 L1871.3 3627.3 L1873.9 3657.3 L1876.6 3681.3 L1879.3 3697.3 L1881.5 3691.1 L1883.8 3677.7 L1886.0 3653.9 L1888.2 3623.0 L1890.4 3584.9 L1892.7 3551.0 L1894.9 3518.6 L1897.1 3486.2 L1899.4 3453.5 L1901.6 3421.7 L1903.8 3389.2 L1906.0 3367.1 L1908.3 3355.2 L1910.5 3350.8 L1913.2 3352.9 L1915.8 3357.6 L1918.5 3366.6 L1921.2 3378.7 L1923.9 3396.4 L1926.5 3427.2 L1929.2 3467.8 L1931.9 3513.1 L1934.5 3559.1 L1937.2 3599.6 L1939.9 3636.3 L1942.6 3667.2 L1945.2 3691.8 L1947.9 3708.3 L1950.0 3701.7 L1952.2 3687.5 L1954.3 3662.2 L1956.4 3629.3 L1958.5 3588.8 L1960.7 3552.9 L1962.8 3518.4 L1964.9 3484.0 L1967.1 3449.3 L1969.2 3415.5 L1971.3 3381.0 L1973.4 3357.5 L1975.6 3344.8 L1977.7 3340.2 L1980.4 3342.5 L1983.2 3347.4 L1985.9 3356.9 L1988.7 3369.8 L1991.4 3388.6 L1994.2 3421.3 L1996.9 3464.4 L1999.6 3512.4 L2002.4 3561.2 L2005.1 3604.2 L2007.9 3643.1 L2010.6 3675.9 L2013.4 3702.0 L2016.1 3719.5 L2018.3 3712.7 L2020.6 3698.2 L2022.8 3672.3 L2025.0 3638.6 L2027.2 3597.2 L2029.5 3560.4 L2031.7 3525.1 L2033.9 3489.9 L2036.2 3454.3 L2038.4 3419.7 L2040.6 3384.4 L2042.8 3360.3 L2045.1 3347.4 L2047.3 3342.6 L2050.0 3344.8 L2052.6 3349.6 L2055.3 3358.9 L2058.0 3371.5 L2060.6 3389.8 L2063.3 3421.7 L2065.9 3463.8 L2068.6 3510.7 L2071.3 3558.2 L2073.9 3600.2 L2076.6 3638.1 L2079.3 3670.1 L2081.9 3695.6 L2084.6 3712.7 L2086.8 3706.1 L2089.0 3691.9 L2091.2 3666.6 L2093.3 3633.7 L2095.5 3593.2 L2097.7 3557.3 L2099.9 3522.8 L2102.1 3488.4 L2104.3 3453.7 L2106.5 3419.9 L2108.6 3385.4 L2110.8 3361.9 L2113.0 3349.2 L2115.2 3344.6 L2117.5 3346.8 L2119.7 3351.6 L2122.0 3360.9 L2124.3 3373.5 L2126.6 3391.9 L2128.8 3423.7 L2131.1 3465.9 L2133.4 3512.8 L2135.6 3560.4 L2137.9 3602.4 L2140.2 3640.4 L2142.5 3672.4 L2144.7 3697.9 L2147.0 3715.0" stroke-opacity="0.3"/><path d="M203.0 3960.0 L203.5 3947.6 L203.9 3935.2 L204.4 3922.8 L204.9 3910.4 L205.3 3898.0 L205.8 3885.6 L206.3 3873.2 L206.8 3860.8 L207.3 3848.4 L207.8 3836.0 L208.3 3823.6 L208.8 3811.2 L209.3 3798.9 L209.8 3786.5 L210.3 3774.1 L210.8 3761.7 L211.3 3749.3 L211.8 3736.9 L212.2 3724.5 L212.7 3712.1 L213.2 3699.7 L213.6 3687.3 L214.1 3674.9 L214.5 3662.5 L215.0 3650.1 L215.4 3637.7 L215.9 3625.3 L216.3 3612.9 L216.7 3600.5 L217.2 3588.1 L217.6 3575.7 L218.1 3563.3 L218.6 3550.9 L219.0 3538.5 L219.5 3526.1 L219.9 3513.7 L220.4 3501.3 L220.9 3488.9 L221.4 3476.5 L222.0 3464.1 L222.5 3451.7 L223.1 3439.4 L223.9 3427.0 L224.8 3414.6 L226.0 3402.3 L227.2 3389.9 L228.8 3377.6 L231.0 3365.4 L236.6 3354.6 L238.6 3356.4 L240.5 3360.3 L242.5 3368.0 L244.4 3378.3 L246.4 3393.3 L248.3 3419.4 L250.3 3453.9 L252.3 3492.3 L254.2 3531.3 L256.2 3565.7 L258.1 3596.8 L260.1 3623.0 L262.0 3643.9 L264.0 3657.9 L266.0 3651.7 L268.0 3638.3 L270.0 3614.6 L272.0 3583.8 L274.0 3545.7 L276.0 3512.0 L277.9 3479.7 L279.9 3447.3 L281.9 3414.7 L283.9 3383.0 L285.9 3350.6 L287.9 3328.5 L289.9 3316.7 L291.9 3312.3 L294.5 3315.5 L297.0 3322.3 L299.6 3334.0 L302.2 3349.1 L304.8 3370.2 L307.3 3405.7 L309.9 3452.0 L312.5 3503.3 L315.0 3555.4 L317.6 3601.5 L320.2 3643.4 L322.8 3679.0 L325.3 3707.5 L327.9 3726.1 L330.1 3719.4 L332.3 3705.1 L334.5 3679.7 L336.7 3646.6 L338.9 3605.8 L341.1 3569.7 L343.2 3535.0 L345.4 3500.3 L347.6 3465.3 L349.8 3431.3 L352.0 3396.6 L354.2 3372.9 L356.4 3360.2 L358.6 3355.5 L361.3 3357.7 L363.9 3362.6 L366.6 3371.9 L369.3 3384.6 L372.0 3403.0 L374.6 3435.0 L377.3 3477.3 L380.0 3524.4 L382.6 3572.2 L385.3 3614.4 L388.0 3652.5 L390.7 3684.7 L393.3 3710.3 L396.0 3727.5 L398.3 3720.9 L400.7 3706.8 L403.0 3681.6 L405.3 3648.9 L407.7 3608.7 L410.0 3572.9 L412.4 3538.6 L414.7 3504.4 L417.0 3469.8 L419.4 3436.2 L421.7 3401.9 L424.0 3378.5 L426.4 3365.9 L428.7 3361.3 L431.4 3363.4 L434.1 3367.9 L436.8 3376.6 L439.5 3388.4 L442.2 3405.6 L444.9 3435.4 L447.6 3474.9 L450.4 3518.9 L453.1 3563.5 L455.8 3602.8 L458.5 3638.4 L461.2 3668.4 L463.9 3692.3 L466.6 3708.3 L468.7 3701.8 L470.8 3687.8 L472.9 3663.0 L475.0 3630.8 L477.1 3591.0 L479.2 3555.8 L481.2 3521.9 L483.3 3488.1 L485.4 3454.0 L487.5 3420.8 L489.6 3387.0 L491.7 3363.9 L493.8 3351.5 L495.9 3346.9 L498.6 3349.0 L501.4 3353.5 L504.1 3362.2 L506.9 3374.0 L509.6 3391.1 L512.4 3421.0 L515.1 3460.4 L517.8 3504.3 L520.6 3548.8 L523.3 3588.1 L526.1 3623.7 L528.8 3653.6 L531.6 3677.5 L534.3 3693.5 L536.4 3687.5 L538.6 3674.5 L540.7 3651.5 L542.8 3621.5 L544.9 3584.6 L547.1 3551.9 L549.2 3520.5 L551.3 3489.1 L553.5 3457.4 L555.6 3426.6 L557.7 3395.2 L559.8 3373.8 L562.0 3362.2 L564.1 3358.0 L566.8 3360.0 L569.6 3364.2 L572.3 3372.4 L575.1 3383.6 L577.8 3399.8 L580.6 3427.9 L583.3 3465.1 L586.0 3506.6 L588.8 3548.7 L591.5 3585.8 L594.3 3619.3 L597.0 3647.6 L599.8 3670.2 L602.5 3685.3 L604.6 3679.5 L606.6 3667.1 L608.7 3645.0 L610.7 3616.3 L612.8 3580.9 L614.8 3549.6 L616.9 3519.4 L619.0 3489.4 L621.0 3459.0 L623.1 3429.5 L625.1 3399.4 L627.2 3378.8 L629.2 3367.8 L631.3 3363.7 L634.0 3365.6 L636.8 3369.6 L639.5 3377.4 L642.3 3388.0 L645.0 3403.4 L647.8 3430.2 L650.5 3465.5 L653.2 3504.9 L656.0 3544.9 L658.7 3580.1 L661.5 3612.0 L664.2 3638.9 L667.0 3660.4 L669.7 3674.7 L671.8 3669.3 L673.9 3657.7 L676.1 3637.0 L678.2 3610.2 L680.3 3577.0 L682.4 3547.7 L684.5 3519.5 L686.7 3491.4 L688.8 3463.0 L690.9 3435.4 L693.0 3407.2 L695.2 3387.9 L697.3 3377.6 L699.4 3373.8 L702.1 3375.6 L704.8 3379.5 L707.4 3387.1 L710.1 3397.3 L712.8 3412.1 L715.5 3438.0 L718.1 3472.2 L720.8 3510.3 L723.5 3548.9 L726.2 3582.9 L728.9 3613.7 L731.5 3639.7 L734.2 3660.4 L736.9 3674.3 L739.1 3669.0 L741.4 3657.5 L743.6 3637.2 L745.8 3610.8 L748.0 3578.2 L750.3 3549.3 L752.5 3521.5 L754.7 3493.8 L757.0 3465.9 L759.2 3438.7 L761.4 3410.9 L763.6 3392.0 L765.9 3381.8 L768.1 3378.1 L770.7 3379.9 L773.2 3383.7 L775.8 3391.1 L778.4 3401.1 L781.0 3415.6 L783.5 3441.0 L786.1 3474.4 L788.7 3511.7 L791.2 3549.5 L793.8 3582.8 L796.4 3613.0 L799.0 3638.4 L801.5 3658.7 L804.1 3672.3 L806.2 3667.1 L808.4 3656.1 L810.5 3636.4 L812.6 3610.8 L814.8 3579.3 L816.9 3551.4 L819.0 3524.5 L821.2 3497.7 L823.3 3470.7 L825.5 3444.4 L827.6 3417.6 L829.7 3399.3 L831.9 3389.4 L834.0 3385.8 L836.6 3387.5 L839.3 3391.1 L841.9 3398.1 L844.6 3407.5 L847.2 3421.3 L849.9 3445.2 L852.5 3476.8 L855.1 3512.0 L857.8 3547.7 L860.4 3579.2 L863.1 3607.7 L865.7 3631.7 L868.4 3650.9 L871.0 3663.7 L873.2 3658.6 L875.3 3647.6 L877.5 3628.1 L879.6 3602.8 L881.8 3571.5 L883.9 3543.8 L886.1 3517.2 L888.3 3490.6 L890.4 3463.8 L892.6 3437.7 L894.7 3411.1 L896.9 3392.9 L899.0 3383.2 L901.2 3379.6 L903.8 3381.4 L906.3 3385.1 L908.9 3392.5 L911.5 3402.3 L914.1 3416.8 L916.6 3441.8 L919.2 3475.0 L921.8 3511.9 L924.3 3549.3 L926.9 3582.3 L929.5 3612.2 L932.1 3637.4 L934.6 3657.5 L937.2 3670.9 L939.4 3665.6 L941.5 3654.4 L943.7 3634.4 L945.9 3608.4 L948.0 3576.4 L950.2 3547.9 L952.4 3520.7 L954.5 3493.4 L956.7 3465.9 L958.8 3439.2 L961.0 3411.9 L963.2 3393.3 L965.3 3383.3 L967.5 3379.6 L970.1 3381.4 L972.6 3385.3 L975.2 3392.9 L977.8 3403.1 L980.4 3418.0 L982.9 3443.9 L985.5 3478.1 L988.1 3516.2 L990.6 3554.9 L993.2 3589.0 L995.8 3619.9 L998.4 3645.9 L1000.9 3666.6 L1003.5 3680.5 L1005.6 3674.9 L1007.7 3662.9 L1009.9 3641.5 L1012.0 3613.7 L1014.1 3579.4 L1016.2 3549.0 L1018.4 3519.8 L1020.5 3490.7 L1022.6 3461.3 L1024.7 3432.7 L1026.8 3403.5 L1029.0 3383.6 L1031.1 3372.9 L1033.2 3369.0 L1035.9 3370.9 L1038.6 3374.9 L1041.2 3382.6 L1043.9 3393.1 L1046.6 3408.4 L1049.3 3435.1 L1052.0 3470.2 L1054.6 3509.4 L1057.3 3549.1 L1060.0 3584.1 L1062.7 3615.8 L1065.3 3642.5 L1068.0 3663.8 L1070.7 3678.1 L1072.9 3672.7 L1075.2 3661.0 L1077.4 3640.3 L1079.6 3613.3 L1081.8 3580.1 L1084.1 3550.7 L1086.3 3522.4 L1088.5 3494.2 L1090.8 3465.7 L1093.0 3438.0 L1095.2 3409.7 L1097.4 3390.4 L1099.7 3380.0 L1101.9 3376.2 L1104.5 3378.1 L1107.2 3382.0 L1109.8 3389.8 L1112.5 3400.3 L1115.1 3415.5 L1117.8 3442.0 L1120.4 3477.1 L1123.0 3516.1 L1125.7 3555.7 L1128.3 3590.6 L1131.0 3622.2 L1133.6 3648.8 L1136.3 3670.1 L1138.9 3684.3 L1141.1 3678.7 L1143.2 3666.8 L1145.4 3645.5 L1147.5 3617.9 L1149.7 3583.9 L1151.8 3553.7 L1154.0 3524.7 L1156.2 3495.7 L1158.3 3466.5 L1160.5 3438.1 L1162.6 3409.1 L1164.8 3389.3 L1166.9 3378.7 L1169.1 3374.8 L1171.7 3376.7 L1174.4 3380.7 L1177.0 3388.5 L1179.7 3399.0 L1182.3 3414.3 L1185.0 3440.9 L1187.6 3476.1 L1190.2 3515.3 L1192.9 3555.1 L1195.5 3590.2 L1198.2 3621.9 L1200.8 3648.7 L1203.5 3670.0 L1206.1 3684.3 L1208.2 3678.7 L1210.3 3666.7 L1212.5 3645.4 L1214.6 3617.7 L1216.7 3583.5 L1218.8 3553.2 L1220.9 3524.2 L1223.1 3495.1 L1225.2 3465.8 L1227.3 3437.3 L1229.4 3408.2 L1231.6 3388.4 L1233.7 3377.7 L1235.8 3373.8 L1238.4 3375.6 L1241.0 3379.6 L1243.6 3387.3 L1246.2 3397.8 L1248.8 3412.9 L1251.4 3439.3 L1254.0 3474.2 L1256.7 3513.1 L1259.3 3552.5 L1261.9 3587.2 L1264.5 3618.7 L1267.1 3645.2 L1269.7 3666.4 L1272.3 3680.5 L1274.5 3674.7 L1276.8 3662.2 L1279.0 3640.0 L1281.2 3611.1 L1283.4 3575.5 L1285.7 3544.0 L1287.9 3513.7 L1290.1 3483.4 L1292.4 3452.9 L1294.6 3423.2 L1296.8 3392.9 L1299.0 3372.2 L1301.3 3361.1 L1303.5 3357.0 L1306.1 3359.0 L1308.6 3363.3 L1311.2 3371.8 L1313.8 3383.1 L1316.4 3399.7 L1318.9 3428.5 L1321.5 3466.5 L1324.1 3508.9 L1326.6 3551.9 L1329.2 3589.8 L1331.8 3624.1 L1334.4 3653.0 L1336.9 3676.1 L1339.5 3691.5 L1341.7 3685.7 L1344.0 3673.3 L1346.2 3651.2 L1348.4 3622.5 L1350.6 3587.2 L1352.9 3555.8 L1355.1 3525.7 L1357.3 3495.6 L1359.6 3465.3 L1361.8 3435.8 L1364.0 3405.6 L1366.2 3385.1 L1368.5 3374.1 L1370.7 3370.0 L1373.3 3371.9 L1376.0 3376.1 L1378.6 3384.2 L1381.3 3395.1 L1383.9 3411.0 L1386.6 3438.7 L1389.2 3475.2 L1391.8 3516.0 L1394.5 3557.3 L1397.1 3593.7 L1399.8 3626.7 L1402.4 3654.5 L1405.1 3676.7 L1407.7 3691.5 L1409.9 3685.7 L1412.2 3673.2 L1414.4 3650.9 L1416.6 3622.0 L1418.8 3586.4 L1421.1 3554.8 L1423.3 3524.4 L1425.5 3494.1 L1427.8 3463.6 L1430.0 3433.9 L1432.2 3403.5 L1434.4 3382.8 L1436.7 3371.7 L1438.9 3367.6 L1441.5 3369.5 L1444.0 3373.6 L1446.5 3381.7 L1449.1 3392.5 L1451.7 3408.3 L1454.2 3435.7 L1456.8 3471.9 L1459.3 3512.3 L1461.8 3553.3 L1464.4 3589.4 L1467.0 3622.1 L1469.5 3649.6 L1472.0 3671.6 L1474.6 3686.3 L1476.8 3680.6 L1478.9 3668.3 L1481.1 3646.4 L1483.2 3617.9 L1485.4 3582.9 L1487.5 3551.8 L1489.7 3521.9 L1491.9 3492.1 L1494.0 3462.0 L1496.2 3432.8 L1498.3 3402.9 L1500.5 3382.6 L1502.6 3371.6 L1504.8 3367.6 L1507.5 3369.5 L1510.2 3373.6 L1512.8 3381.7 L1515.5 3392.5 L1518.2 3408.3 L1520.9 3435.7 L1523.5 3471.9 L1526.2 3512.3 L1528.9 3553.3 L1531.6 3589.4 L1534.3 3622.1 L1536.9 3649.6 L1539.6 3671.6 L1542.3 3686.3 L1544.4 3680.4 L1546.5 3667.8 L1548.7 3645.5 L1550.8 3616.4 L1552.9 3580.5 L1555.0 3548.7 L1557.2 3518.2 L1559.3 3487.7 L1561.4 3457.0 L1563.5 3427.1 L1565.6 3396.5 L1567.8 3375.7 L1569.9 3364.5 L1572.0 3360.4 L1574.6 3362.4 L1577.3 3366.6 L1579.9 3374.7 L1582.6 3385.8 L1585.2 3401.8 L1587.9 3429.8 L1590.5 3466.8 L1593.1 3507.9 L1595.8 3549.7 L1598.4 3586.5 L1601.1 3619.8 L1603.7 3647.9 L1606.4 3670.3 L1609.0 3685.3 L1611.2 3679.5 L1613.3 3667.2 L1615.5 3645.2 L1617.6 3616.6 L1619.8 3581.4 L1621.9 3550.2 L1624.1 3520.2 L1626.3 3490.3 L1628.4 3460.1 L1630.6 3430.7 L1632.7 3400.7 L1634.9 3380.2 L1637.0 3369.2 L1639.2 3365.2 L1641.8 3367.2 L1644.5 3371.4 L1647.1 3379.6 L1649.8 3390.7 L1652.4 3406.8 L1655.1 3434.9 L1657.7 3472.0 L1660.3 3513.4 L1663.0 3555.3 L1665.6 3592.3 L1668.3 3625.7 L1670.9 3654.0 L1673.6 3676.5 L1676.2 3691.5 L1678.4 3685.5 L1680.5 3672.8 L1682.7 3650.0 L1684.8 3620.5 L1687.0 3584.0 L1689.1 3551.7 L1691.3 3520.7 L1693.5 3489.8 L1695.6 3458.5 L1697.8 3428.1 L1699.9 3397.1 L1702.1 3376.0 L1704.2 3364.6 L1706.4 3360.4 L1709.1 3362.4 L1711.8 3366.7 L1714.4 3375.1 L1717.1 3386.4 L1719.8 3402.9 L1722.5 3431.6 L1725.2 3469.4 L1727.8 3511.7 L1730.5 3554.5 L1733.2 3592.2 L1735.9 3626.4 L1738.5 3655.2 L1741.2 3678.1 L1743.9 3693.5 L1746.1 3687.5 L1748.3 3674.8 L1750.5 3652.1 L1752.7 3622.6 L1754.9 3586.2 L1757.1 3553.9 L1759.2 3522.9 L1761.4 3492.0 L1763.6 3460.8 L1765.8 3430.5 L1768.0 3399.5 L1770.2 3378.3 L1772.4 3367.0 L1774.6 3362.8 L1777.3 3364.8 L1780.0 3369.1 L1782.6 3377.5 L1785.3 3388.8 L1788.0 3405.3 L1790.7 3434.0 L1793.3 3471.8 L1796.0 3514.1 L1798.7 3556.9 L1801.4 3594.6 L1804.1 3628.8 L1806.7 3657.6 L1809.4 3680.5 L1812.1 3695.9 L1814.2 3689.7 L1816.3 3676.3 L1818.5 3652.5 L1820.6 3621.7 L1822.7 3583.6 L1824.8 3549.8 L1826.9 3517.4 L1829.1 3485.0 L1831.2 3452.4 L1833.3 3420.6 L1835.4 3388.2 L1837.6 3366.1 L1839.7 3354.2 L1841.8 3349.8 L1844.5 3351.9 L1847.2 3356.4 L1849.8 3365.1 L1852.5 3376.9 L1855.2 3394.1 L1857.9 3424.1 L1860.5 3463.6 L1863.2 3507.6 L1865.9 3552.3 L1868.6 3591.6 L1871.3 3627.3 L1873.9 3657.3 L1876.6 3681.3 L1879.3 3697.3 L1881.5 3691.1 L1883.8 3677.7 L1886.0 3653.9 L1888.2 3623.0 L1890.4 3584.9 L1892.7 3551.0 L1894.9 3518.6 L1897.1 3486.2 L1899.4 3453.5 L1901.6 3421.7 L1903.8 3389.2 L1906.0 3367.1 L1908.3 3355.2 L1910.5 3350.8 L1913.2 3352.9 L1915.8 3357.6 L1918.5 3366.6 L1921.2 3378.7 L1923.9 3396.4 L1926.5 3427.2 L1929.2 3467.8 L1931.9 3513.1 L1934.5 3559.1 L1937.2 3599.6 L1939.9 3636.3 L1942.6 3667.2 L1945.2 3691.8 L1947.9 3708.3 L1950.0 3701.7 L1952.2 3687.5 L1954.3 3662.2 L1956.4 3629.3 L1958.5 3588.8 L1960.7 3552.9 L1962.8 3518.4 L1964.9 3484.0 L1967.1 3449.3 L1969.2 3415.5 L1971.3 3381.0 L1973.4 3357.5 L1975.6 3344.8 L1977.7 3340.2 L1980.4 3342.5 L1983.2 3347.4 L1985.9 3356.9 L1988.7 3369.8 L1991.4 3388.6 L1994.2 3421.3 L1996.9 3464.4 L1999.6 3512.4 L2002.4 3561.2 L2005.1 3604.2 L2007.9 3643.1 L2010.6 3675.9 L2013.4 3702.0 L2016.1 3719.5 L2018.3 3712.7 L2020.6 3698.2 L2022.8 3672.3 L2025.0 3638.6 L2027.2 3597.2 L2029.5 3560.4 L2031.7 3525.1 L2033.9 3489.9 L2036.2 3454.3 L2038.4 3419.7 L2040.6 3384.4 L2042.8 3360.3 L2045.1 3347.4 L2047.3 3342.6 L2050.0 3344.8 L2052.6 3349.6 L2055.3 3358.9 L2058.0 3371.5 L2060.6 3389.8 L2063.3 3421.7 L2065.9 3463.8 L2068.6 3510.7 L2071.3 3558.2 L2073.9 3600.2 L2076.6 3638.1 L2079.3 3670.1 L2081.9 3695.6 L2084.6 3712.7 L2086.8 3706.1 L2089.0 3691.9 L2091.2 3666.6 L2093.3 3633.7 L2095.5 3593.2 L2097.7 3557.3 L2099.9 3522.8 L2102.1 3488.4 L2104.3 3453.7 L2106.5 3419.9 L2108.6 3385.4 L2110.8 3361.9 L2113.0 3349.2 L2115.2 3344.6 L2117.5 3346.8 L2119.7 3351.6 L2122.0 3360.9 L2124.3 3373.5 L2126.6 3391.9 L2128.8 3423.7 L2131.1 3465.9 L2133.4 3512.8 L2135.6 3560.4 L2137.9 3602.4 L2140.2 3640.4 L2142.5 3672.4 L2144.7 3697.9 L2147.0 3715.0" stroke-dasharray="46 2.2 9 2.2"/></g>
<line x1="190" y1="3506.5" x2="2133" y2="3506.5" stroke="#c00000" stroke-width="6.0"/>
<text x="178.2" y="3164.2" font-size="43.6" text-anchor="end" class="sa">7000</text>
<text x="178.2" y="3265.4" font-size="43.6" text-anchor="end" class="sa">6500</text>
<text x="178.2" y="3366.6" font-size="43.6" text-anchor="end" class="sa">6000</text>
<text x="178.2" y="3467.9" font-size="43.6" text-anchor="end" class="sa">5500</text>
<text x="178.2" y="3569.1" font-size="43.6" text-anchor="end" class="sa">5000</text>
<text x="178.2" y="3670.3" font-size="43.6" text-anchor="end" class="sa">4500</text>
<text x="178.2" y="3771.6" font-size="43.6" text-anchor="end" class="sa">4000</text>
<text x="178.2" y="3872.8" font-size="43.6" text-anchor="end" class="sa">3500</text>
<text x="178.2" y="3974.0" font-size="43.6" text-anchor="end" class="sa">3000</text>
<text x="187.6" y="4008.5" font-size="43.6" text-anchor="middle" class="sa">0</text>
<text x="578.6" y="4008.5" font-size="43.6" text-anchor="middle" class="sa">0.4</text>
<text x="967.2" y="4008.5" font-size="43.6" text-anchor="middle" class="sa">0.8</text>
<text x="1355.8" y="4008.5" font-size="43.6" text-anchor="middle" class="sa">1.2</text>
<text x="1744.4" y="4008.5" font-size="43.6" text-anchor="middle" class="sa">1.6</text>
<text x="2133.0" y="4008.5" font-size="43.6" text-anchor="middle" class="sa">2</text>
<text x="1168.9" y="4066.2" font-size="48.1" text-anchor="middle" class="sa">Time (s)</text>
<text transform="translate(64.5 3551.2) rotate(-90)" font-size="48.1" text-anchor="middle" class="sa">Voltage (V)</text>
</g>
<text y="4161.8" class="se" font-size="74"><tspan x="913.3">(</tspan><tspan font-weight="bold">d</tspan><tspan>)</tspan><tspan x="1030.7" font-style="italic">K</tspan><tspan x="1076.7" font-size="49">ic2</tspan><tspan x="1142">=</tspan><tspan x="1193.7">50</tspan></text>
</svg>
</body></html>
